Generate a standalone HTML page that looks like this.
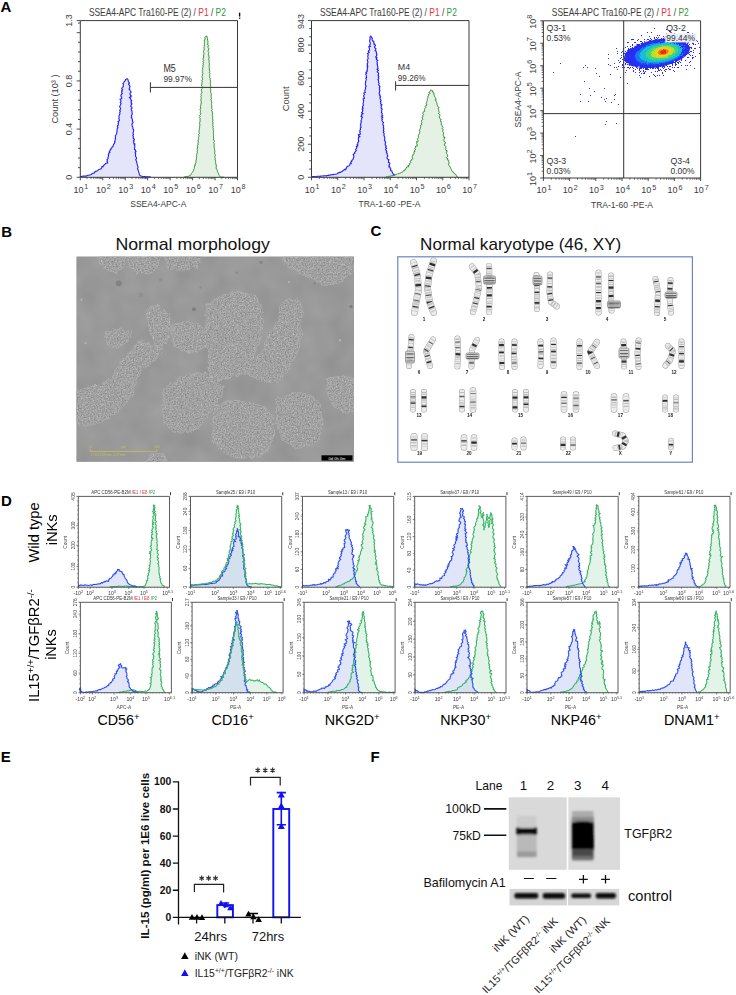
<!DOCTYPE html>
<html><head><meta charset="utf-8"><title>Figure</title>
<style>
html,body{margin:0;padding:0;background:#fff;}
body{width:736px;height:995px;overflow:hidden;}
svg{display:block;font-family:"Liberation Sans", sans-serif;}
</style></head>
<body>
<svg width="736" height="995" viewBox="0 0 736 995" font-family='"Liberation Sans", sans-serif'>
<rect x="0" y="0" width="736" height="995" fill="#fff"/>
<text x="0.60" y="12.10" font-size="15" text-anchor="start" fill="#000" font-weight="bold">A</text>
<text x="1.20" y="236.70" font-size="15" text-anchor="start" fill="#000" font-weight="bold">B</text>
<text x="370.60" y="236.40" font-size="15" text-anchor="start" fill="#000" font-weight="bold">C</text>
<text x="1.00" y="505.70" font-size="15" text-anchor="start" fill="#000" font-weight="bold">D</text>
<text x="0.80" y="761.90" font-size="15" text-anchor="start" fill="#000" font-weight="bold">E</text>
<text x="370.50" y="761.90" font-size="15" text-anchor="start" fill="#000" font-weight="bold">F</text>
<path d="M80.4 177.3l0-.9.5.2.7 0 .8-.3.9-.2 1 0 1 0 1 0 .9-.6.7-.2 1.1 0 .8-.3.9-.2.7-.5.7-.6.8-.5 1.1.1.4-1 .7-.5.8-.5.9-.2.8-.5.7-.6.7-.4.7-.3.8-.4.8-.4.5-.8.1-1.1 1.2.2 0-1.1.9-.2.2-1 .9-.2.3-.7.8-.4 1.5-.3-.7-1.6.5-.5-.6-1 .6-.7.6-.7-.1-1 .4-.8.1-1-.3-.9.8-.8-.3-.9 1.2-.4-.7-1 .9-.9.2-1 .7-.5 0-1 .9-.3.1-.9.9-.4.2-.6.3-.7.1-1 1-1 0-.6.6-.5-.6-.8.5-.6.2-.7 0-.8.2-.8.1-.8-.1-.9-.1-.9.5-.9.5-.8.5-.9 0-1 .2-1 0-.7.1-.8 0-.8.3-.7.6-.7-.7-1 0-.9 1.2-.6-.5-1 .4-.8.1-.9-.6-1 1.5-.6-.1-1-.5-.9.4-.9-.1-.9-.3-.9.4-.7.3-.8.4-.8 0-.8-.2-.9.7-.9-.8-1 .7-.8.3-.9-.5-1-.5-.9.4-.9.5-.8.2-.9.5-.8-1-.9.5-.7.3-.8-.3-.8-.8-.8 1.4-.6.6-.6-.4-1.1-.7-1.1.3-.9.3-.8 1-.7-.7-.8-.1-.8.6-.7-.5-.8.9-.5-.9-1 .3-.9.7-.7.6-.8 0-1 .1-.9-.5-1.1.8-.6.3-.7.3-.6 1-1 .3-1.1.9-.3.4-.5.6 0 .3.5.3.9.3 1.7.6.4 0 .5.6.4-1.1.8.2.6.7.5.2.6.5.7-.5.8.1.9-.7 1 .9.9.5 1.1.8 1.1-1.4 1.5.6 1.4.8.5-.7.7.8.6-2 .8 1 .6.3.7.3.8.9.7-.8.8.7.8-.8.9 1.1.8-.4.9-.8.9-.1.9 1.2.8.2.9-.9 1 0 .9.8.9 0 .9 0 1 .3.9-.2.9-.7 1 .3.9-.5 1 .9.8.1.9.4.9-.3.9.6.8.2.9-.9.9-.3.8.3.8-.1.8.5.7.4.7-.3.7.3.6.3.7.3.5 0 1.3-.5 1.2 0 1.1.4 1-.7 1 .6.9-.1.8-.2.9.9.7.5.6-1 .9.7.6-.7.7.4.6-.2.7.2.6 1.2.5-1 .7.6.6.1.7 0 1-.4.9.1.8 0 .8 1.1.6-.3.8.8.6-.8.8-.2.8.7.6-.3.9.1.9-.1 1.1.8.5.2.8.1.8-.9 1 .4.8.6.9 0 .9.2.9.2 1 .3.9.2.9.5.8-.1 1-.6 1 .5.7.3.8.3.7.1.7.1.6.3.5.4 1.6.4.9.6.4.7.3.9.2.7.2.8.4.9-.4 1 .4 1 0 1 0 .9.1.9.1.7-.1.5 0 0 .4" fill="#e4e4fb" fill-opacity="1.0" stroke="#1f1fff" stroke-width="1.1" stroke-linejoin="round"/>
<path d="M184.5 177.3l0-.5.5 0 .7-.1.8-.1.9 0 .9-.3.9-.4 1.1-.4.6-1 .2-.6.3-.4.4-.5.5-.4.3-.6.3-.5.5-.6.2-.7.2-.8.4-.7.1-.9 0-.9.6-.9.1-1 .2-1.1.8-1-.1-1.3-.2-.6.2-.6.7-.5-.5-.8.3-.6.1-.6.1-.7.1-.7-.2-.8.1-.7.2-.7.1-.8.4-.7.2-.7-.5-.9.5-.8-.3-.8.1-.8.2-.8.2-.9 0-.8-.5-.9 1.1-.8-.3-.9 0-.9.4-.9-.3-.9-.1-.9.6-.9 0-.9-.2-1 .5-.9 0-.9-.3-1 .8-.9-.3-1-.3-.7.4-.7 0-.7.3-.8-.5-.8.6-.7 0-.8 0-.7.1-.8.2-.8-.1-.9-.1-.8-.2-.8.6-.8 0-.9-.1-.8 0-.9.2-.8-.8-.9.8-.9-.7-.9.7-.8.3-.9.3-.8-.6-.9.3-.9-.1-.8-.5-.9.8-.9-.2-.8.1-.9-.2-.8.3-.9.1-.8.3-.8-.2-.9.9-.8-1-.8.1-.8.1-.8-.2-.8.7-.7-.2-.8-.5-.8.4-.7.3-.7-.6-.8.5-.6-.1-.7.7-.7-.4-1-.2-1 .1-1 .6-.9-.5-.9.7-.9-.9-.9.4-.8.1-.9-.1-.8.2-.8.2-.8-.2-.8-.2-.8.8-.7 0-.7-.5-.8.3-.7-.6-.8.9-.7-.5-.7.2-.8.7-.6-.8-.8.4-.7-.2-.8-.2-.8.2-.7.4-.7-.3-.8.2-.8.4-.8-.2-.8-.2-.9.7-.8-.3-.9.4-.8-.6-.9.8-.9-.7-1-.1-.9.4-.9.1-.9.2-.9-.2-.9.4-.9.2-.9-.5-.9-.1-.9.3-.9.4-.8 0-.8-.2-.9-.1-.8.3-.8.3-.7-.4-.8.5-.6-.2-.7.1-.7-.2-.6.6-.5-.3-.6-.4-.5.9-2.1-.1-1.4.7-.7 0-.4.2-.3.3.2.3-.2.4 0 .1.5.1.8.4 1.4.3 2.2.2.5-.3.5.2.6-.2.6.2.7-.4.7 1 .6-.3.8-.1.7-.1.8.7.8 0 .8-.3.9-.2.9 0 .8.7.9-.3.9-.3.9.4.9.3.9 0 .9.2.9-.6 1 .4.9.1.9.1.9-.1.9.2.9.1.8-.2.9.1.8-.1.8.1.8-.2.8.4.8-.1.9.1.8.3.7-.5.8.5.8.3.7-.6.8.2.7.3.7-.3.7 0 .7.2.7.5.7-.3.8.4.7-.1.7 0 .8.2.7-.3.8.3.8-.3.8.2.8.3.9-.2.9 0 .9-.1 1 .4.9-.4 1.1.3 1-.1.7.7.6 0 .7-.6.7.5.7-.2.7-.1.8.7.7-.4.8-.4.8.4.7.2.8-.1.8.2.8-.1.8-.1.9.4.8-.2.8.2.9-.1.8 0 .9.6.8-.6.9.2.8.5.9-.1.9.3.8-.2.9-.1.9.4.8-.1.9.1.8 0 .9.1.9.1.8-.4.9.3.8.2.8-.4.9.4.8-.3.8.6.8-.6.9.5.7.2.8-.3.8.5.8 0 .7-.3.8.2.7-.1.9.1.9 0 .9.1.9-.1 1 .2.9-.2.9.1.9.8.9 0 .9-.8.9.6.9-.1.9.1.9 0 .9-.4.9.7.8-.1.9.1.9.3.8 0 .8-.1.9 0 .8 0 .8.6.8 0 .8-.7.8.5.7-.2.8.4.7.1.7-.6.8.9.6 0 .7-.4.7.3.6.5.5-.4.7-.1.6.7.4 0 1.6-.1 1.3.1 1.3 1 .8 0 1.1.2.8.4.7.3.7.3.7.1.6.5.4.1.6.3.4.3.5.9.9 1 .1 1 .1.8-.1.5 0 0 .1" fill="#e5f1e5" fill-opacity="1.0" stroke="#2b8f2b" stroke-width="1.0" stroke-linejoin="round"/>
<path d="M80.3,177.3 L80.3,20.6 L237.5,20.6 L237.5,177.3 Z" fill="none" stroke="#3a3a3a" stroke-width="1"/>
<text x="72.30" y="177.30" font-size="9" text-anchor="middle" fill="#3c3c3c" transform="rotate(-90 72.30 177.30)">0</text>
<text x="72.30" y="129.10" font-size="9" text-anchor="middle" fill="#3c3c3c" transform="rotate(-90 72.30 129.10)">0.4</text>
<text x="72.30" y="80.90" font-size="9" text-anchor="middle" fill="#3c3c3c" transform="rotate(-90 72.30 80.90)">0.8</text>
<text x="72.30" y="20.60" font-size="9" text-anchor="middle" fill="#3c3c3c" transform="rotate(-90 72.30 20.60)">1.3</text>
<text x="58.20" y="99.00" font-size="9.6" text-anchor="middle" fill="#3c3c3c" transform="rotate(-90 58.20 99.00)" textLength="49.00" lengthAdjust="spacingAndGlyphs">Count  (10³ )</text>
<text x="80.90" y="192.60" font-size="9.0" text-anchor="middle" fill="#3c3c3c">10<tspan font-size="7.2" dx="0.9" dy="-3.42">1</tspan></text>
<text x="103.36" y="192.60" font-size="9.0" text-anchor="middle" fill="#3c3c3c">10<tspan font-size="7.2" dx="0.9" dy="-3.42">2</tspan></text>
<text x="125.82" y="192.60" font-size="9.0" text-anchor="middle" fill="#3c3c3c">10<tspan font-size="7.2" dx="0.9" dy="-3.42">3</tspan></text>
<text x="148.28" y="192.60" font-size="9.0" text-anchor="middle" fill="#3c3c3c">10<tspan font-size="7.2" dx="0.9" dy="-3.42">4</tspan></text>
<text x="170.74" y="192.60" font-size="9.0" text-anchor="middle" fill="#3c3c3c">10<tspan font-size="7.2" dx="0.9" dy="-3.42">5</tspan></text>
<text x="193.20" y="192.60" font-size="9.0" text-anchor="middle" fill="#3c3c3c">10<tspan font-size="7.2" dx="0.9" dy="-3.42">6</tspan></text>
<text x="215.66" y="192.60" font-size="9.0" text-anchor="middle" fill="#3c3c3c">10<tspan font-size="7.2" dx="0.9" dy="-3.42">7</tspan></text>
<text x="238.12" y="192.60" font-size="9.0" text-anchor="middle" fill="#3c3c3c">10<tspan font-size="7.2" dx="0.9" dy="-3.42">8</tspan></text>
<text x="158.30" y="207.30" font-size="9.4" text-anchor="middle" fill="#3c3c3c" textLength="56.00" lengthAdjust="spacingAndGlyphs">SSEA4-APC-A</text>
<text x="157.40" y="15.90" font-size="10.6" text-anchor="middle" fill="#3c3c3c" textLength="137.00" lengthAdjust="spacingAndGlyphs"><tspan fill="#3c3c3c">SSEA4-APC Tra160-PE (2) / </tspan><tspan fill="#f0303a">P1</tspan><tspan fill="#3c3c3c"> / </tspan><tspan fill="#2e9a3a">P2</tspan></text>
<rect x="238.90" y="12.60" width="1.40" height="4.00" fill="#111" stroke="none" stroke-width="1"/>
<rect x="238.90" y="17.60" width="1.40" height="1.20" fill="#111" stroke="none" stroke-width="1"/>
<text x="163.40" y="72.30" font-size="10.2" text-anchor="start" fill="#333" textLength="12.40" lengthAdjust="spacingAndGlyphs">M5</text>
<text x="163.40" y="82.00" font-size="9.9" text-anchor="start" fill="#333" textLength="28.60" lengthAdjust="spacingAndGlyphs">99.97%</text>
<path d="M311.9 177.3l0-.5.5.1.6-.4.7 0 .9.1.9.2.9-.3.9-.3.9 0 1 .1.8.1.8-.3.8-.1.7 0 .8 0 .7-.2.8 0 .8 0 .9.1.8-.4 1 0 .7-.5.8.2.8-.3.8-.2.9-.1.9.1.8-.5 1 .1.9-.1.9-.2.8-.2.6-1 1 .1.6-.6 1 .1.6-.6.7-.4.8-.3.5-.7.8-.3.5-.7 1.3.3.1-1.2.7-.5.1-1 .7-.5.7-.5 1.1-.2.4-.6.3-.7.1-.8 1.3-.1-.7-1.3.5-.6.8-.4-.2-1 .9-.4.6-.7-.1-.9.5-.7.2-.9 0-1-.7-1.2 1.1-.7.7-.5-.4-.9.7-.5.5-.7.7-.6-.9-1.1.6-.7.5-.7.3-.7-.6-1.1 1.6-.4-.9-1.2 1-.6-.3-1 .4-.8.7-.7-.2-1-.1-.9-.3-.9.4-.8-.2-.9 1.6-.5-1.4-1.1-.3-.9 2-.4 0-.8-.6-.9.6-.7-.6-.8.2-.8.6-.6 0-.8-.3-.8 1-.6-.3-.8-.2-.8-.5-.8.7-.8-.1-.8.2-.8.4-.8-.5-1 .5-.8.3-.9-.1-1 1-.9-1.7-.9.9-.6-.4-.7.5-.7 1.3-.6-1.8-.9.7-.7.5-.7-.1-.8.5-.8-1-.9 1.2-.7-.7-.9-.1-.8.9-.8.1-.8-.4-.9.1-.8.3-.8.2-.9.1-.8-.3-.9-.5-.9 1.7-.7-.4-.8-.5-1 0-.8.5-.8.2-.8-.7-.9 1.7-.6-.4-.8-.2-.9.4-.7 0-.8.5-.8-.3-.9.5-.8.3-.9-.8-.9 0-.9-.1-.9.4-.8-.2-.9.4-.8.3-.8.1-.9-.6-.9 1-.8-.5-.8.1-.9-.1-.8-.6-.9 1.1-.7-.8-.9 1.3-.7-.4-.9.8-.7-.4-.8.1-.8.4-.7-.6-.9.8-.6-.7-.9.3-.7-.4-.7.6-.9.2-1-.4-1-.3-1 .7-.8.3-.9-.2-1-.3-.9.3-.9.3-.8-1-1 1-.7 1-.8-1.1-.9.5-.7 1-.7-.4-.8.2-.7-.4-.8-.4-.8 1.9-.4-1-.8 0-.6.8-1.1-.3-1.3-.2-1.1-.4-1.1.5-.8.1-.9-.1-.8 0-.6.1-.6.5-.3.1-.4.3.3.1.5.6.6.6 1-.3 1.4.8 1.1 1.1.3-.1.8-.1.8.6.5-.4.9 1.3.5.3.9-1.1 1.2.4 1 1.2.9-.5 1.3-.5.7 1.2.5.1.6.1.7 0 .7.5.7-.5.8.5.7-.5.8-.9.9 1.6.7-.8.9 0 .8 1.6.7-.9 1 .1.9.3.8-.5 1 .7.8-.3 1 .5.9 0 .9.3 1-1.2.8 1.1.6.5.6-1.3.9.2.7.9.6.3.7.1.7-.8.9.7.6.3.8-.7.8.6.7 0 .8-.9.8.6.8-.1.8.4.8-.3.8.7.8-.4.8 0 .9.8.8.4.8-.7.9.4.9-.3.9.6.8-.4 1-.1.9-.5 1 .3.9.7.6-.4.8 1 .6-.8.9.6.7-.5.8.5.7.4.8.3.8-.8.9.6.7-.3.9.2.8 1.2.7-1.1 1 .5.8-.2.9 0 .8 1.1.8-.6.9 0 .9-.1.9-.2.8.8.8-.1.9-.3.9 1.2.7-1.6 1 1.4.7-1 1 .6.8-.6.9.4.7.6.8.8.7-.7.9 0 .8 0 .8.8.6-.1.8.1.7-.4.8.6.7-.2.9-.4 1 .7.9-.7 1 .6.8.4.9-.5.9.3.9.5.8.2.8-.1.9 0 .9-.3.8.5.8.5.8.4.7-.6.9.1.8-.2.8.8.7.5.7-.9.9.6.7.6.6-1.2.9.4.7.5.6 0 .7.6.6-.7.8.8.5.1.7.1 1 .6 1-.8 1.1-.1 1 .6.9 1.4.7-.6 1 .3.8-.3.9 1.3.5.2.8-.6.9-.4.9.7.5-.8.9 1.4.3-.1.7.2.6.5.5-.2 1.4 1.2.6.3.8.3.9.5.6.3.8.8.2.4.7.7.2.7.7 1 .1 1 .3 1.1-.2.9.5.9-.2.7.4.6 0 0 .5" fill="#e4e4fb" fill-opacity="1.0" stroke="#1f1fff" stroke-width="1.1" stroke-linejoin="round"/>
<path d="M385.9 177.3l0-.4.5-.2.7.5.6-.6.7-.2.9 0 .8-.3 1-.2.9 0 1-.3 1 0 .9-.4.8-.6.8-.2.8-.2.6-.6.9.1.7-.4.9 0 .4-.8.8-.3.8-.2.7-.4.3-.9 1.1.1.2-1.1 1-.1.2-1.1.6-.7.1-.8.8-.2 1.3 0-.7-1.4 1.3-.1.3-.7-.4-1.1 1-.3.5-.7-.3-1.1.2-.8 1.1-.4 0-1 1.1-.5-.4-1.1-.3-1.1.8-.7-.2-1.1 1.2-.6.3-.7-.3-.8 0-.8 1.1-.5-.4-1 1-.6-.8-1.1.6-.7.1-.8 0-.9 2-.4-.3-1-.8-1.1.9-.7-1-1.2 1.6-.5.1-.9-.4-1 .2-.8.5-.8.3-.7-.2-.9 0-.9.4-.7.1-.7.8-.6-.1-1 .3-.9-.7-1.1.8-.7.2-.8.1-.9.3-.8.1-.8-.4-.9 1.3-.6.2-.8-.5-.9.7-.7-.6-.9 0-.8.6-.6 1-.6-.6-.9-.5-.9 1-.6-.1-.9.1-.9.7-.8-.8-1.1.2-.8.4-.8 1.4-.6-.3-.9-.1-.9.2-.8.8-.7.5-.7-.7-1 .6-.7 1.2-.5-.6-1-.2-.8.5-.8.1-.9.5-.8.1-1-.1-1 .4-.8.5-.8-.3-1 .6-.7-.2-.9 1.2-.4.3-.6-.9-1 1-.3-.1-.6.8-1.4.6-.5.7.9 0 .5 1.1 0-.6 1 .9.4.7.5-.2 1 .1 1 .6.7.2 1 .6.9.4.9-.5.9 1.1.4-.7 1 .5.7.5.6.2.8.3.8 0 .9.3.8.2.9 1 .6.3.9-.9 1.1.7.8.1.9 0 .9.7.8-1.1 1 .9.6.3.7.5.7-.7 1 .3.7-.2.9.4.7 1 .6.4.7-1.1 1.1 1.1.6-.1.9.2.8-.1.9.1.9.9.7 0 .9.7.8-.9 1.2.5.6.8.6-1.1 1 .6.7.6.7-.2.8.2.8-.1.8 0 .9.5.7-.3.9 1.5.6-.9 1-.3.9 0 .9.2.8 1 .7.4.8-.5.9-1.1 1 1.1.7.6.7.6.7-.7 1 .4.7-.3.9.4.8 1.3.6-.8 1.1-.3 1 .8.7.5.8.1.9.3.9-1.4 1.2.5.8 1.1.6-.7 1.1 1.3.5 0 .9.3.8 0 .8-.2.9-.4.9.8.6.6.6.1.7.4.6 0 .7.9.7.1 1.1.5.9.5.9 1 .4.3.9.6.6.8.4.7.4.3.7.3.7.6.3 0 .7.5.1 0 .5" fill="#e5f1e5" fill-opacity="1.0" stroke="#2b8f2b" stroke-width="1.0" stroke-linejoin="round"/>
<path d="M311.5,177.3 L311.5,20.6 L469.0,20.6 L469.0,177.3 Z" fill="none" stroke="#3a3a3a" stroke-width="1"/>
<text x="303.80" y="177.30" font-size="9" text-anchor="middle" fill="#3c3c3c" transform="rotate(-90 303.80 177.30)">0</text>
<text x="303.80" y="144.25" font-size="9" text-anchor="middle" fill="#3c3c3c" transform="rotate(-90 303.80 144.25)">200</text>
<text x="303.80" y="111.20" font-size="9" text-anchor="middle" fill="#3c3c3c" transform="rotate(-90 303.80 111.20)">400</text>
<text x="303.80" y="78.15" font-size="9" text-anchor="middle" fill="#3c3c3c" transform="rotate(-90 303.80 78.15)">600</text>
<text x="303.80" y="45.10" font-size="9" text-anchor="middle" fill="#3c3c3c" transform="rotate(-90 303.80 45.10)">800</text>
<text x="303.80" y="21.60" font-size="9" text-anchor="middle" fill="#3c3c3c" transform="rotate(-90 303.80 21.60)">943</text>
<text x="289.20" y="98.80" font-size="9.6" text-anchor="middle" fill="#3c3c3c" transform="rotate(-90 289.20 98.80)" textLength="25.00" lengthAdjust="spacingAndGlyphs">Count</text>
<text x="312.10" y="192.60" font-size="9.0" text-anchor="middle" fill="#3c3c3c">10<tspan font-size="7.2" dx="0.9" dy="-3.42">1</tspan></text>
<text x="338.35" y="192.60" font-size="9.0" text-anchor="middle" fill="#3c3c3c">10<tspan font-size="7.2" dx="0.9" dy="-3.42">2</tspan></text>
<text x="364.60" y="192.60" font-size="9.0" text-anchor="middle" fill="#3c3c3c">10<tspan font-size="7.2" dx="0.9" dy="-3.42">3</tspan></text>
<text x="390.85" y="192.60" font-size="9.0" text-anchor="middle" fill="#3c3c3c">10<tspan font-size="7.2" dx="0.9" dy="-3.42">4</tspan></text>
<text x="417.10" y="192.60" font-size="9.0" text-anchor="middle" fill="#3c3c3c">10<tspan font-size="7.2" dx="0.9" dy="-3.42">5</tspan></text>
<text x="443.35" y="192.60" font-size="9.0" text-anchor="middle" fill="#3c3c3c">10<tspan font-size="7.2" dx="0.9" dy="-3.42">6</tspan></text>
<text x="469.60" y="192.60" font-size="9.0" text-anchor="middle" fill="#3c3c3c">10<tspan font-size="7.2" dx="0.9" dy="-3.42">7</tspan></text>
<text x="389.50" y="207.30" font-size="9.4" text-anchor="middle" fill="#3c3c3c" textLength="62.00" lengthAdjust="spacingAndGlyphs">TRA-1-60 -PE-A</text>
<text x="388.40" y="15.90" font-size="10.6" text-anchor="middle" fill="#3c3c3c" textLength="137.00" lengthAdjust="spacingAndGlyphs"><tspan fill="#3c3c3c">SSEA4-APC Tra160-PE (2) / </tspan><tspan fill="#f0303a">P1</tspan><tspan fill="#3c3c3c"> / </tspan><tspan fill="#2e9a3a">P2</tspan></text>
<text x="397.80" y="70.00" font-size="9.6" text-anchor="start" fill="#333" textLength="12.40" lengthAdjust="spacingAndGlyphs">M4</text>
<text x="397.80" y="80.60" font-size="9.6" text-anchor="start" fill="#333" textLength="27.80" lengthAdjust="spacingAndGlyphs">99.26%</text>
<defs><filter id="disp" x="-10%" y="-20%" width="120%" height="140%"><feTurbulence type="fractalNoise" baseFrequency="0.9" numOctaves="1" seed="3" result="t"/><feDisplacementMap in="SourceGraphic" in2="t" scale="3.2" xChannelSelector="R" yChannelSelector="G"/></filter></defs>
<g filter="url(#disp)">
<ellipse cx="657.0" cy="53.3" rx="33.5" ry="13.8" fill="#2a2af0" fill-opacity="1.0" transform="rotate(-10 657.0 53.3)"/>
<ellipse cx="658.5" cy="53.0" rx="29" ry="12.2" fill="#1e3cf5" fill-opacity="1.0" transform="rotate(-10 658.5 53.0)"/>
<ellipse cx="660.0" cy="52.7" rx="25.5" ry="10.9" fill="#1a78f0" fill-opacity="1.0" transform="rotate(-10 660.0 52.7)"/>
<ellipse cx="661.0" cy="52.5" rx="22" ry="9.5" fill="#19bfd8" fill-opacity="1.0" transform="rotate(-10 661.0 52.5)"/>
<ellipse cx="662.0" cy="52.3" rx="16.5" ry="7.4" fill="#3fd67a" fill-opacity="1.0" transform="rotate(-10 662.0 52.3)"/>
<ellipse cx="662.6" cy="52.1" rx="12.2" ry="5.7" fill="#b8e02c" fill-opacity="1.0" transform="rotate(-10 662.6 52.1)"/>
<ellipse cx="663.0" cy="52.0" rx="8.6" ry="4.2" fill="#f5d020" fill-opacity="1.0" transform="rotate(-10 663.0 52.0)"/>
<ellipse cx="663.2" cy="52.0" rx="5.6" ry="3.0" fill="#f57a18" fill-opacity="1.0" transform="rotate(-10 663.2 52.0)"/>
<ellipse cx="663.4" cy="52.0" rx="3.0" ry="1.8" fill="#e52a14" fill-opacity="1.0" transform="rotate(-10 663.4 52.0)"/>
</g>
<path d="M637 45h1v1h-1zM618 60h1v1h-1zM637 50h1v1h-1zM632 64h1v1h-1zM699 53h1v1h-1zM676 43h1v1h-1zM688 51h1v1h-1zM631 55h1v1h-1zM647 69h1v1h-1zM636 50h1v1h-1zM683 36h1v1h-1zM637 65h1v1h-1zM669 62h1v1h-1zM638 48h1v1h-1zM685 46h1v1h-1zM633 63h1v1h-1zM684 42h1v1h-1zM628 58h1v1h-1zM639 49h1v1h-1zM674 67h1v1h-1zM690 55h1v1h-1zM694 48h1v1h-1zM630 67h1v1h-1zM660 40h1v1h-1zM641 66h1v1h-1zM653 40h1v1h-1zM682 47h1v1h-1zM688 49h1v1h-1zM650 68h1v1h-1zM690 61h1v1h-1zM632 44h1v1h-1zM646 67h1v1h-1zM670 66h1v1h-1zM633 63h1v1h-1zM654 66h1v1h-1zM683 45h1v1h-1zM680 57h1v1h-1zM684 40h1v1h-1zM688 32h1v1h-1zM666 29h1v1h-1zM625 63h1v1h-1zM650 68h1v1h-1zM650 68h1v1h-1zM685 42h1v1h-1zM631 62h1v1h-1zM680 37h1v1h-1zM635 48h1v1h-1zM679 58h1v1h-1zM633 54h1v1h-1zM677 67h1v1h-1zM672 63h1v1h-1zM647 69h1v1h-1zM646 65h1v1h-1zM633 53h1v1h-1zM679 43h1v1h-1zM638 50h1v1h-1zM654 37h1v1h-1zM633 48h1v1h-1zM670 38h1v1h-1zM683 39h1v1h-1zM666 64h1v1h-1zM629 54h1v1h-1zM660 66h1v1h-1zM632 54h1v1h-1zM663 75h1v1h-1zM661 42h1v1h-1zM696 40h1v1h-1zM637 65h1v1h-1zM636 65h1v1h-1zM660 42h1v1h-1zM647 42h1v1h-1zM684 42h1v1h-1zM666 35h1v1h-1zM630 53h1v1h-1zM642 46h1v1h-1zM673 40h1v1h-1zM632 44h1v1h-1zM684 41h1v1h-1zM627 64h1v1h-1zM677 40h1v1h-1zM644 73h1v1h-1zM674 43h1v1h-1zM617 53h1v1h-1zM659 41h1v1h-1zM659 75h1v1h-1zM689 47h1v1h-1zM630 60h1v1h-1zM614 67h1v1h-1zM683 39h1v1h-1zM683 54h1v1h-1zM632 61h1v1h-1zM642 42h1v1h-1zM633 71h1v1h-1zM639 72h1v1h-1zM678 37h1v1h-1zM631 39h1v1h-1zM673 62h1v1h-1zM631 50h1v1h-1zM691 47h1v1h-1zM676 59h1v1h-1zM683 51h1v1h-1zM638 48h1v1h-1zM656 42h1v1h-1zM693 52h1v1h-1zM663 36h1v1h-1zM635 50h1v1h-1zM632 50h1v1h-1zM625 63h1v1h-1zM690 61h1v1h-1zM662 66h1v1h-1zM662 42h1v1h-1zM687 52h1v1h-1zM640 41h1v1h-1zM643 43h1v1h-1zM693 57h1v1h-1zM667 41h1v1h-1zM680 43h1v1h-1zM674 39h1v1h-1zM650 38h1v1h-1zM648 39h1v1h-1zM680 47h1v1h-1zM653 41h1v1h-1zM647 65h1v1h-1zM675 64h1v1h-1zM629 55h1v1h-1zM688 53h1v1h-1zM682 57h1v1h-1zM632 67h1v1h-1zM683 45h1v1h-1zM630 46h1v1h-1zM659 70h1v1h-1zM641 35h1v1h-1zM663 40h1v1h-1zM668 40h1v1h-1zM671 63h1v1h-1zM642 44h1v1h-1zM657 68h1v1h-1zM678 63h1v1h-1zM655 65h1v1h-1zM626 61h1v1h-1zM643 43h1v1h-1zM623 53h1v1h-1zM658 66h1v1h-1zM683 48h1v1h-1zM685 65h1v1h-1zM658 70h1v1h-1zM683 44h1v1h-1zM697 41h1v1h-1zM641 68h1v1h-1zM675 41h1v1h-1zM687 57h1v1h-1zM649 43h1v1h-1zM634 60h1v1h-1zM645 43h1v1h-1zM665 69h1v1h-1zM652 68h1v1h-1zM693 50h1v1h-1zM693 50h1v1h-1zM620 61h1v1h-1zM623 48h1v1h-1zM644 39h1v1h-1zM632 62h1v1h-1zM688 57h1v1h-1zM681 60h1v1h-1zM639 65h1v1h-1zM630 55h1v1h-1zM649 76h1v1h-1zM635 64h1v1h-1zM647 68h1v1h-1zM626 70h1v1h-1zM641 73h1v1h-1zM622 64h1v1h-1zM665 40h1v1h-1zM688 50h1v1h-1zM640 66h1v1h-1zM687 32h1v1h-1zM621 52h1v1h-1zM627 58h1v1h-1zM647 66h1v1h-1zM667 42h1v1h-1zM680 45h1v1h-1zM634 61h1v1h-1zM662 72h1v1h-1zM661 38h1v1h-1zM625 51h1v1h-1zM649 43h1v1h-1zM683 50h1v1h-1zM627 67h1v1h-1zM628 48h1v1h-1zM673 42h1v1h-1zM664 64h1v1h-1zM657 41h1v1h-1zM692 57h1v1h-1zM687 65h1v1h-1zM655 76h1v1h-1zM627 83h1v1h-1zM640 77h1v1h-1zM629 56h1v1h-1zM680 43h1v1h-1zM658 68h1v1h-1zM631 53h1v1h-1zM621 57h1v1h-1zM628 60h1v1h-1zM675 63h1v1h-1zM633 39h1v1h-1zM663 38h1v1h-1zM660 69h1v1h-1zM629 49h1v1h-1zM657 71h1v1h-1zM622 65h1v1h-1zM654 38h1v1h-1zM639 69h1v1h-1zM622 51h1v1h-1zM678 59h1v1h-1zM647 32h1v1h-1zM692 43h1v1h-1zM678 39h1v1h-1zM695 35h1v1h-1zM630 48h1v1h-1zM644 46h1v1h-1zM693 44h1v1h-1zM694 68h1v1h-1zM684 49h1v1h-1zM636 47h1v1h-1zM662 39h1v1h-1zM684 50h1v1h-1zM667 38h1v1h-1zM639 46h1v1h-1zM656 39h1v1h-1zM634 52h1v1h-1zM639 75h1v1h-1zM608 54h1v1h-1zM677 44h1v1h-1zM659 39h1v1h-1zM631 57h1v1h-1zM684 39h1v1h-1zM680 58h1v1h-1zM678 39h1v1h-1zM681 65h1v1h-1zM650 40h1v1h-1zM634 42h1v1h-1zM632 63h1v1h-1zM669 40h1v1h-1zM669 69h1v1h-1zM665 63h1v1h-1zM655 39h1v1h-1zM661 39h1v1h-1zM675 62h1v1h-1zM672 38h1v1h-1zM625 47h1v1h-1zM647 39h1v1h-1zM640 45h1v1h-1zM684 55h1v1h-1zM646 65h1v1h-1zM640 68h1v1h-1zM677 39h1v1h-1zM669 31h1v1h-1zM629 65h1v1h-1zM640 71h1v1h-1zM657 41h1v1h-1zM685 52h1v1h-1zM632 51h1v1h-1zM679 44h1v1h-1zM682 36h1v1h-1zM672 42h1v1h-1zM633 65h1v1h-1zM637 40h1v1h-1zM638 44h1v1h-1zM651 39h1v1h-1zM627 61h1v1h-1zM645 68h1v1h-1zM677 60h1v1h-1zM680 62h1v1h-1zM685 50h1v1h-1zM672 64h1v1h-1zM699 47h1v1h-1zM663 64h1v1h-1zM629 51h1v1h-1zM675 40h1v1h-1zM692 38h1v1h-1zM687 37h1v1h-1zM629 62h1v1h-1zM668 35h1v1h-1zM642 43h1v1h-1zM657 75h1v1h-1zM630 62h1v1h-1zM636 51h1v1h-1zM628 42h1v1h-1zM639 46h1v1h-1zM640 67h1v1h-1zM651 32h1v1h-1zM668 36h1v1h-1zM676 42h1v1h-1zM679 58h1v1h-1zM637 48h1v1h-1zM674 40h1v1h-1zM632 54h1v1h-1zM685 60h1v1h-1zM685 41h1v1h-1zM628 57h1v1h-1zM667 40h1v1h-1zM689 54h1v1h-1zM681 43h1v1h-1zM685 46h1v1h-1zM685 46h1v1h-1zM632 57h1v1h-1zM630 60h1v1h-1zM670 63h1v1h-1zM644 46h1v1h-1zM685 48h1v1h-1zM683 46h1v1h-1zM660 40h1v1h-1zM619 62h1v1h-1zM675 41h1v1h-1zM634 63h1v1h-1zM664 67h1v1h-1zM647 66h1v1h-1zM688 42h1v1h-1zM695 56h1v1h-1zM666 65h1v1h-1zM670 36h1v1h-1zM658 65h1v1h-1zM663 66h1v1h-1zM643 45h1v1h-1zM675 41h1v1h-1zM681 52h1v1h-1zM692 55h1v1h-1zM695 48h1v1h-1zM671 41h1v1h-1zM637 63h1v1h-1zM650 65h1v1h-1zM637 68h1v1h-1zM662 73h1v1h-1zM636 47h1v1h-1zM691 48h1v1h-1zM679 61h1v1h-1zM670 63h1v1h-1zM633 68h1v1h-1zM640 47h1v1h-1zM691 51h1v1h-1zM624 53h1v1h-1zM684 43h1v1h-1zM664 66h1v1h-1zM676 64h1v1h-1zM690 41h1v1h-1zM632 53h1v1h-1zM690 65h1v1h-1zM676 59h1v1h-1zM624 60h1v1h-1zM635 72h1v1h-1zM644 72h1v1h-1zM685 40h1v1h-1zM635 69h1v1h-1zM649 66h1v1h-1zM658 69h1v1h-1zM616 48h1v1h-1zM661 64h1v1h-1zM631 61h1v1h-1zM640 45h1v1h-1zM660 39h1v1h-1zM673 70h1v1h-1zM633 51h1v1h-1zM689 62h1v1h-1zM681 53h1v1h-1zM681 46h1v1h-1zM630 59h1v1h-1zM662 67h1v1h-1zM629 50h1v1h-1zM635 72h1v1h-1zM648 69h1v1h-1zM678 67h1v1h-1zM626 52h1v1h-1zM618 66h1v1h-1zM631 56h1v1h-1zM679 43h1v1h-1zM650 67h1v1h-1zM689 41h1v1h-1zM656 42h1v1h-1zM665 39h1v1h-1zM640 45h1v1h-1zM661 70h1v1h-1zM632 65h1v1h-1zM685 49h1v1h-1zM690 51h1v1h-1zM672 67h1v1h-1zM622 65h1v1h-1zM672 65h1v1h-1zM634 59h1v1h-1zM646 69h1v1h-1zM661 40h1v1h-1zM688 48h1v1h-1zM667 66h1v1h-1zM662 65h1v1h-1zM688 39h1v1h-1zM637 64h1v1h-1zM672 61h1v1h-1zM627 46h1v1h-1zM646 68h1v1h-1zM678 41h1v1h-1zM658 41h1v1h-1zM632 60h1v1h-1zM649 36h1v1h-1zM636 67h1v1h-1zM682 51h1v1h-1zM639 44h1v1h-1zM632 63h1v1h-1zM646 67h1v1h-1zM635 42h1v1h-1zM675 39h1v1h-1zM684 44h1v1h-1zM665 36h1v1h-1zM640 66h1v1h-1zM678 43h1v1h-1zM681 46h1v1h-1zM667 26h1v1h-1zM664 70h1v1h-1zM689 48h1v1h-1zM647 65h1v1h-1zM620 58h1v1h-1zM683 52h1v1h-1zM686 50h1v1h-1zM653 41h1v1h-1zM662 66h1v1h-1zM637 50h1v1h-1zM698 43h1v1h-1zM650 43h1v1h-1zM658 37h1v1h-1zM661 64h1v1h-1zM628 56h1v1h-1zM649 67h1v1h-1zM639 68h1v1h-1zM636 67h1v1h-1zM673 41h1v1h-1zM632 58h1v1h-1zM644 43h1v1h-1zM651 67h1v1h-1zM638 47h1v1h-1zM638 39h1v1h-1zM643 44h1v1h-1zM669 62h1v1h-1zM632 51h1v1h-1zM640 48h1v1h-1zM666 33h1v1h-1zM644 72h1v1h-1zM628 50h1v1h-1zM661 40h1v1h-1zM655 42h1v1h-1zM644 67h1v1h-1zM680 40h1v1h-1zM695 44h1v1h-1zM637 46h1v1h-1zM656 40h1v1h-1zM684 54h1v1h-1zM666 64h1v1h-1zM623 66h1v1h-1zM625 72h1v1h-1zM639 70h1v1h-1zM641 43h1v1h-1zM608 58h1v1h-1zM673 70h1v1h-1zM680 40h1v1h-1zM687 48h1v1h-1zM664 39h1v1h-1zM684 40h1v1h-1zM657 42h1v1h-1zM682 49h1v1h-1zM663 68h1v1h-1zM634 64h1v1h-1zM651 72h1v1h-1zM622 67h1v1h-1zM646 67h1v1h-1zM621 55h1v1h-1zM672 61h1v1h-1zM676 61h1v1h-1zM686 47h1v1h-1zM626 52h1v1h-1zM685 50h1v1h-1zM634 63h1v1h-1zM670 41h1v1h-1zM655 40h1v1h-1zM674 60h1v1h-1zM627 59h1v1h-1zM632 49h1v1h-1zM634 54h1v1h-1zM638 45h1v1h-1zM682 55h1v1h-1zM632 59h1v1h-1zM667 42h1v1h-1zM663 66h1v1h-1zM631 54h1v1h-1zM683 46h1v1h-1zM669 66h1v1h-1zM692 58h1v1h-1zM678 57h1v1h-1zM666 69h1v1h-1zM684 54h1v1h-1zM635 62h1v1h-1zM632 57h1v1h-1zM620 58h1v1h-1zM686 46h1v1h-1zM637 46h1v1h-1zM640 46h1v1h-1zM645 69h1v1h-1zM658 68h1v1h-1zM630 53h1v1h-1zM630 57h1v1h-1zM632 48h1v1h-1zM682 52h1v1h-1zM617 51h1v1h-1zM644 46h1v1h-1zM668 41h1v1h-1zM649 40h1v1h-1zM681 52h1v1h-1zM610 65h1v1h-1zM650 67h1v1h-1zM684 40h1v1h-1zM674 33h1v1h-1zM680 56h1v1h-1zM687 50h1v1h-1zM667 40h1v1h-1zM655 68h1v1h-1zM635 51h1v1h-1zM667 36h1v1h-1zM643 68h1v1h-1zM638 63h1v1h-1zM643 73h1v1h-1zM682 56h1v1h-1zM622 59h1v1h-1zM692 33h1v1h-1zM633 59h1v1h-1zM633 52h1v1h-1zM670 31h1v1h-1zM627 59h1v1h-1zM635 62h1v1h-1zM672 61h1v1h-1zM628 51h1v1h-1zM677 62h1v1h-1zM654 75h1v1h-1zM689 52h1v1h-1zM628 49h1v1h-1zM649 65h1v1h-1zM654 28h1v1h-1zM642 65h1v1h-1zM682 50h1v1h-1zM652 68h1v1h-1zM676 34h1v1h-1zM657 68h1v1h-1zM656 37h1v1h-1zM685 54h1v1h-1zM659 41h1v1h-1zM678 57h1v1h-1zM690 47h1v1h-1zM644 46h1v1h-1zM645 71h1v1h-1zM634 52h1v1h-1zM637 48h1v1h-1zM643 71h1v1h-1zM682 56h1v1h-1zM655 41h1v1h-1zM653 68h1v1h-1zM654 66h1v1h-1zM633 70h1v1h-1zM681 42h1v1h-1zM686 52h1v1h-1zM632 45h1v1h-1zM655 71h1v1h-1zM668 38h1v1h-1zM689 44h1v1h-1zM636 51h1v1h-1zM647 67h1v1h-1zM686 47h1v1h-1zM660 65h1v1h-1zM663 41h1v1h-1zM643 65h1v1h-1zM682 46h1v1h-1zM681 59h1v1h-1zM687 50h1v1h-1zM623 62h1v1h-1zM663 64h1v1h-1zM657 67h1v1h-1zM648 43h1v1h-1zM638 50h1v1h-1zM621 55h1v1h-1zM661 65h1v1h-1zM679 40h1v1h-1zM643 70h1v1h-1zM630 61h1v1h-1zM631 58h1v1h-1zM691 38h1v1h-1zM686 69h1v1h-1zM658 67h1v1h-1zM687 43h1v1h-1zM663 65h1v1h-1zM633 56h1v1h-1zM631 53h1v1h-1zM659 40h1v1h-1zM679 45h1v1h-1zM657 38h1v1h-1zM682 57h1v1h-1zM685 47h1v1h-1zM653 74h1v1h-1zM686 38h1v1h-1zM656 65h1v1h-1zM672 39h1v1h-1zM642 67h1v1h-1zM653 67h1v1h-1zM698 43h1v1h-1zM644 41h1v1h-1zM623 54h1v1h-1zM641 67h1v1h-1zM668 68h1v1h-1zM624 58h1v1h-1zM651 41h1v1h-1zM681 44h1v1h-1zM633 54h1v1h-1zM657 38h1v1h-1zM627 42h1v1h-1zM624 67h1v1h-1zM675 65h1v1h-1zM625 64h1v1h-1zM643 45h1v1h-1zM632 55h1v1h-1zM670 69h1v1h-1zM628 67h1v1h-1zM627 50h1v1h-1zM678 62h1v1h-1zM674 71h1v1h-1zM674 60h1v1h-1zM665 41h1v1h-1zM641 45h1v1h-1zM693 43h1v1h-1zM675 40h1v1h-1zM674 42h1v1h-1zM631 59h1v1h-1zM665 71h1v1h-1zM674 39h1v1h-1zM689 44h1v1h-1zM680 43h1v1h-1zM674 62h1v1h-1zM659 35h1v1h-1zM629 52h1v1h-1zM680 54h1v1h-1zM623 56h1v1h-1zM625 53h1v1h-1zM647 67h1v1h-1zM665 41h1v1h-1zM645 69h1v1h-1zM639 48h1v1h-1zM632 39h1v1h-1zM678 36h1v1h-1zM680 56h1v1h-1zM686 46h1v1h-1zM641 41h1v1h-1zM644 65h1v1h-1zM683 53h1v1h-1zM677 59h1v1h-1zM657 35h1v1h-1zM623 49h1v1h-1zM670 62h1v1h-1zM688 47h1v1h-1zM629 68h1v1h-1zM626 55h1v1h-1zM670 66h1v1h-1zM614 99h1v1h-1zM610 74h1v1h-1zM589 88h1v1h-1zM585 65h1v1h-1zM605 101h1v1h-1zM583 67h1v1h-1zM580 101h1v1h-1zM615 94h1v1h-1zM606 98h1v1h-1zM616 67h1v1h-1zM604 88h1v1h-1zM590 95h1v1h-1zM617 69h1v1h-1zM601 97h1v1h-1zM587 67h1v1h-1zM608 64h1v1h-1zM639 75h1v1h-1zM614 63h1v1h-1zM595 68h1v1h-1zM580 94h1v1h-1zM575 136h1v1h-1zM605 124h1v1h-1zM606 121h1v1h-1zM616 123h1v1h-1zM594 91h1v1h-1zM599 76h1v1h-1zM584 81h1v1h-1zM596 73h1v1h-1zM604 99h1v1h-1zM611 102h1v1h-1zM588 101h1v1h-1zM614 95h1v1h-1zM620 77h1v1h-1zM618 104h1v1h-1zM560 63h1v1h-1zM553 72h1v1h-1z" fill="#2a2af5"/>
<path d="M543.4,178.0 L543.4,20.8 L700.6,20.8 L700.6,178.0 Z" fill="none" stroke="#3a3a3a" stroke-width="1"/>
<text x="535.80" y="179.00" font-size="9.0" text-anchor="middle" fill="#3c3c3c" transform="rotate(-90 535.80 179.00)">10<tspan font-size="7.2" dy="-3.4">1</tspan></text>
<text x="535.80" y="156.54" font-size="9.0" text-anchor="middle" fill="#3c3c3c" transform="rotate(-90 535.80 156.54)">10<tspan font-size="7.2" dy="-3.4">2</tspan></text>
<text x="535.80" y="134.09" font-size="9.0" text-anchor="middle" fill="#3c3c3c" transform="rotate(-90 535.80 134.09)">10<tspan font-size="7.2" dy="-3.4">3</tspan></text>
<text x="535.80" y="111.63" font-size="9.0" text-anchor="middle" fill="#3c3c3c" transform="rotate(-90 535.80 111.63)">10<tspan font-size="7.2" dy="-3.4">4</tspan></text>
<text x="535.80" y="89.17" font-size="9.0" text-anchor="middle" fill="#3c3c3c" transform="rotate(-90 535.80 89.17)">10<tspan font-size="7.2" dy="-3.4">5</tspan></text>
<text x="535.80" y="66.71" font-size="9.0" text-anchor="middle" fill="#3c3c3c" transform="rotate(-90 535.80 66.71)">10<tspan font-size="7.2" dy="-3.4">6</tspan></text>
<text x="535.80" y="44.26" font-size="9.0" text-anchor="middle" fill="#3c3c3c" transform="rotate(-90 535.80 44.26)">10<tspan font-size="7.2" dy="-3.4">7</tspan></text>
<text x="535.80" y="21.80" font-size="9.0" text-anchor="middle" fill="#3c3c3c" transform="rotate(-90 535.80 21.80)">10<tspan font-size="7.2" dy="-3.4">8</tspan></text>
<text x="544.00" y="193.20" font-size="9.0" text-anchor="middle" fill="#3c3c3c">10<tspan font-size="7.2" dx="0.9" dy="-3.42">1</tspan></text>
<text x="570.20" y="193.20" font-size="9.0" text-anchor="middle" fill="#3c3c3c">10<tspan font-size="7.2" dx="0.9" dy="-3.42">2</tspan></text>
<text x="596.40" y="193.20" font-size="9.0" text-anchor="middle" fill="#3c3c3c">10<tspan font-size="7.2" dx="0.9" dy="-3.42">3</tspan></text>
<text x="622.60" y="193.20" font-size="9.0" text-anchor="middle" fill="#3c3c3c">10<tspan font-size="7.2" dx="0.9" dy="-3.42">4</tspan></text>
<text x="648.80" y="193.20" font-size="9.0" text-anchor="middle" fill="#3c3c3c">10<tspan font-size="7.2" dx="0.9" dy="-3.42">5</tspan></text>
<text x="675.00" y="193.20" font-size="9.0" text-anchor="middle" fill="#3c3c3c">10<tspan font-size="7.2" dx="0.9" dy="-3.42">6</tspan></text>
<text x="701.20" y="193.20" font-size="9.0" text-anchor="middle" fill="#3c3c3c">10<tspan font-size="7.2" dx="0.9" dy="-3.42">7</tspan></text>
<text x="622.00" y="207.50" font-size="9.4" text-anchor="middle" fill="#3c3c3c" textLength="62.00" lengthAdjust="spacingAndGlyphs">TRA-1-60 -PE-A</text>
<text x="521.30" y="99.60" font-size="9.4" text-anchor="middle" fill="#3c3c3c" transform="rotate(-90 521.30 99.60)" textLength="56.00" lengthAdjust="spacingAndGlyphs">SSEA4-APC-A</text>
<text x="620.30" y="15.90" font-size="10.6" text-anchor="middle" fill="#3c3c3c" textLength="137.00" lengthAdjust="spacingAndGlyphs"><tspan fill="#3c3c3c">SSEA4-APC Tra160-PE (2) / </tspan><tspan fill="#f0303a">P1</tspan><tspan fill="#3c3c3c"> / </tspan><tspan fill="#2e9a3a">P2</tspan></text>
<text x="546.60" y="30.80" font-size="9.6" text-anchor="start" fill="#333" textLength="19.50" lengthAdjust="spacingAndGlyphs">Q3-1</text>
<text x="546.60" y="41.20" font-size="9.6" text-anchor="start" fill="#333" textLength="24.00" lengthAdjust="spacingAndGlyphs">0.53%</text>
<rect x="665.30" y="33.40" width="31.00" height="9.00" fill="#e9edf8" stroke="none" stroke-width="1"/>
<text x="666.30" y="30.80" font-size="9.6" text-anchor="start" fill="#333" textLength="19.50" lengthAdjust="spacingAndGlyphs">Q3-2</text>
<text x="666.30" y="41.40" font-size="9.6" text-anchor="start" fill="#333" textLength="28.60" lengthAdjust="spacingAndGlyphs">99.44%</text>
<text x="546.60" y="164.20" font-size="9.6" text-anchor="start" fill="#333" textLength="19.50" lengthAdjust="spacingAndGlyphs">Q3-3</text>
<text x="546.60" y="174.00" font-size="9.6" text-anchor="start" fill="#333" textLength="24.00" lengthAdjust="spacingAndGlyphs">0.03%</text>
<text x="670.50" y="164.20" font-size="9.6" text-anchor="start" fill="#333" textLength="19.50" lengthAdjust="spacingAndGlyphs">Q3-4</text>
<text x="670.50" y="174.00" font-size="9.6" text-anchor="start" fill="#333" textLength="24.00" lengthAdjust="spacingAndGlyphs">0.00%</text>
<text x="192.70" y="250.30" font-size="17" text-anchor="middle" fill="#111" textLength="154.40" lengthAdjust="spacingAndGlyphs">Normal morphology</text>
<defs>
<clipPath id="micclip"><rect x="76.6" y="256.7" width="277.4" height="205.0"/></clipPath>
<filter id="tex" color-interpolation-filters="sRGB" filterUnits="userSpaceOnUse" x="76.6" y="256.7" width="277.4" height="205.0">
<feTurbulence type="fractalNoise" baseFrequency="0.22" numOctaves="2" seed="7" result="d"/>
<feDisplacementMap in="SourceGraphic" in2="d" scale="6" xChannelSelector="R" yChannelSelector="G" result="shape"/>
<feTurbulence type="fractalNoise" baseFrequency="0.75" numOctaves="2" seed="4" result="n"/>
<feColorMatrix in="n" type="matrix" values="0.36 0 0 0 0.452  0.36 0 0 0 0.452  0.36 0 0 0 0.452  0 0 0 0 1" result="g"/>
<feComposite in="g" in2="shape" operator="in"/>
</filter>
<filter id="bgtex" color-interpolation-filters="sRGB" filterUnits="userSpaceOnUse" x="76.6" y="256.7" width="277.4" height="205.0">
<feTurbulence type="fractalNoise" baseFrequency="0.04" numOctaves="2" seed="9" result="n"/>
<feColorMatrix in="n" type="matrix" values="0.08 0 0 0 0.56  0.08 0 0 0 0.56  0.08 0 0 0 0.56  0 0 0 0 1" result="g"/>
<feComposite in="g" in2="SourceGraphic" operator="in"/>
</filter>
<filter id="halo" x="-10%" y="-10%" width="120%" height="120%"><feGaussianBlur stdDeviation="0.6"/></filter>
<filter id="halo2" color-interpolation-filters="sRGB" filterUnits="userSpaceOnUse" x="76.6" y="256.7" width="277.4" height="205.0">
<feTurbulence type="fractalNoise" baseFrequency="0.22" numOctaves="2" seed="7" result="d"/>
<feDisplacementMap in="SourceGraphic" in2="d" scale="6" xChannelSelector="R" yChannelSelector="G" result="shape"/>
<feGaussianBlur in="shape" stdDeviation="0.6"/></filter>
</defs>
<rect x="76.6" y="256.7" width="277.4" height="205.0" fill="#999999"/>
<rect x="76.6" y="256.7" width="277.4" height="205.0" fill="#a0a0a0" filter="url(#bgtex)" opacity="1"/>
<g clip-path="url(#micclip)">
<path d="M98.6 255.8l25.8 0-.7 10.6-6.9 5.7-9.5-1.9-7.6-5.7z M128.3 255.8l32.3 0-3.8 12.5-9.5 5.7-11.4-.7-7.6-6.9z M164.4 255.8l38 0-5.7 10.6-15.2 3.8-13.3-1.9z M284.2 255.8l66.6 0 3 14.4-12.5 11.4-15.3 3.8-15.2-7.6-15.2-7.6-9.5-5.7z M105.4 333l11.4-3.8 15.3 1.9-3.8 9.5-11.5 7.6-9.5-3.8z M75.8 391.9l14.4-5.7 13.3-1.9 9.5-7.6 7.6-15.2 11.5-11.4 9.5-11.4 5.7 5.7 15.2 3.8-5.7 9.5-7.6 7.6-7.6 3.8-5.7 11.4-3.8 15.2-7.7 9.5-11.4 9.6-11.4 7.6-15.2 3.8-10.6-3.8z M147.3 308.3l9.5-3.9 11.4 9.6 1.9 11.4-3.8 17.1-9.5 3.8-5.7-11.4-3.8-15.2z M172 325.4l13.3-3.8 15.2 3.8 5.7 9.5-1.9 13.3-11.4 4.9-13.3-3-7.6-9.5z M206.2 304.4l13.3-7.6 19.1-4.9 15.2 3 7.6 9.5 1.9 19.1-5.7 22.8-3.8 7.6 3.8 3.8 7.6-11.4 3.8-13.3 11.4-13.3-1.9-11.4 9.5-9.6 13.3 3.8 1.9 9.6-3.8 11.4 1.9 15.2-5.7 19-7.6 11.4-7.6 11.4-11.4 1.9-15.2-5.7-11.4-3.8-19.1 5.7-7.6 1.9-7.6-11.4 1.9-15.2-5.7-11.4 1.9-19z M164.4 388.1l17.1-11.4 19-3.8 11.4 3.8 9.5 7.6 1.9 7.6-7.6 11.4-7.6 11.5-7.6 11.4-11.4 5.7-15.2 0-9.5-9.5-1.9-15.3z M215.7 405.2l15.3-3.8 19 1.2 15.2 4.5 7.6 11.5 1.9 15.2-5.7 15.2-11.4 7.6-19 1.9-15.3-5.7-9.5-11.4-1.9-19z M276.6 399.5l15.2-5.7 17.1 1.2 9.5 6.4 3.8 17.2-1.9 19-9.5 7.6-15.2 1.9-13.3-7.6-5.7-17.1z M327.9 378.6l13.4-2.6 12.5 2.6 0 34.3-12.5-1.9-9.5-7.7-5-11.4z M145.4 463.4l5.7-8.7 11.4-1.9 5.7 10.6z " fill="none" stroke="#b3b3b3" stroke-width="1.1" filter="url(#halo2)"/>
<path d="M98.6 255.8l25.8 0-.7 10.6-6.9 5.7-9.5-1.9-7.6-5.7z M128.3 255.8l32.3 0-3.8 12.5-9.5 5.7-11.4-.7-7.6-6.9z M164.4 255.8l38 0-5.7 10.6-15.2 3.8-13.3-1.9z M284.2 255.8l66.6 0 3 14.4-12.5 11.4-15.3 3.8-15.2-7.6-15.2-7.6-9.5-5.7z M105.4 333l11.4-3.8 15.3 1.9-3.8 9.5-11.5 7.6-9.5-3.8z M75.8 391.9l14.4-5.7 13.3-1.9 9.5-7.6 7.6-15.2 11.5-11.4 9.5-11.4 5.7 5.7 15.2 3.8-5.7 9.5-7.6 7.6-7.6 3.8-5.7 11.4-3.8 15.2-7.7 9.5-11.4 9.6-11.4 7.6-15.2 3.8-10.6-3.8z M147.3 308.3l9.5-3.9 11.4 9.6 1.9 11.4-3.8 17.1-9.5 3.8-5.7-11.4-3.8-15.2z M172 325.4l13.3-3.8 15.2 3.8 5.7 9.5-1.9 13.3-11.4 4.9-13.3-3-7.6-9.5z M206.2 304.4l13.3-7.6 19.1-4.9 15.2 3 7.6 9.5 1.9 19.1-5.7 22.8-3.8 7.6 3.8 3.8 7.6-11.4 3.8-13.3 11.4-13.3-1.9-11.4 9.5-9.6 13.3 3.8 1.9 9.6-3.8 11.4 1.9 15.2-5.7 19-7.6 11.4-7.6 11.4-11.4 1.9-15.2-5.7-11.4-3.8-19.1 5.7-7.6 1.9-7.6-11.4 1.9-15.2-5.7-11.4 1.9-19z M164.4 388.1l17.1-11.4 19-3.8 11.4 3.8 9.5 7.6 1.9 7.6-7.6 11.4-7.6 11.5-7.6 11.4-11.4 5.7-15.2 0-9.5-9.5-1.9-15.3z M215.7 405.2l15.3-3.8 19 1.2 15.2 4.5 7.6 11.5 1.9 15.2-5.7 15.2-11.4 7.6-19 1.9-15.3-5.7-9.5-11.4-1.9-19z M276.6 399.5l15.2-5.7 17.1 1.2 9.5 6.4 3.8 17.2-1.9 19-9.5 7.6-15.2 1.9-13.3-7.6-5.7-17.1z M327.9 378.6l13.4-2.6 12.5 2.6 0 34.3-12.5-1.9-9.5-7.7-5-11.4z M145.4 463.4l5.7-8.7 11.4-1.9 5.7 10.6z " fill="#a6a6a6" filter="url(#tex)"/>
</g>
<g filter="url(#halo)">
<circle cx="118.8" cy="283.6" r="3.0" fill="#828282"/>
<circle cx="194.0" cy="309.3" r="2.0" fill="#7e7e7e"/>
<circle cx="140.7" cy="295.0" r="2.4" fill="#909090"/>
<circle cx="160.6" cy="279.8" r="2.0" fill="#919191"/>
<circle cx="261.0" cy="262.3" r="1.6" fill="#858585"/>
<circle cx="236.9" cy="272.8" r="1.3" fill="#8a8a8a"/>
<circle cx="314.8" cy="283.4" r="1.4" fill="#8a8a8a"/>
<circle cx="351.0" cy="306.5" r="1.6" fill="#7a7a7a"/>
<circle cx="200.6" cy="287.4" r="1.2" fill="#8c8c8c"/>
<circle cx="81.3" cy="299.8" r="1.0" fill="#b8b8b8"/>
<circle cx="85.5" cy="343.0" r="1.0" fill="#b8b8b8"/>
<circle cx="340.0" cy="340.2" r="1.1" fill="#b8b8b8"/>
<circle cx="330.0" cy="262.0" r="1.0" fill="#b8b8b8"/>
<circle cx="289.0" cy="282.0" r="1.0" fill="#b8b8b8"/>
</g>
<text x="90.40" y="448.00" font-size="3.2" text-anchor="middle" fill="#c9c25a">0</text>
<text x="123.50" y="448.00" font-size="3.2" text-anchor="middle" fill="#c9c25a">μm</text>
<text x="156.80" y="448.00" font-size="3.2" text-anchor="middle" fill="#c9c25a">400</text>
<text x="90.60" y="455.60" font-size="3.0" text-anchor="start" fill="#c9c25a">1.73 x 1.29 mm, 2.27 mm²</text>
<rect x="321.50" y="455.30" width="31.00" height="5.30" fill="#000" stroke="none" stroke-width="1"/>
<text x="337.00" y="459.60" font-size="4.2" text-anchor="middle" fill="#fff" textLength="17.00" lengthAdjust="spacingAndGlyphs">0d 0h 0m</text>
<text x="520.70" y="249.70" font-size="17" text-anchor="middle" fill="#111" textLength="201.20" lengthAdjust="spacingAndGlyphs">Normal karyotype (46, XY)</text>
<rect x="397.8" y="256.8" width="294.6" height="205.4" fill="#fff" stroke="#6a86c2" stroke-width="1.2"/>
<defs><filter id="csoft" x="-5%" y="-5%" width="110%" height="110%"><feGaussianBlur stdDeviation="0.35"/></filter></defs>
<g filter="url(#csoft)">
<path d="M413.5 262.5L417.5 276.0L418.5 290.0L416.0 303.0L414.5 312.5" fill="none" stroke="#9a9a9a" stroke-width="6.79" stroke-linecap="round" stroke-linejoin="round"/>
<path d="M413.5 262.5L417.5 276.0L418.5 290.0L416.0 303.0L414.5 312.5" fill="none" stroke="#ededed" stroke-width="5.89" stroke-linecap="round" stroke-linejoin="round"/>
<path d="M413.5 262.5L417.5 276.0L418.5 290.0L416.0 303.0L414.5 312.5" fill="none" stroke="#bdbdbd" stroke-width="5.29" stroke-dasharray="0.5 2.1 0.6 1.8 1.4 1.8 0.8 1.2 1.3 2.1 1.2 1.5 0.9 1.2 1.3 1.3 1.0 1.6 1.2 0.7 0.7 1.7 1.1 1.9 0.5 1.0 1.0 1.8 0.6 1.8 0.9 1.1 1.4 0.8 1.5 1.1 0.8 0.9 1.0 1.9 0.7 1.5"/>
<path d="M413.5 262.5L417.5 276.0L418.5 290.0L416.0 303.0L414.5 312.5" fill="none" stroke="#1c1c1c" stroke-opacity="0.9" stroke-width="5.69" stroke-dasharray="0 3.3 1.2 7.5 1.6 8.5 2.2 7.3 0.7 6.2 0.7 5.4 1.2 5.6"/>
<path d="M433.5 261.0L429.0 275.0L427.5 288.0L429.5 302.0L433.5 312.5" fill="none" stroke="#9a9a9a" stroke-width="6.79" stroke-linecap="round" stroke-linejoin="round"/>
<path d="M433.5 261.0L429.0 275.0L427.5 288.0L429.5 302.0L433.5 312.5" fill="none" stroke="#ededed" stroke-width="5.89" stroke-linecap="round" stroke-linejoin="round"/>
<path d="M433.5 261.0L429.0 275.0L427.5 288.0L429.5 302.0L433.5 312.5" fill="none" stroke="#bdbdbd" stroke-width="5.29" stroke-dasharray="0.7 0.7 0.9 1.3 1.0 1.4 1.1 0.8 0.7 1.5 1.0 0.9 0.7 2.2 1.4 1.8 0.8 1.3 1.2 1.5 1.2 0.7 1.3 0.9 0.8 1.4 1.5 1.2 1.2 0.9 1.5 1.0 1.0 1.7 1.2 1.3 1.2 0.6 1.6 1.5 1.1 1.0 1.0 1.6 0.9 0.8 0.6 2.0"/>
<path d="M433.5 261.0L429.0 275.0L427.5 288.0L429.5 302.0L433.5 312.5" fill="none" stroke="#1c1c1c" stroke-opacity="0.9" stroke-width="5.69" stroke-dasharray="0 2.6 2.2 4.2 1.0 6.6 2.2 6.6 1.0 8.3 0.7 6.0 1.2 4.5 1.2 6.3"/>
<path d="M472.0 266.5L477.5 274.0L479.0 287.0L476.0 301.0L473.0 312.0" fill="none" stroke="#9a9a9a" stroke-width="6.16" stroke-linecap="round" stroke-linejoin="round"/>
<path d="M472.0 266.5L477.5 274.0L479.0 287.0L476.0 301.0L473.0 312.0" fill="none" stroke="#ededed" stroke-width="5.26" stroke-linecap="round" stroke-linejoin="round"/>
<path d="M472.0 266.5L477.5 274.0L479.0 287.0L476.0 301.0L473.0 312.0" fill="none" stroke="#bdbdbd" stroke-width="4.66" stroke-dasharray="0.9 2.0 0.8 0.7 1.3 1.3 0.4 1.8 1.3 1.6 1.4 1.0 1.4 1.2 1.4 2.2 1.1 1.3 1.3 1.8 1.0 0.7 0.8 1.7 0.4 1.3 1.5 1.7 0.7 0.8 1.1 1.6 0.7 1.4 1.6 1.6 1.1 0.7 1.0 0.6"/>
<path d="M472.0 266.5L477.5 274.0L479.0 287.0L476.0 301.0L473.0 312.0" fill="none" stroke="#1c1c1c" stroke-opacity="0.9" stroke-width="5.06" stroke-dasharray="0 4.9 2.2 9.4 0.7 7.7 0.7 7.5 1.2 4.4 1.0 8.8"/>
<path d="M489.0 266.0L489.5 290.0L489.0 312.0" fill="none" stroke="#9a9a9a" stroke-width="6.16" stroke-linecap="round" stroke-linejoin="round"/>
<path d="M489.0 266.0L489.5 290.0L489.0 312.0" fill="none" stroke="#ededed" stroke-width="5.26" stroke-linecap="round" stroke-linejoin="round"/>
<path d="M489.0 266.0L489.5 290.0L489.0 312.0" fill="none" stroke="#bdbdbd" stroke-width="4.66" stroke-dasharray="1.6 0.7 1.5 1.8 0.7 0.7 1.2 0.7 1.1 1.9 0.9 1.1 0.9 0.8 0.5 1.5 1.4 2.2 0.5 1.1 1.4 1.1 1.3 2.1 1.4 1.6 1.3 2.0 0.6 1.1 1.3 1.4 1.3 2.2 1.3 1.5 1.3 2.1"/>
<path d="M489.0 266.0L489.5 290.0L489.0 312.0" fill="none" stroke="#1c1c1c" stroke-opacity="0.9" stroke-width="5.06" stroke-dasharray="0 2.3 0.7 7.1 2.2 8.7 1.6 5.7 2.2 9.4 1.6 9.4"/>
<rect x="483.5" y="276" width="12" height="8" rx="1.5" fill="#d4d4d4" fill-opacity="0.85" stroke="#7a7a7a" stroke-width="0.7"/>
<rect x="484.3" y="277.6" width="10.4" height="1.2" fill="#444" opacity="0.75"/>
<rect x="484.3" y="280.0" width="10.4" height="1.3" fill="#444" opacity="0.75"/>
<rect x="484.3" y="282.4" width="10.4" height="0.9" fill="#444" opacity="0.75"/>
<path d="M536.5 275.0L537.0 292.0L537.0 309.0" fill="none" stroke="#9a9a9a" stroke-width="5.95" stroke-linecap="round" stroke-linejoin="round"/>
<path d="M536.5 275.0L537.0 292.0L537.0 309.0" fill="none" stroke="#ededed" stroke-width="5.05" stroke-linecap="round" stroke-linejoin="round"/>
<path d="M536.5 275.0L537.0 292.0L537.0 309.0" fill="none" stroke="#bdbdbd" stroke-width="4.45" stroke-dasharray="1.3 0.8 0.8 1.3 1.0 2.2 1.2 0.8 1.4 1.8 1.4 2.1 1.3 1.4 1.2 0.7 0.8 1.3 1.3 0.7 0.6 1.0 0.6 1.4 1.6 1.1 0.5 0.6 1.3 1.2"/>
<path d="M536.5 275.0L537.0 292.0L537.0 309.0" fill="none" stroke="#1c1c1c" stroke-opacity="0.9" stroke-width="4.85" stroke-dasharray="0 5.0 1.0 4.0 1.2 5.6 1.2 9.1 1.6 5.5"/>
<rect x="533" y="276" width="9" height="9" rx="1.5" fill="#d4d4d4" fill-opacity="0.85" stroke="#7a7a7a" stroke-width="0.7"/>
<rect x="533.8" y="277.8" width="7.4" height="1.3" fill="#444" opacity="0.75"/>
<rect x="533.8" y="280.5" width="7.4" height="1.2" fill="#444" opacity="0.75"/>
<rect x="533.8" y="283.2" width="7.4" height="1.1" fill="#444" opacity="0.75"/>
<path d="M550.0 274.5L549.5 292.0L551.0 302.0L557.0 306.5" fill="none" stroke="#9a9a9a" stroke-width="5.95" stroke-linecap="round" stroke-linejoin="round"/>
<path d="M550.0 274.5L549.5 292.0L551.0 302.0L557.0 306.5" fill="none" stroke="#ededed" stroke-width="5.05" stroke-linecap="round" stroke-linejoin="round"/>
<path d="M550.0 274.5L549.5 292.0L551.0 302.0L557.0 306.5" fill="none" stroke="#bdbdbd" stroke-width="4.45" stroke-dasharray="1.3 1.1 1.5 1.1 0.6 1.1 0.5 1.4 0.9 1.9 0.6 1.2 0.8 1.3 1.4 1.4 1.4 2.0 0.7 1.4 1.2 0.7 0.9 2.0 1.5 1.1 1.5 1.7 0.8 0.9"/>
<path d="M550.0 274.5L549.5 292.0L551.0 302.0L557.0 306.5" fill="none" stroke="#1c1c1c" stroke-opacity="0.9" stroke-width="4.85" stroke-dasharray="0 3.1 1.0 7.7 1.2 5.6 1.2 5.3 1.2 5.9"/>
<path d="M598.5 272.5L598.5 292.0L598.5 312.5" fill="none" stroke="#9a9a9a" stroke-width="5.95" stroke-linecap="round" stroke-linejoin="round"/>
<path d="M598.5 272.5L598.5 292.0L598.5 312.5" fill="none" stroke="#ededed" stroke-width="5.05" stroke-linecap="round" stroke-linejoin="round"/>
<path d="M598.5 272.5L598.5 292.0L598.5 312.5" fill="none" stroke="#bdbdbd" stroke-width="4.45" stroke-dasharray="1.0 2.0 1.3 1.8 1.5 1.3 0.7 1.9 1.1 1.0 1.6 2.0 1.4 1.3 1.4 1.2 0.7 1.9 1.1 1.8 0.5 1.4 0.9 0.7 1.4 1.3 1.0 1.5 1.1 0.8 0.6 0.8"/>
<path d="M598.5 272.5L598.5 292.0L598.5 312.5" fill="none" stroke="#1c1c1c" stroke-opacity="0.9" stroke-width="4.85" stroke-dasharray="0 3.9 1.0 5.4 1.0 8.1 1.2 6.9 2.2 4.7 2.2 8.1"/>
<path d="M611.0 275.5L611.0 294.0L611.5 310.5" fill="none" stroke="#9a9a9a" stroke-width="5.95" stroke-linecap="round" stroke-linejoin="round"/>
<path d="M611.0 275.5L611.0 294.0L611.5 310.5" fill="none" stroke="#ededed" stroke-width="5.05" stroke-linecap="round" stroke-linejoin="round"/>
<path d="M611.0 275.5L611.0 294.0L611.5 310.5" fill="none" stroke="#bdbdbd" stroke-width="4.45" stroke-dasharray="1.4 1.7 0.6 1.2 0.8 1.1 0.6 1.1 1.1 1.1 0.7 1.8 0.8 0.9 1.6 1.3 0.4 1.9 0.8 1.9 1.2 1.3 0.9 1.1 0.6 1.6 0.9 2.1 1.2 0.8 0.8 1.2"/>
<path d="M611.0 275.5L611.0 294.0L611.5 310.5" fill="none" stroke="#1c1c1c" stroke-opacity="0.9" stroke-width="4.85" stroke-dasharray="0 4.5 1.0 5.6 2.2 6.1 2.2 5.4 2.2 6.1"/>
<rect x="607.5" y="301" width="13" height="7" rx="1.5" fill="#d4d4d4" fill-opacity="0.85" stroke="#7a7a7a" stroke-width="0.7"/>
<rect x="608.3" y="302.4" width="11.4" height="1.4" fill="#444" opacity="0.75"/>
<rect x="608.3" y="304.5" width="11.4" height="0.9" fill="#444" opacity="0.75"/>
<rect x="608.3" y="306.6" width="11.4" height="1.3" fill="#444" opacity="0.75"/>
<path d="M655.5 279.0L658.0 292.0L657.0 313.0" fill="none" stroke="#9a9a9a" stroke-width="5.95" stroke-linecap="round" stroke-linejoin="round"/>
<path d="M655.5 279.0L658.0 292.0L657.0 313.0" fill="none" stroke="#ededed" stroke-width="5.05" stroke-linecap="round" stroke-linejoin="round"/>
<path d="M655.5 279.0L658.0 292.0L657.0 313.0" fill="none" stroke="#bdbdbd" stroke-width="4.45" stroke-dasharray="1.4 1.0 0.4 1.6 0.7 1.0 1.2 0.8 0.9 0.9 1.2 1.3 1.5 2.0 1.2 1.8 0.5 1.0 1.1 1.6 0.8 1.8 0.5 1.8 0.7 1.3 1.4 1.4 1.4 1.0"/>
<path d="M655.5 279.0L658.0 292.0L657.0 313.0" fill="none" stroke="#1c1c1c" stroke-opacity="0.9" stroke-width="4.85" stroke-dasharray="0 2.2 1.0 9.3 0.7 7.7 2.2 4.3 1.2 7.5"/>
<path d="M670.5 280.0L669.5 297.0L671.0 312.5" fill="none" stroke="#9a9a9a" stroke-width="5.95" stroke-linecap="round" stroke-linejoin="round"/>
<path d="M670.5 280.0L669.5 297.0L671.0 312.5" fill="none" stroke="#ededed" stroke-width="5.05" stroke-linecap="round" stroke-linejoin="round"/>
<path d="M670.5 280.0L669.5 297.0L671.0 312.5" fill="none" stroke="#bdbdbd" stroke-width="4.45" stroke-dasharray="1.3 0.9 1.4 0.7 1.1 2.0 0.8 1.3 1.2 0.6 0.6 1.9 1.5 0.8 0.6 0.7 1.3 2.2 0.4 1.8 1.1 1.0 1.2 1.4 0.7 1.0 0.7 0.8 0.9 1.7"/>
<path d="M670.5 280.0L669.5 297.0L671.0 312.5" fill="none" stroke="#1c1c1c" stroke-opacity="0.9" stroke-width="4.85" stroke-dasharray="0 2.3 1.6 4.1 1.6 6.4 0.7 8.3 1.0 8.7"/>
<rect x="665" y="292" width="12" height="6" rx="1.5" fill="#d4d4d4" fill-opacity="0.85" stroke="#7a7a7a" stroke-width="0.7"/>
<rect x="665.8" y="293.2" width="10.4" height="0.8" fill="#444" opacity="0.75"/>
<rect x="665.8" y="295.0" width="10.4" height="1.3" fill="#444" opacity="0.75"/>
<rect x="665.8" y="296.8" width="10.4" height="1.3" fill="#444" opacity="0.75"/>
<path d="M411.5 337.0L410.5 350.0L409.0 366.0" fill="none" stroke="#9a9a9a" stroke-width="5.95" stroke-linecap="round" stroke-linejoin="round"/>
<path d="M411.5 337.0L410.5 350.0L409.0 366.0" fill="none" stroke="#ededed" stroke-width="5.05" stroke-linecap="round" stroke-linejoin="round"/>
<path d="M411.5 337.0L410.5 350.0L409.0 366.0" fill="none" stroke="#bdbdbd" stroke-width="4.45" stroke-dasharray="1.3 2.1 1.3 1.7 0.6 2.0 1.4 1.2 1.0 1.7 0.6 1.1 0.7 2.0 0.8 0.8 1.5 1.8 0.6 0.6 0.9 2.0 0.6 1.4"/>
<path d="M411.5 337.0L410.5 350.0L409.0 366.0" fill="none" stroke="#1c1c1c" stroke-opacity="0.9" stroke-width="4.85" stroke-dasharray="0 2.0 1.2 6.8 1.2 5.1 1.2 4.0 2.2 4.1"/>
<rect x="405.5" y="351" width="9" height="12" rx="1.5" fill="#d4d4d4" fill-opacity="0.85" stroke="#7a7a7a" stroke-width="0.7"/>
<rect x="406.3" y="353.4" width="7.4" height="1.2" fill="#444" opacity="0.75"/>
<rect x="406.3" y="357.0" width="7.4" height="1.2" fill="#444" opacity="0.75"/>
<rect x="406.3" y="360.6" width="7.4" height="0.8" fill="#444" opacity="0.75"/>
<path d="M433.0 339.5L426.0 351.0L430.0 366.0" fill="none" stroke="#9a9a9a" stroke-width="5.95" stroke-linecap="round" stroke-linejoin="round"/>
<path d="M433.0 339.5L426.0 351.0L430.0 366.0" fill="none" stroke="#ededed" stroke-width="5.05" stroke-linecap="round" stroke-linejoin="round"/>
<path d="M433.0 339.5L426.0 351.0L430.0 366.0" fill="none" stroke="#bdbdbd" stroke-width="4.45" stroke-dasharray="0.9 2.0 1.4 1.7 0.6 1.0 1.0 1.7 1.0 1.9 1.5 0.7 1.5 1.4 1.1 1.5 1.2 1.4 1.0 1.7 0.8 1.1 0.5 2.1"/>
<path d="M433.0 339.5L426.0 351.0L430.0 366.0" fill="none" stroke="#1c1c1c" stroke-opacity="0.9" stroke-width="4.85" stroke-dasharray="0 3.7 0.7 7.7 1.0 4.8 1.2 5.0 1.6 8.6"/>
<path d="M457.5 338.5L458.0 352.0L457.5 366.5" fill="none" stroke="#9a9a9a" stroke-width="5.95" stroke-linecap="round" stroke-linejoin="round"/>
<path d="M457.5 338.5L458.0 352.0L457.5 366.5" fill="none" stroke="#ededed" stroke-width="5.05" stroke-linecap="round" stroke-linejoin="round"/>
<path d="M457.5 338.5L458.0 352.0L457.5 366.5" fill="none" stroke="#bdbdbd" stroke-width="4.45" stroke-dasharray="1.5 2.2 1.2 2.0 0.7 1.5 1.3 1.3 0.7 1.6 1.0 0.9 0.8 1.1 1.6 0.9 0.7 1.9 0.7 0.9 1.4 1.7 1.3 0.8"/>
<path d="M457.5 338.5L458.0 352.0L457.5 366.5" fill="none" stroke="#1c1c1c" stroke-opacity="0.9" stroke-width="4.85" stroke-dasharray="0 3.1 0.7 4.7 0.7 5.5 2.2 8.7"/>
<path d="M477.0 340.0L472.0 350.0L471.5 366.5" fill="none" stroke="#9a9a9a" stroke-width="5.95" stroke-linecap="round" stroke-linejoin="round"/>
<path d="M477.0 340.0L472.0 350.0L471.5 366.5" fill="none" stroke="#ededed" stroke-width="5.05" stroke-linecap="round" stroke-linejoin="round"/>
<path d="M477.0 340.0L472.0 350.0L471.5 366.5" fill="none" stroke="#bdbdbd" stroke-width="4.45" stroke-dasharray="0.9 2.0 0.4 1.2 1.2 1.7 0.6 1.0 0.9 1.6 0.5 1.7 1.5 1.4 1.4 1.4 0.8 1.5 1.4 1.6 0.7 1.5 0.7 2.1"/>
<path d="M477.0 340.0L472.0 350.0L471.5 366.5" fill="none" stroke="#1c1c1c" stroke-opacity="0.9" stroke-width="4.85" stroke-dasharray="0 4.8 2.2 8.9 0.7 6.9 1.2 6.3"/>
<rect x="466" y="353" width="13" height="6" rx="1.5" fill="#d4d4d4" fill-opacity="0.85" stroke="#7a7a7a" stroke-width="0.7"/>
<rect x="466.8" y="354.2" width="11.4" height="0.8" fill="#444" opacity="0.75"/>
<rect x="466.8" y="356.0" width="11.4" height="1.1" fill="#444" opacity="0.75"/>
<rect x="466.8" y="357.8" width="11.4" height="1.1" fill="#444" opacity="0.75"/>
<path d="M501.5 341.5L501.5 354.0L502.0 367.0" fill="none" stroke="#9a9a9a" stroke-width="5.95" stroke-linecap="round" stroke-linejoin="round"/>
<path d="M501.5 341.5L501.5 354.0L502.0 367.0" fill="none" stroke="#ededed" stroke-width="5.05" stroke-linecap="round" stroke-linejoin="round"/>
<path d="M501.5 341.5L501.5 354.0L502.0 367.0" fill="none" stroke="#bdbdbd" stroke-width="4.45" stroke-dasharray="1.3 0.8 0.5 1.1 0.8 1.4 1.1 2.0 0.5 0.9 1.5 1.9 1.2 2.2 0.5 1.4 0.7 0.9 0.9 1.9 0.6 1.3 0.5 1.3"/>
<path d="M501.5 341.5L501.5 354.0L502.0 367.0" fill="none" stroke="#1c1c1c" stroke-opacity="0.9" stroke-width="4.85" stroke-dasharray="0 2.6 2.2 5.3 1.6 8.8 2.2 5.2"/>
<path d="M514.5 341.5L514.0 354.0L514.5 367.0" fill="none" stroke="#9a9a9a" stroke-width="5.95" stroke-linecap="round" stroke-linejoin="round"/>
<path d="M514.5 341.5L514.0 354.0L514.5 367.0" fill="none" stroke="#ededed" stroke-width="5.05" stroke-linecap="round" stroke-linejoin="round"/>
<path d="M514.5 341.5L514.0 354.0L514.5 367.0" fill="none" stroke="#bdbdbd" stroke-width="4.45" stroke-dasharray="0.7 0.8 0.7 2.2 0.5 2.1 1.1 1.3 1.1 1.4 1.2 1.9 1.2 1.3 1.1 0.8 1.5 0.9 1.2 1.6 1.0 0.8"/>
<path d="M514.5 341.5L514.0 354.0L514.5 367.0" fill="none" stroke="#1c1c1c" stroke-opacity="0.9" stroke-width="4.85" stroke-dasharray="0 2.7 1.6 6.8 1.6 8.4 0.7 8.6"/>
<path d="M540.5 341.5L541.0 354.0L540.5 366.0" fill="none" stroke="#9a9a9a" stroke-width="5.95" stroke-linecap="round" stroke-linejoin="round"/>
<path d="M540.5 341.5L541.0 354.0L540.5 366.0" fill="none" stroke="#ededed" stroke-width="5.05" stroke-linecap="round" stroke-linejoin="round"/>
<path d="M540.5 341.5L541.0 354.0L540.5 366.0" fill="none" stroke="#bdbdbd" stroke-width="4.45" stroke-dasharray="0.7 1.8 1.4 0.8 0.5 2.0 1.5 1.3 1.0 0.7 1.6 2.0 0.5 0.9 1.4 1.2 1.4 1.6 1.0 2.1"/>
<path d="M540.5 341.5L541.0 354.0L540.5 366.0" fill="none" stroke="#1c1c1c" stroke-opacity="0.9" stroke-width="4.85" stroke-dasharray="0 3.4 1.6 4.8 1.0 5.3 1.6 7.2"/>
<path d="M553.5 340.5L553.5 353.0L553.5 366.0" fill="none" stroke="#9a9a9a" stroke-width="5.95" stroke-linecap="round" stroke-linejoin="round"/>
<path d="M553.5 340.5L553.5 353.0L553.5 366.0" fill="none" stroke="#ededed" stroke-width="5.05" stroke-linecap="round" stroke-linejoin="round"/>
<path d="M553.5 340.5L553.5 353.0L553.5 366.0" fill="none" stroke="#bdbdbd" stroke-width="4.45" stroke-dasharray="0.7 1.7 0.8 0.7 1.1 1.8 0.8 0.9 1.5 1.4 1.2 1.5 1.4 1.7 1.5 1.4 1.4 1.1 1.0 1.4 0.8 1.9"/>
<path d="M553.5 340.5L553.5 353.0L553.5 366.0" fill="none" stroke="#1c1c1c" stroke-opacity="0.9" stroke-width="4.85" stroke-dasharray="0 3.6 1.0 5.6 1.6 9.3 1.2 8.2"/>
<path d="M579.5 341.5L579.5 354.0L579.5 367.0" fill="none" stroke="#9a9a9a" stroke-width="5.95" stroke-linecap="round" stroke-linejoin="round"/>
<path d="M579.5 341.5L579.5 354.0L579.5 367.0" fill="none" stroke="#ededed" stroke-width="5.05" stroke-linecap="round" stroke-linejoin="round"/>
<path d="M579.5 341.5L579.5 354.0L579.5 367.0" fill="none" stroke="#bdbdbd" stroke-width="4.45" stroke-dasharray="0.5 1.4 1.2 0.7 1.0 0.9 1.0 1.3 1.0 0.7 0.5 1.2 1.4 1.3 0.6 1.4 1.3 1.1 1.0 2.0 1.5 1.0 0.7 0.8"/>
<path d="M579.5 341.5L579.5 354.0L579.5 367.0" fill="none" stroke="#1c1c1c" stroke-opacity="0.9" stroke-width="4.85" stroke-dasharray="0 3.4 1.6 8.4 1.0 6.5 1.0 4.1"/>
<path d="M597.0 342.0L590.0 352.0L597.0 366.0" fill="none" stroke="#9a9a9a" stroke-width="5.95" stroke-linecap="round" stroke-linejoin="round"/>
<path d="M597.0 342.0L590.0 352.0L597.0 366.0" fill="none" stroke="#ededed" stroke-width="5.05" stroke-linecap="round" stroke-linejoin="round"/>
<path d="M597.0 342.0L590.0 352.0L597.0 366.0" fill="none" stroke="#bdbdbd" stroke-width="4.45" stroke-dasharray="0.7 2.0 0.9 2.1 1.3 1.2 1.1 1.3 0.7 1.3 1.1 2.0 1.1 0.7 1.3 0.9 0.7 1.1 0.6 1.2 0.8 1.2 0.5 1.4 0.6 1.0"/>
<path d="M597.0 342.0L590.0 352.0L597.0 366.0" fill="none" stroke="#1c1c1c" stroke-opacity="0.9" stroke-width="4.85" stroke-dasharray="0 4.6 0.7 6.5 2.2 4.6 0.7 5.1 0.7 9.2"/>
<path d="M623.5 341.5L624.0 354.0L624.0 366.5" fill="none" stroke="#9a9a9a" stroke-width="5.95" stroke-linecap="round" stroke-linejoin="round"/>
<path d="M623.5 341.5L624.0 354.0L624.0 366.5" fill="none" stroke="#ededed" stroke-width="5.05" stroke-linecap="round" stroke-linejoin="round"/>
<path d="M623.5 341.5L624.0 354.0L624.0 366.5" fill="none" stroke="#bdbdbd" stroke-width="4.45" stroke-dasharray="1.4 0.9 0.9 1.0 1.2 1.2 1.0 1.5 1.1 1.3 1.1 0.7 0.5 0.8 0.9 1.8 1.4 1.9 0.7 0.6 1.5 1.2 0.8 1.8"/>
<path d="M623.5 341.5L624.0 354.0L624.0 366.5" fill="none" stroke="#1c1c1c" stroke-opacity="0.9" stroke-width="4.85" stroke-dasharray="0 2.5 2.2 6.7 1.6 5.9 2.2 8.4"/>
<rect x="619" y="348" width="10" height="10" rx="1.5" fill="#d4d4d4" fill-opacity="0.85" stroke="#7a7a7a" stroke-width="0.7"/>
<rect x="619.8" y="350.0" width="8.4" height="0.9" fill="#444" opacity="0.75"/>
<rect x="619.8" y="353.0" width="8.4" height="1.2" fill="#444" opacity="0.75"/>
<rect x="619.8" y="356.0" width="8.4" height="1.0" fill="#444" opacity="0.75"/>
<path d="M638.5 340.5L637.5 354.0L638.5 367.0" fill="none" stroke="#9a9a9a" stroke-width="5.95" stroke-linecap="round" stroke-linejoin="round"/>
<path d="M638.5 340.5L637.5 354.0L638.5 367.0" fill="none" stroke="#ededed" stroke-width="5.05" stroke-linecap="round" stroke-linejoin="round"/>
<path d="M638.5 340.5L637.5 354.0L638.5 367.0" fill="none" stroke="#bdbdbd" stroke-width="4.45" stroke-dasharray="1.3 1.1 0.9 1.9 0.6 2.0 1.5 1.6 1.1 1.5 1.2 2.0 1.4 1.8 1.4 2.1 0.8 1.2 1.1 1.2"/>
<path d="M638.5 340.5L637.5 354.0L638.5 367.0" fill="none" stroke="#1c1c1c" stroke-opacity="0.9" stroke-width="4.85" stroke-dasharray="0 2.1 0.7 4.6 1.6 5.5 1.0 7.6 0.7 5.7"/>
<path d="M668.0 346.0L673.0 351.0L670.0 360.0L665.5 365.5" fill="none" stroke="#9a9a9a" stroke-width="5.95" stroke-linecap="round" stroke-linejoin="round"/>
<path d="M668.0 346.0L673.0 351.0L670.0 360.0L665.5 365.5" fill="none" stroke="#ededed" stroke-width="5.05" stroke-linecap="round" stroke-linejoin="round"/>
<path d="M668.0 346.0L673.0 351.0L670.0 360.0L665.5 365.5" fill="none" stroke="#bdbdbd" stroke-width="4.45" stroke-dasharray="0.5 0.8 1.5 2.0 0.6 0.9 1.2 0.9 0.7 1.0 1.3 2.0 1.0 0.7 0.4 1.7 1.3 1.1 0.9 0.7 1.2 1.5"/>
<path d="M668.0 346.0L673.0 351.0L670.0 360.0L665.5 365.5" fill="none" stroke="#1c1c1c" stroke-opacity="0.9" stroke-width="4.85" stroke-dasharray="0 4.2 1.0 5.0 2.2 6.7 0.7 5.0"/>
<path d="M681.5 341.5L681.5 354.0L681.5 366.0" fill="none" stroke="#9a9a9a" stroke-width="5.95" stroke-linecap="round" stroke-linejoin="round"/>
<path d="M681.5 341.5L681.5 354.0L681.5 366.0" fill="none" stroke="#ededed" stroke-width="5.05" stroke-linecap="round" stroke-linejoin="round"/>
<path d="M681.5 341.5L681.5 354.0L681.5 366.0" fill="none" stroke="#bdbdbd" stroke-width="4.45" stroke-dasharray="1.2 1.0 1.2 1.2 0.9 1.6 0.9 1.8 1.4 2.1 1.0 2.0 0.5 0.6 1.5 1.1 1.4 1.9 1.0 1.0"/>
<path d="M681.5 341.5L681.5 354.0L681.5 366.0" fill="none" stroke="#1c1c1c" stroke-opacity="0.9" stroke-width="4.85" stroke-dasharray="0 4.7 1.0 5.8 1.2 6.0 2.2 7.4"/>
<path d="M413.0 392.0L413.0 409.5" fill="none" stroke="#9a9a9a" stroke-width="5.95" stroke-linecap="round" stroke-linejoin="round"/>
<path d="M413.0 392.0L413.0 409.5" fill="none" stroke="#ededed" stroke-width="5.05" stroke-linecap="round" stroke-linejoin="round"/>
<path d="M413.0 392.0L413.0 409.5" fill="none" stroke="#bdbdbd" stroke-width="4.45" stroke-dasharray="0.9 1.1 1.2 2.2 1.6 0.7 0.7 0.7 1.4 0.7 1.1 1.2 0.7 0.8 0.8 1.4 1.0 1.0"/>
<path d="M413.0 392.0L413.0 409.5" fill="none" stroke="#1c1c1c" stroke-opacity="0.9" stroke-width="4.85" stroke-dasharray="0 4.5 0.7 5.3 1.2 4.9"/>
<path d="M424.0 392.0L424.0 409.5" fill="none" stroke="#9a9a9a" stroke-width="5.95" stroke-linecap="round" stroke-linejoin="round"/>
<path d="M424.0 392.0L424.0 409.5" fill="none" stroke="#ededed" stroke-width="5.05" stroke-linecap="round" stroke-linejoin="round"/>
<path d="M424.0 392.0L424.0 409.5" fill="none" stroke="#bdbdbd" stroke-width="4.45" stroke-dasharray="1.3 1.0 0.6 1.5 0.7 1.2 1.3 0.6 1.1 0.7 0.6 1.8 1.2 1.5 0.6 1.8"/>
<path d="M424.0 392.0L424.0 409.5" fill="none" stroke="#1c1c1c" stroke-opacity="0.9" stroke-width="4.85" stroke-dasharray="0 4.2 2.2 7.1 1.6 6.1"/>
<path d="M462.0 392.0L462.0 409.5" fill="none" stroke="#9a9a9a" stroke-width="5.95" stroke-linecap="round" stroke-linejoin="round"/>
<path d="M462.0 392.0L462.0 409.5" fill="none" stroke="#ededed" stroke-width="5.05" stroke-linecap="round" stroke-linejoin="round"/>
<path d="M462.0 392.0L462.0 409.5" fill="none" stroke="#bdbdbd" stroke-width="4.45" stroke-dasharray="0.9 2.2 0.6 1.5 0.7 2.1 0.6 1.6 1.4 0.9 1.3 2.0 0.6 2.2"/>
<path d="M462.0 392.0L462.0 409.5" fill="none" stroke="#1c1c1c" stroke-opacity="0.9" stroke-width="4.85" stroke-dasharray="0 4.2 0.7 9.2 1.2 8.2"/>
<path d="M473.0 390.5L473.0 409.5" fill="none" stroke="#9a9a9a" stroke-width="6.48" stroke-linecap="round" stroke-linejoin="round"/>
<path d="M473.0 390.5L473.0 409.5" fill="none" stroke="#ededed" stroke-width="5.58" stroke-linecap="round" stroke-linejoin="round"/>
<path d="M473.0 390.5L473.0 409.5" fill="none" stroke="#bdbdbd" stroke-width="4.98" stroke-dasharray="1.3 1.6 0.8 1.8 0.4 2.2 0.9 0.9 1.3 1.7 0.5 0.9 1.1 1.2 1.4 0.8 0.7 1.4"/>
<path d="M473.0 390.5L473.0 409.5" fill="none" stroke="#1c1c1c" stroke-opacity="0.9" stroke-width="5.38" stroke-dasharray="0 2.4 0.7 8.1 0.7 5.9"/>
<path d="M515.0 392.0L515.0 409.5" fill="none" stroke="#9a9a9a" stroke-width="5.95" stroke-linecap="round" stroke-linejoin="round"/>
<path d="M515.0 392.0L515.0 409.5" fill="none" stroke="#ededed" stroke-width="5.05" stroke-linecap="round" stroke-linejoin="round"/>
<path d="M515.0 392.0L515.0 409.5" fill="none" stroke="#bdbdbd" stroke-width="4.45" stroke-dasharray="0.9 1.8 0.7 1.2 1.5 1.2 1.5 1.7 0.7 1.6 0.7 1.1 1.2 0.7 1.0 2.2"/>
<path d="M515.0 392.0L515.0 409.5" fill="none" stroke="#1c1c1c" stroke-opacity="0.9" stroke-width="4.85" stroke-dasharray="0 4.5 2.2 7.5 2.2 9.5"/>
<path d="M526.0 392.0L526.0 409.5" fill="none" stroke="#9a9a9a" stroke-width="5.95" stroke-linecap="round" stroke-linejoin="round"/>
<path d="M526.0 392.0L526.0 409.5" fill="none" stroke="#ededed" stroke-width="5.05" stroke-linecap="round" stroke-linejoin="round"/>
<path d="M526.0 392.0L526.0 409.5" fill="none" stroke="#bdbdbd" stroke-width="4.45" stroke-dasharray="1.0 1.1 1.4 1.7 0.8 1.9 0.7 1.1 1.6 1.1 1.0 1.1 1.5 1.8"/>
<path d="M526.0 392.0L526.0 409.5" fill="none" stroke="#1c1c1c" stroke-opacity="0.9" stroke-width="4.85" stroke-dasharray="0 4.2 2.2 5.1 1.6 7.9"/>
<path d="M564.0 394.5L564.0 409.5" fill="none" stroke="#9a9a9a" stroke-width="6.48" stroke-linecap="round" stroke-linejoin="round"/>
<path d="M564.0 394.5L564.0 409.5" fill="none" stroke="#ededed" stroke-width="5.58" stroke-linecap="round" stroke-linejoin="round"/>
<path d="M564.0 394.5L564.0 409.5" fill="none" stroke="#bdbdbd" stroke-width="4.98" stroke-dasharray="1.1 1.1 1.5 2.0 1.0 1.5 1.3 2.0 1.2 1.7 1.4 1.0"/>
<path d="M564.0 394.5L564.0 409.5" fill="none" stroke="#1c1c1c" stroke-opacity="0.9" stroke-width="5.38" stroke-dasharray="0 2.2 1.2 4.9 0.7 7.2"/>
<path d="M576.0 394.5L576.0 409.5" fill="none" stroke="#9a9a9a" stroke-width="6.48" stroke-linecap="round" stroke-linejoin="round"/>
<path d="M576.0 394.5L576.0 409.5" fill="none" stroke="#ededed" stroke-width="5.58" stroke-linecap="round" stroke-linejoin="round"/>
<path d="M576.0 394.5L576.0 409.5" fill="none" stroke="#bdbdbd" stroke-width="4.98" stroke-dasharray="1.6 0.7 0.8 1.6 0.8 0.8 1.3 1.2 1.4 1.2 1.6 1.0 1.2 2.0"/>
<path d="M576.0 394.5L576.0 409.5" fill="none" stroke="#1c1c1c" stroke-opacity="0.9" stroke-width="5.38" stroke-dasharray="0 3.3 0.7 6.8 0.7 4.2"/>
<path d="M614.0 396.5L614.0 409.5" fill="none" stroke="#9a9a9a" stroke-width="6.48" stroke-linecap="round" stroke-linejoin="round"/>
<path d="M614.0 396.5L614.0 409.5" fill="none" stroke="#ededed" stroke-width="5.58" stroke-linecap="round" stroke-linejoin="round"/>
<path d="M614.0 396.5L614.0 409.5" fill="none" stroke="#bdbdbd" stroke-width="4.98" stroke-dasharray="1.5 1.5 1.5 1.0 1.3 1.3 0.9 1.5 0.6 1.9 1.5 1.4"/>
<path d="M614.0 396.5L614.0 409.5" fill="none" stroke="#1c1c1c" stroke-opacity="0.9" stroke-width="5.38" stroke-dasharray="0 3.1 0.7 8.8"/>
<path d="M626.0 396.5L626.0 409.5" fill="none" stroke="#9a9a9a" stroke-width="6.48" stroke-linecap="round" stroke-linejoin="round"/>
<path d="M626.0 396.5L626.0 409.5" fill="none" stroke="#ededed" stroke-width="5.58" stroke-linecap="round" stroke-linejoin="round"/>
<path d="M626.0 396.5L626.0 409.5" fill="none" stroke="#bdbdbd" stroke-width="4.98" stroke-dasharray="0.6 1.8 0.6 1.0 1.2 1.3 1.1 1.7 1.3 2.1 1.2 1.1"/>
<path d="M626.0 396.5L626.0 409.5" fill="none" stroke="#1c1c1c" stroke-opacity="0.9" stroke-width="5.38" stroke-dasharray="0 3.8 1.0 8.3"/>
<path d="M665.0 397.5L665.0 409.5" fill="none" stroke="#9a9a9a" stroke-width="5.95" stroke-linecap="round" stroke-linejoin="round"/>
<path d="M665.0 397.5L665.0 409.5" fill="none" stroke="#ededed" stroke-width="5.05" stroke-linecap="round" stroke-linejoin="round"/>
<path d="M665.0 397.5L665.0 409.5" fill="none" stroke="#bdbdbd" stroke-width="4.45" stroke-dasharray="0.5 1.2 1.3 0.6 0.6 1.9 0.5 1.0 0.5 1.1 1.1 0.8 1.0 1.6"/>
<path d="M665.0 397.5L665.0 409.5" fill="none" stroke="#1c1c1c" stroke-opacity="0.9" stroke-width="4.85" stroke-dasharray="0 2.6 1.6 9.1"/>
<path d="M676.0 397.5L676.0 409.5" fill="none" stroke="#9a9a9a" stroke-width="5.95" stroke-linecap="round" stroke-linejoin="round"/>
<path d="M676.0 397.5L676.0 409.5" fill="none" stroke="#ededed" stroke-width="5.05" stroke-linecap="round" stroke-linejoin="round"/>
<path d="M676.0 397.5L676.0 409.5" fill="none" stroke="#bdbdbd" stroke-width="4.45" stroke-dasharray="0.7 0.9 0.9 1.4 0.6 1.1 1.2 1.8 1.2 0.9 1.6 0.9"/>
<path d="M676.0 397.5L676.0 409.5" fill="none" stroke="#1c1c1c" stroke-opacity="0.9" stroke-width="4.85" stroke-dasharray="0 4.9 0.7 5.8"/>
<path d="M414.0 436.5L414.0 447.5" fill="none" stroke="#9a9a9a" stroke-width="7.00" stroke-linecap="round" stroke-linejoin="round"/>
<path d="M414.0 436.5L414.0 447.5" fill="none" stroke="#ededed" stroke-width="6.10" stroke-linecap="round" stroke-linejoin="round"/>
<path d="M414.0 436.5L414.0 447.5" fill="none" stroke="#bdbdbd" stroke-width="5.50" stroke-dasharray="0.7 1.4 1.6 1.7 1.4 1.7 1.3 1.0 0.6 1.8"/>
<path d="M414.0 436.5L414.0 447.5" fill="none" stroke="#1c1c1c" stroke-opacity="0.9" stroke-width="5.90" stroke-dasharray="0 3.0 1.0 6.9"/>
<path d="M424.5 436.5L424.5 447.5" fill="none" stroke="#9a9a9a" stroke-width="7.00" stroke-linecap="round" stroke-linejoin="round"/>
<path d="M424.5 436.5L424.5 447.5" fill="none" stroke="#ededed" stroke-width="6.10" stroke-linecap="round" stroke-linejoin="round"/>
<path d="M424.5 436.5L424.5 447.5" fill="none" stroke="#bdbdbd" stroke-width="5.50" stroke-dasharray="0.6 1.3 1.4 1.1 0.8 1.8 1.0 1.9 0.6 1.6"/>
<path d="M424.5 436.5L424.5 447.5" fill="none" stroke="#1c1c1c" stroke-opacity="0.9" stroke-width="5.90" stroke-dasharray="0 3.5 1.2 7.6"/>
<path d="M464.0 437.5L464.0 447.5" fill="none" stroke="#9a9a9a" stroke-width="6.48" stroke-linecap="round" stroke-linejoin="round"/>
<path d="M464.0 437.5L464.0 447.5" fill="none" stroke="#ededed" stroke-width="5.58" stroke-linecap="round" stroke-linejoin="round"/>
<path d="M464.0 437.5L464.0 447.5" fill="none" stroke="#bdbdbd" stroke-width="4.98" stroke-dasharray="0.5 1.7 0.6 1.6 1.0 1.7 1.5 1.4 0.8 1.0"/>
<path d="M464.0 437.5L464.0 447.5" fill="none" stroke="#1c1c1c" stroke-opacity="0.9" stroke-width="5.38" stroke-dasharray="0 2.7 1.2 6.6"/>
<path d="M474.0 437.5L474.0 447.5" fill="none" stroke="#9a9a9a" stroke-width="6.48" stroke-linecap="round" stroke-linejoin="round"/>
<path d="M474.0 437.5L474.0 447.5" fill="none" stroke="#ededed" stroke-width="5.58" stroke-linecap="round" stroke-linejoin="round"/>
<path d="M474.0 437.5L474.0 447.5" fill="none" stroke="#bdbdbd" stroke-width="4.98" stroke-dasharray="1.0 1.9 1.0 1.1 0.9 1.6 1.6 1.4"/>
<path d="M474.0 437.5L474.0 447.5" fill="none" stroke="#1c1c1c" stroke-opacity="0.9" stroke-width="5.38" stroke-dasharray="0 4.0 2.2 6.0"/>
<path d="M514.5 440.5L514.5 447.5" fill="none" stroke="#9a9a9a" stroke-width="5.95" stroke-linecap="round" stroke-linejoin="round"/>
<path d="M514.5 440.5L514.5 447.5" fill="none" stroke="#ededed" stroke-width="5.05" stroke-linecap="round" stroke-linejoin="round"/>
<path d="M514.5 440.5L514.5 447.5" fill="none" stroke="#bdbdbd" stroke-width="4.45" stroke-dasharray="0.9 1.5 1.5 1.5 0.7 1.4"/>
<path d="M514.5 440.5L514.5 447.5" fill="none" stroke="#1c1c1c" stroke-opacity="0.9" stroke-width="4.85" stroke-dasharray="0 2.3 1.6 7.6"/>
<path d="M523.5 439.5L523.5 447.5" fill="none" stroke="#9a9a9a" stroke-width="5.95" stroke-linecap="round" stroke-linejoin="round"/>
<path d="M523.5 439.5L523.5 447.5" fill="none" stroke="#ededed" stroke-width="5.05" stroke-linecap="round" stroke-linejoin="round"/>
<path d="M523.5 439.5L523.5 447.5" fill="none" stroke="#bdbdbd" stroke-width="4.45" stroke-dasharray="0.9 1.4 0.6 1.4 0.5 1.4 1.0 1.5"/>
<path d="M523.5 439.5L523.5 447.5" fill="none" stroke="#1c1c1c" stroke-opacity="0.9" stroke-width="4.85" stroke-dasharray="0 3.2 0.7 9.1"/>
<path d="M563.0 439.5L563.0 447.5" fill="none" stroke="#9a9a9a" stroke-width="5.95" stroke-linecap="round" stroke-linejoin="round"/>
<path d="M563.0 439.5L563.0 447.5" fill="none" stroke="#ededed" stroke-width="5.05" stroke-linecap="round" stroke-linejoin="round"/>
<path d="M563.0 439.5L563.0 447.5" fill="none" stroke="#bdbdbd" stroke-width="4.45" stroke-dasharray="0.4 1.5 1.0 1.4 0.4 1.4 0.8 0.7 1.3 0.7"/>
<path d="M563.0 439.5L563.0 447.5" fill="none" stroke="#1c1c1c" stroke-opacity="0.9" stroke-width="4.85" stroke-dasharray="0 4.2 2.2 7.9"/>
<path d="M573.0 439.5L573.0 447.5" fill="none" stroke="#9a9a9a" stroke-width="5.95" stroke-linecap="round" stroke-linejoin="round"/>
<path d="M573.0 439.5L573.0 447.5" fill="none" stroke="#ededed" stroke-width="5.05" stroke-linecap="round" stroke-linejoin="round"/>
<path d="M573.0 439.5L573.0 447.5" fill="none" stroke="#bdbdbd" stroke-width="4.45" stroke-dasharray="1.0 2.0 0.8 2.1 0.8 1.3"/>
<path d="M573.0 439.5L573.0 447.5" fill="none" stroke="#1c1c1c" stroke-opacity="0.9" stroke-width="4.85" stroke-dasharray="0 4.9 1.0 9.1"/>
<path d="M615.0 433.5L623.0 435.5L626.0 441.0L623.0 446.5L615.5 448.0" fill="none" stroke="#9a9a9a" stroke-width="5.95" stroke-linecap="round" stroke-linejoin="round"/>
<path d="M615.0 433.5L623.0 435.5L626.0 441.0L623.0 446.5L615.5 448.0" fill="none" stroke="#ededed" stroke-width="5.05" stroke-linecap="round" stroke-linejoin="round"/>
<path d="M615.0 433.5L623.0 435.5L626.0 441.0L623.0 446.5L615.5 448.0" fill="none" stroke="#bdbdbd" stroke-width="4.45" stroke-dasharray="1.3 0.9 1.1 1.6 0.8 1.3 0.5 1.4 1.6 0.8 1.1 1.4 1.5 1.0 0.8 1.3 0.9 2.1 1.6 2.2 1.1 2.2"/>
<path d="M615.0 433.5L623.0 435.5L626.0 441.0L623.0 446.5L615.5 448.0" fill="none" stroke="#1c1c1c" stroke-opacity="0.9" stroke-width="4.85" stroke-dasharray="0 2.2 2.2 5.1 2.2 5.2 2.2 4.5 1.6 9.3"/>
<path d="M671.0 440.5L671.0 447.5" fill="none" stroke="#9a9a9a" stroke-width="5.43" stroke-linecap="round" stroke-linejoin="round"/>
<path d="M671.0 440.5L671.0 447.5" fill="none" stroke="#ededed" stroke-width="4.53" stroke-linecap="round" stroke-linejoin="round"/>
<path d="M671.0 440.5L671.0 447.5" fill="none" stroke="#bdbdbd" stroke-width="3.93" stroke-dasharray="0.8 2.0 1.1 2.1 0.7 1.7"/>
<path d="M671.0 440.5L671.0 447.5" fill="none" stroke="#1c1c1c" stroke-opacity="0.9" stroke-width="4.33" stroke-dasharray="0 3.4 1.6 5.3"/>
</g>
<text x="424.00" y="321.00" font-size="4.6" text-anchor="middle" fill="#222" font-weight="bold">1</text>
<text x="484.00" y="321.00" font-size="4.6" text-anchor="middle" fill="#222" font-weight="bold">2</text>
<text x="547.00" y="321.00" font-size="4.6" text-anchor="middle" fill="#222" font-weight="bold">3</text>
<text x="607.00" y="321.00" font-size="4.6" text-anchor="middle" fill="#222" font-weight="bold">4</text>
<text x="665.00" y="321.00" font-size="4.6" text-anchor="middle" fill="#222" font-weight="bold">5</text>
<text x="419.00" y="374.00" font-size="4.6" text-anchor="middle" fill="#222" font-weight="bold">6</text>
<text x="467.00" y="374.00" font-size="4.6" text-anchor="middle" fill="#222" font-weight="bold">7</text>
<text x="508.00" y="374.00" font-size="4.6" text-anchor="middle" fill="#222" font-weight="bold">8</text>
<text x="547.00" y="374.00" font-size="4.6" text-anchor="middle" fill="#222" font-weight="bold">9</text>
<text x="588.00" y="374.00" font-size="4.6" text-anchor="middle" fill="#222" font-weight="bold">10</text>
<text x="631.00" y="374.00" font-size="4.6" text-anchor="middle" fill="#222" font-weight="bold">11</text>
<text x="674.00" y="374.00" font-size="4.6" text-anchor="middle" fill="#222" font-weight="bold">12</text>
<text x="419.00" y="417.00" font-size="4.6" text-anchor="middle" fill="#222" font-weight="bold">13</text>
<text x="469.60" y="417.00" font-size="4.6" text-anchor="middle" fill="#222" font-weight="bold">14</text>
<text x="520.60" y="417.00" font-size="4.6" text-anchor="middle" fill="#222" font-weight="bold">15</text>
<text x="570.40" y="417.00" font-size="4.6" text-anchor="middle" fill="#222" font-weight="bold">16</text>
<text x="620.40" y="417.00" font-size="4.6" text-anchor="middle" fill="#222" font-weight="bold">17</text>
<text x="670.40" y="417.00" font-size="4.6" text-anchor="middle" fill="#222" font-weight="bold">18</text>
<text x="419.50" y="455.30" font-size="4.6" text-anchor="middle" fill="#222" font-weight="bold">19</text>
<text x="469.00" y="455.30" font-size="4.6" text-anchor="middle" fill="#222" font-weight="bold">20</text>
<text x="518.80" y="455.30" font-size="4.6" text-anchor="middle" fill="#222" font-weight="bold">21</text>
<text x="568.30" y="455.30" font-size="4.6" text-anchor="middle" fill="#222" font-weight="bold">22</text>
<text x="620.40" y="455.30" font-size="4.6" text-anchor="middle" fill="#222" font-weight="bold">X</text>
<text x="670.90" y="455.30" font-size="4.6" text-anchor="middle" fill="#222" font-weight="bold">Y</text>
<defs><path id="g1" d="M110.2 587.2l0-.6.5.2.7-.1.7-.1.9.2.9-.2 1-.1 1 .3.9-.4.9-.2.9-.1.7.1 1 .1.9 0 .8 0 .7.1.8-.1.8-.2.9.1.7-.1.8-.2.8.3.9 0 .9 0 .8.5 1-.2.9-.1 1 .1.8.4.9-.4.9.2.9 0 1 .1.9 0 1-.2.9 0 .8 0 .8 0 .7.1.7 0 1-.8.8-.2.3-.8.4-.8.6-1.3.3-.5 0-.7-.4-.8 1.4-.3-.4-.9.1-.8.6-.7-.3-1-.2-.9 1-.8.1-.9-.4-1.1.9-.9 0-1.1-.6-.7 1.4-.6-.6-.8-.6-.7.8-.7 0-.8.4-.7-.9-.9 1.1-.7 0-.8 0-.8 0-.8.4-.8-.2-.9-.2-.9-.3-.9.9-.8 0-.9-.2-.9 0-.9.3-.9-1.4-1.1 1.4-.6-1.3-.9 1.3-.7.5-.7.4-.8-1-.9.5-.9-.2-.8-.9-1 1.4-.7-.3-.9.1-.9-.4-.9.4-.9.1-.9.7-.8-.4-.9 1.5-.7-1.8-1 .2-.8.1-.8-.3-.9 1.1-.7-.3-.8-.8-.8.7-.6.5-.7-1.1-.7.8-1.1-.1-1 1.2-.9-.8-1-.3-.9 0-.8 1.2-.7-1-.8 1.3-.7-1.6-.9.7-.6 0-.8-.1-.7.3-.7.4-.7-.5-.9-.3-.9 1.3-.9.2-1-1-1.1.5-1-1.2-1.2 1.7-.9-1-1.1.4-.9 1.3-.8-1.5-.8.6-.6-.4-.5-.3-.5.8-.3 0 .6.8.1-.3.4-.5.6.5.6.6.6-1.2 1 .7.8-.5 1 1.2 1-1.2 1.2 1.5 1 .3 1.2-.6 1.2.1 1.2-.2.7.4.6-.5.7-.3.7 1 .7.4.7-.4.8-.5.8 0 .8.6.8.4.8-.4.8-.4.9.8.8-.8.9.5.9 0 .8.5.9-.8.9.6.9.8.8-1 1 .6.8-.6.9.4.9.5.8-.4.9.4.8.2.8-.3.9-.3.8.4.8.1.9.2.8-.4.9.2.8-.3.9.3.8-.7.9 1.7.8-.7.9-.2.9-.1.9 1.2.8-.1.8-.5.9-.5.9 0 .8 1.3.8-.7.8-.4.9.5.7.6.8-.1.8.3.7-1.1.9.8.7.1.7.3.7-.3.7.5 1 .1 1-.3 1 .2 1-.2 1 .2.9-.3 1 .7.8 0 .9.1.9.6.8-.7.9.8.7.5.6-.8.9.3.7.5.5-.3.7.2.6.2.5 1 1.2.3 1 .8.4.6.3.5.3.4.2 0 .9"/><path id="b1" d="M78.7 587.2l0-2.2.5.4.6.1.6-.4.7-.2.8.3.9.1.9.2.9-.6.9 0 1 .4 1 0 .9.2 1-.2.8-.3.9-.1.8.7.7-.8 1-.3.9-.2.9.2.9-.1.8-.3.8-.1.9-.1.8 0 .7-.1.7-.5.5-.8.9.6.7-1 1 .1.6-.8.9.2.6-.6.8-.1 1.4.6-.1-1.5.9-.1.1-1.3.9-.3 1-.3.4-.9.7-.5.5-.7.1-1 1.1 0 .2-1.3 1.7.2-.5-1.5 1-.2.2-.8 1.1-.7-.1-1.3.8.3.8-.1.1 1.4.8.2.9.4.9 0 .1 1.2.8.5.1 1.2 1.2.1-.1 1 .3.8.4.8.4.9.4.8.7.6.6.7.3.9.2 1 .4.9.8.6.7.7.8.5.8.3.9.3.9.4.9.4 1-.2.9.1.6.7.6-.3 0 .8"/></defs>
<use href="#g1" fill="#e1f4e7"/>
<use href="#b1" fill="#c8d0f4" fill-opacity="0.55"/>
<use href="#g1" fill="none" stroke="#36b262" stroke-width="1.05" stroke-linejoin="round"/>
<use href="#b1" fill="none" stroke="#2a4ef2" stroke-width="1.1" stroke-linejoin="round"/>
<path d="M78.30,587.20 L78.30,496.40 L169.50,496.40 L169.50,587.20 Z" fill="none" stroke="#4a4a4a" stroke-width="0.9"/>
<rect x="170.10" y="492.20" width="0.90" height="3.00" fill="#222" stroke="none" stroke-width="1"/>
<text x="123.30" y="494.20" font-size="4.8" text-anchor="middle" fill="#333" textLength="64.00" lengthAdjust="spacingAndGlyphs"><tspan fill="#333">APC CD56-PE-B2M /</tspan><tspan fill="#e8323c">E1</tspan><tspan fill="#333"> / </tspan><tspan fill="#e8323c">E8</tspan><tspan fill="#333"> /</tspan><tspan fill="#2ea24a">P2</tspan></text>
<text x="74.90" y="587.20" font-size="4.8" text-anchor="middle" fill="#4a4a4a" transform="rotate(-90 74.90 587.20)">0</text>
<text x="74.90" y="566.50" font-size="4.8" text-anchor="middle" fill="#4a4a4a" transform="rotate(-90 74.90 566.50)">100</text>
<text x="74.90" y="545.34" font-size="4.8" text-anchor="middle" fill="#4a4a4a" transform="rotate(-90 74.90 545.34)">200</text>
<text x="74.90" y="525.46" font-size="4.8" text-anchor="middle" fill="#4a4a4a" transform="rotate(-90 74.90 525.46)">300</text>
<text x="74.90" y="496.40" font-size="4.8" text-anchor="middle" fill="#4a4a4a" transform="rotate(-90 74.90 496.40)">405</text>
<text x="67.30" y="542.25" font-size="4.8" text-anchor="middle" fill="#4a4a4a" transform="rotate(-90 67.30 542.25)">Count</text>
<text x="78.30" y="595.00" font-size="5.2" text-anchor="middle" fill="#3a3a3a">-10<tspan font-size="3.8" dy="-1.9">2</tspan></text>
<text x="90.16" y="595.00" font-size="5.2" text-anchor="middle" fill="#3a3a3a">10<tspan font-size="3.8" dy="-1.9">2</tspan></text>
<text x="112.04" y="595.00" font-size="5.2" text-anchor="middle" fill="#3a3a3a">10<tspan font-size="3.8" dy="-1.9">3</tspan></text>
<text x="128.46" y="595.00" font-size="5.2" text-anchor="middle" fill="#3a3a3a">10<tspan font-size="3.8" dy="-1.9">4</tspan></text>
<text x="143.96" y="595.00" font-size="5.2" text-anchor="middle" fill="#3a3a3a">10<tspan font-size="3.8" dy="-1.9">5</tspan></text>
<text x="167.68" y="595.00" font-size="5.2" text-anchor="middle" fill="#3a3a3a">10<tspan font-size="3.8" dy="-1.9">6.1</tspan></text>
<defs><path id="g2" d="M190.5 587.2l0-1.1.4-.2.6.6.5-.6.6-.2.7-.1.6-.3.8-.1.8.1.8-.3.9.1.9-.3.8-.5 1-.1.9 0 .9-.4 1.1.2.9-.2 1 .2.9-.7.9 0 1 0 .9-.1.7-.7 1 .5.7-.8.9.3.6-.7.6-.2.5-.5.7.1 1.4.2.4-1.4 1.2 0 .7-.7.2-1.1 1-.3.6-.6-.2-1.1.4-.8 1-.3.1-.9 1.1-.3-.4-1.1-.2-1 .8-.4.1-1 1.2-.2.4-.7 0-1 .1-.7 1.1-.3-.1-.9 1-.4-.6-1.2.6-.6.2-.9.2-1 2-.5-.3-.8-.8-1 .8-.6-1-1 1.6-.5.2-.8-.5-1 .2-.9.5-.8.2-.8-.1-1-.1-.9.5-.8.1-.9.7-.8-.1-.9.2-.9-.7-1 .7-.7.2-.8.1-.7.3-.7.1-1-.3-1 1.3-.7.1-.8-.5-1 .7-.7-.5-.9 0-.8.6-.7.9-.6-.6-1-.5-.8.9-.7-.2-.8.1-.8.6-.7-.8-1 .1-.8.3-.8 1.3-.7-.3-.9-.2-.9.1-.8.7-.7.4-.8-.8-1 .6-.7 1.1-.7-.7-.9-.3-.9.4-.7 0-.8.4-.9 0-.9-.3-1.1.3-1 .3-1-.3-1.1.4-1-.3-1 1.1-.8.3-.8-1.1-.9 1-.5-.2-.5 0-.4 0-.3.1.2-.2.3 1.2.2-.9 1 .8.7.5.9-.3 1.2-.2 1.2.5 1-.1 1.2.5 1 .1.7-.6.7 1 .7-.9.8.4.8.4.7 0 .8.1.8 0 .9 0 .8.1.9.9.8.2.9-1.1 1 .6.8 0 .9-.1.8.6.7-1.2.9.8.7.2.7.5.8-.8.9.1.8-.2.8.4.8.9.7.3.8-1.2 1 1.1.7-.2.9.2.9-.2.9 0 .9.9.8-.1.9.6.7-1 .9.4.7.8.7-1.2.9.6.8.5.7-.1.9.1.8-.2.8 0 .8.5.8-.4.9 1.5.7-1 .9-.3.9-.1.9.2.8.9.8.4.8-.5.8-1.2 1 1.1.7.5.8.6.8-.8.9.4.9-.4.9.3.9 1.3.9-1 1-.3 1 .8.9.3.9.1.9.2.9-1.5 1.1.5.9 1 .7-.7 1 1 .6-.1.8.2.8-.1.7-.1.6-.3.7.5.4.3.4.2 1.7.3-.5 2-.3.5-.3.5.3.6.1.7.1.7-.4.8.3.8 0 .9-.3.9-.3.9.4.9.3.9-.2.9.6.9-.4 1-.3.9.2.9.2.8 0 .9-.1.8.3.7.6 1-.4.9 0 1 0 1-.2.8.6 1 .1 1 .2.9.1.9.5.8.2 1-.2.8.1.7.5.7.3.7 0 .6.1.6-.2.4.3 0 .4"/><path id="b2" d="M190.5 587.2l0-1.8.5.1.4-.6.6 0 .7.2.7.4.7-.4.8-.5.8.1.9.1.9.2.9-.3 1-.1.9 0 1 0 1-.3 1 .1 1 0 1 .3.9-.5 1 .2.8-.7 1 .4.8-.3.8-.3.9 0 .8.1.6-.5.7.2.7 0 1.1-.4 1-.4.3-1.3 1 0 .4-.8 1-.1.2-.8.5-.6.5-.6 0-.9.6-.5.1-.9 1.7 0-.7-1.5.7-.4-.4-1.2.5-.5.7-.6 1.2-.2.4-.8.1-.9 0-.9 1.5-.2-1-1.5.5-.7 1-.5-.4-1.1 1-.5.6-.6-.2-.9.5-.6.1-.8 0-1-1-1.3 1.3-.5.9-.6-.6-1 .7-.7.6-.7.8-.7-1.2-1.1.6-.7.6-.7.4-.8-.8-1 1.9-.4-1.2-1.2 1.3-.5-.5-1 .6-.8.9-.6-.3-1 0-.9-.4-1 .5-.8-.2-.9 2-.3-1.6-1.3-.4-.9 2.5-.2 0-1-.7-1.2.9-.9-.8-1.2.4-1 .7-1 .1-.9-.3-1 1.3-.4-.4-.7-.1-.5 0-.8.2.8.4.3.1.8-.2 1 .9.9-.2 1.2-.1 1.2.4 1-.8 1.2 2.2 0-.4 1.2.8-.3 0 1-.9 2.1 2.3 0-.6.7-.5.7.5.6-.4.8 1.5.5-1.3 1 1.1.6.3.8-.8 1 .1.9.8.8.1.9-.2 1 0 .9.2.9.6.9.8.8-1.8 1.2.7.8.9.8.2.8-.3.9-.1.8 1 .8-1.8 1 .6.8.5.9-.3.9.2.9-.4 1 .6.8-.6 1 0 .9 1.1.8.1.8.3.9-.2.8.3.8-.3.9-.1.7 0 .8.9.6-1 .8.8.5-.1.6.4 1.4.8 1.1-.7 1.1.9.7-.7.9.5.6-.1.7.5.4.4.5.7.9 1.1.1.9.6.9-.2.6.2 0 .3"/></defs>
<use href="#g2" fill="#e1f4e7"/>
<use href="#b2" fill="#c8d0f4" fill-opacity="0.55"/>
<use href="#b2" fill="none" stroke="#2a4ef2" stroke-width="1.1" stroke-linejoin="round"/>
<use href="#g2" fill="none" stroke="#36b262" stroke-width="1.05" stroke-linejoin="round"/>
<path d="M190.50,587.20 L190.50,496.40 L281.70,496.40 L281.70,587.20 Z" fill="none" stroke="#4a4a4a" stroke-width="0.9"/>
<rect x="282.30" y="492.20" width="0.90" height="3.00" fill="#222" stroke="none" stroke-width="1"/>
<text x="235.50" y="494.20" font-size="4.8" text-anchor="middle" fill="#333" textLength="39.00" lengthAdjust="spacingAndGlyphs"><tspan fill="#333">Sample25 / E9 / P10</tspan></text>
<text x="187.10" y="587.20" font-size="4.8" text-anchor="middle" fill="#4a4a4a" transform="rotate(-90 187.10 587.20)">0</text>
<text x="187.10" y="568.31" font-size="4.8" text-anchor="middle" fill="#4a4a4a" transform="rotate(-90 187.10 568.31)">60</text>
<text x="187.10" y="549.34" font-size="4.8" text-anchor="middle" fill="#4a4a4a" transform="rotate(-90 187.10 549.34)">120</text>
<text x="187.10" y="530.45" font-size="4.8" text-anchor="middle" fill="#4a4a4a" transform="rotate(-90 187.10 530.45)">180</text>
<text x="187.10" y="511.56" font-size="4.8" text-anchor="middle" fill="#4a4a4a" transform="rotate(-90 187.10 511.56)">240</text>
<text x="187.10" y="496.40" font-size="4.8" text-anchor="middle" fill="#4a4a4a" transform="rotate(-90 187.10 496.40)">288</text>
<text x="179.50" y="542.25" font-size="4.8" text-anchor="middle" fill="#4a4a4a" transform="rotate(-90 179.50 542.25)">Count</text>
<text x="190.50" y="595.00" font-size="5.2" text-anchor="middle" fill="#3a3a3a">-10<tspan font-size="3.8" dy="-1.9">1</tspan></text>
<text x="215.12" y="595.00" font-size="5.2" text-anchor="middle" fill="#3a3a3a">10<tspan font-size="3.8" dy="-1.9">2</tspan></text>
<text x="233.36" y="595.00" font-size="5.2" text-anchor="middle" fill="#3a3a3a">10<tspan font-size="3.8" dy="-1.9">3</tspan></text>
<text x="250.69" y="595.00" font-size="5.2" text-anchor="middle" fill="#3a3a3a">10<tspan font-size="3.8" dy="-1.9">4</tspan></text>
<text x="268.02" y="595.00" font-size="5.2" text-anchor="middle" fill="#3a3a3a">10<tspan font-size="3.8" dy="-1.9">5</tspan></text>
<text x="280.33" y="595.00" font-size="5.2" text-anchor="middle" fill="#3a3a3a">10<tspan font-size="3.8" dy="-1.9">5.6</tspan></text>
<defs><path id="g3" d="M335.9 587.2l0-.3.5-.2.5-.4.9.2.6-.9 1-.1 1-.2 1-.4.9-.4.7-.7 1.2.2.5-1 .8-.2.8-.4.9-.4.7-.5 1.1.1.5-.8 1-.2.1-1.2 1.2.1.4-.8.7-.4.5-.7.5-.5.2-.8.5-.6.3-.7.4-.7.3-.9.1-1 .7-.9-.3-.9 1.4-.3-.3-.9.5-.7-.5-1-.4-1 .1-.9.5-.8.3-.9.3-.8.2-.9.6-.8-1.2-1.2 2-.5-.7-1 .3-.7-.7-1 1.1-.5-.5-1.1 1.1-.7.1-.8.2-.8.1-.8.1-.7.2-.7.7-.6-.1-.9.2-.7 1.2-.7-.9-1.2-.3-.8-.5-.8 0-.7 1.2-.7.5-.8-.8-.9 0-.8.5-.8.3-.9.4-.8-.4-.9-.2-.9.7-.8-.6-.9-.2-.9.3-.8.4-.8.1-.8.3-.8.2-.9 1.2-.7-.8-1-1-1.1.5-.9.9-.7-.3-1 1.5-.6-1.1-1 .2-.8.4-.7 0-.8.5-.6-.2-.8.4-.6-.1-1.2-.5-1.3 1.6-.3.9-.5-.8-1.2.5-.5.8-.5-.3-1 .5-.8 0-1 .5-1-.2-1 1.2-.9-.8-1 0-.8-.4-.7.8 0 .5-.3-.3.8.2.5-.7 1.1 1.8.7-.2 1.3-.2 1.6 1.4.4-1.1.7-.5.7.9.6.1.7-.6.7.5.8.1.7-.3.9.8.7-1.1 1 1.1.8-.2.9.3.9 1 .8-.3 1-.5 1-.1.9-.5 1-.6 1.1 1 .6.4.7.3.7-.8.9 1 .7-.2.8-.6.8.8.8.1.8 0 .9.9.7-.6.9-.1.9 0 .9.5.8.9.8-.6.9-.6.9.8.8.2.8-.6 1 .1.8.3.8-.1.8 0 .9.2.7.2.8-.6.9 1.4.7-1.4 1 1 .8.5.8-.5 1-.1.9 1.1.7-.5 1-.2.9.1.8.5.8.6.8-.4.9-.9.9 1.5.7-1.7 1 1.5.6.1.8.3.7-.2.8.1.8.6.6-1.3.9.5.6.5 1 .9.9-.2 1 0 1-.3 1 .5.9.6.8-.3.9.2.9 0 .8-.1.8.7.6.4.6-.6.8.3.6.7.3.1 1.2.8.5.5.7.8.2.8-.2.8.2.9.4.7-.1.8.2.9.2 1 .2.9 0 1-.1.8.2.8.3.7-.1.5 0 0 .7"/><path id="b3" d="M302.5 587.2l0-1.3.5-.2.5-.3.7.5.7-.2.8 0 .8-.1.9.3 1-.2.9 0 1-.4.9-.1.9-.3 1 .2.8-.8 1 1.1.7-.5.8-.1 1 0 .8-.5 1 0 .9 0 .7-.9 1 .8.7-.7.8-.1.6-.8.8-.1 1 .4.3-1 .8-.4 1-.2.9-.2-.3-1.8 1.7.8.3-1 .8-.4-.1-1.3 1.1-.2 1.1-.4-.3-1.1.2-.9.5-.6.3-.7 1.1-.4.1-.9 0-1 1.1-.4-.7-1.3.2-.9 2.4.1-1.3-1.5 1.5-.4-.6-1.1.2-.8.6-.7-.5-1 .3-.9.5-.7.2-.9.8-.7.9-.6-1.5-1.3.3-.8 1.2-.6.1-.8.5-.6-.7-1.2 1-.6-.1-.9-.6-1.1 1.4-.3-.8-1.2 1.4-.4-.3-.9.5-.8 1.5-.4-.1-1-.3-1.1.1-.7-.5-1 1.4-.6-.2-1-.7-1-.3-1.1 1.1-.7.1-1 .7-.8-.9-1.1.2-.8.9-.7-.1-.8.7-.6.2-.6-1-.8-.4-2.2 1.7-.3.7-.1-.3.8 1.9 0-1.3 1.3.2.9.6.8-.4 1.2.5.9.2 1-.4 1 .2.8.3.7.7.5.3.6 0 .8.3.8.8.8-.5 1.3-.2.7.9.5.5.7-.9.8.9.7.5.7-.6.9.8.8-1 .9.6.8-.3.9-.5 1 .1.9.8.8 1.4.8-1 1 .5.8-1.1 1-.3.8.6.8.1.8.1.8 0 .9.7.8-.7.9.8.8.5.9-.6.9-.8.9 1.1.8 1 .8-1.7 1 .7.7-.1.8.7.7-.5.8-.6.8 1.4.5-.6 1.2.4 1 .8.8-.3 1.1.1.9.8.7-.6 1 1.1.5-.6 1 .4.5.3.6.5.4.7 1.1.8.4.4.8.4.2 0 .4"/></defs>
<use href="#g3" fill="#e1f4e7"/>
<use href="#b3" fill="#c8d0f4" fill-opacity="0.55"/>
<use href="#g3" fill="none" stroke="#36b262" stroke-width="1.05" stroke-linejoin="round"/>
<use href="#b3" fill="none" stroke="#2a4ef2" stroke-width="1.1" stroke-linejoin="round"/>
<path d="M302.50,587.20 L302.50,496.40 L393.70,496.40 L393.70,587.20 Z" fill="none" stroke="#4a4a4a" stroke-width="0.9"/>
<rect x="394.30" y="492.20" width="0.90" height="3.00" fill="#222" stroke="none" stroke-width="1"/>
<text x="347.50" y="494.20" font-size="4.8" text-anchor="middle" fill="#333" textLength="39.00" lengthAdjust="spacingAndGlyphs"><tspan fill="#333">Sample13 / E9 / P10</tspan></text>
<text x="299.10" y="587.20" font-size="4.8" text-anchor="middle" fill="#4a4a4a" transform="rotate(-90 299.10 587.20)">0</text>
<text x="299.10" y="569.49" font-size="4.8" text-anchor="middle" fill="#4a4a4a" transform="rotate(-90 299.10 569.49)">60</text>
<text x="299.10" y="551.79" font-size="4.8" text-anchor="middle" fill="#4a4a4a" transform="rotate(-90 299.10 551.79)">120</text>
<text x="299.10" y="533.99" font-size="4.8" text-anchor="middle" fill="#4a4a4a" transform="rotate(-90 299.10 533.99)">180</text>
<text x="299.10" y="516.29" font-size="4.8" text-anchor="middle" fill="#4a4a4a" transform="rotate(-90 299.10 516.29)">240</text>
<text x="299.10" y="496.40" font-size="4.8" text-anchor="middle" fill="#4a4a4a" transform="rotate(-90 299.10 496.40)">307</text>
<text x="291.50" y="542.25" font-size="4.8" text-anchor="middle" fill="#4a4a4a" transform="rotate(-90 291.50 542.25)">Count</text>
<text x="302.50" y="595.00" font-size="5.2" text-anchor="middle" fill="#3a3a3a">-10<tspan font-size="3.8" dy="-1.9">1</tspan></text>
<text x="326.21" y="595.00" font-size="5.2" text-anchor="middle" fill="#3a3a3a">10<tspan font-size="3.8" dy="-1.9">2</tspan></text>
<text x="344.00" y="595.00" font-size="5.2" text-anchor="middle" fill="#3a3a3a">10<tspan font-size="3.8" dy="-1.9">3</tspan></text>
<text x="360.87" y="595.00" font-size="5.2" text-anchor="middle" fill="#3a3a3a">10<tspan font-size="3.8" dy="-1.9">4</tspan></text>
<text x="377.28" y="595.00" font-size="5.2" text-anchor="middle" fill="#3a3a3a">10<tspan font-size="3.8" dy="-1.9">5</tspan></text>
<text x="392.33" y="595.00" font-size="5.2" text-anchor="middle" fill="#3a3a3a">10<tspan font-size="3.8" dy="-1.9">6</tspan></text>
<defs><path id="g4" d="M450.5 587.2l0-.4.5-.1.7-.1.7 0 .8-.2.9-.4 1 .2 1-.3.9-.2 1-.2.9-.3.8-.2.7-.5.6-.6.4-.7.4-.6.8-.5.7-.5.1-1 .3-.8.6-.7-.3-1.2.7-.7.7-.8.4-.6-.2-.9.5-.6.1-.7.5-.7-.6-1 .9-.6-.7-1-.3-.9 1-.6.1-.9.9-.8.1-.9-.6-1.1 1.1-.8-.6-1.2.5-.6.1-.7.3-.7.4-.7.1-.8 0-.8.3-.8 0-.8-.3-.9.1-.9.2-.8.6-.8-.2-.9 1.3-.7-1.3-1.1 0-.8 1-.8.4-.8-.3-.9.3-.8.4-.8-.5-.9-.5-.9.6-.7.8-.8-.9-1 .8-.8.2-.9-.1-.9.6-.8.1-.9 1-.8-.6-1-.4-1 .1-.8.1-.9.9-.7-.5-1 .4-.7.5-.8-.5-.8.3-.7-.5-.9.4-.6.4-.6.6-.5.6-1.1-.3-1.2.4-.8.2-.8.6-.5.2-.7 0-.7-.4-.9 1.1-.5 0-1 .6-.7-.4-1 1-.8-.8-1.2 1-1-.4-1.2-.1-1.1-.1-1 .6-.9.8-.7-.1-.7.1-.5-1-1.1 1 .8-.1 0 .6.2.2.7-.2.9-.6 1 1.3 1-.1 1.2-.7 1.2.9 1 .1 1.1-.1 1 .7.7-.6.7.6-.1.3.5-.1-1.2 1.3-1.4-.6-1.6.7-.5.2-.4-.4.6-.1.5-.6.7 1.6.7-1.2.9.2.9-.4 1 .4 1 .4 1.1.2 1.1.4 1-.6 1.1.2 1.1-1 1 1.3.8-.4.9.9.6-.5.7-.3.5-.1.4.5.8.2-.9-.3-.8.9-.9.2-1.2.3-1.3-.4-1.3 1.1-.9-.3-1 .4-1 .4-1.1-.1-1.2 0-1.1 1-.9-.7-1-.1-.8.4-.2-.4.4.6-.1-.1.5-.2.8.8.8.7.9-.8 1.2.1 1.2.5 1.2-.6 1.2.3 1.1.8 1-.6 1 .4.8.7.4-.7.6.2 0-.2-.2.7-.2 0-.6-.3-.7.5-.9.4-.9-.7-1.1.5-1.1 0-1.1 1.1-1.1-1.8-1.3 1.2-.9-.3-1.1.2-.8 1-.6-.8-.7 1 0-.7-1.2.3.4.7.7.4 1.5 0 2.2.2.4-.1.6 1.1.5-1.8.8 1 .5-.8.7 1.3.6-.5.8-1.2.8 1.9.6.3.8-.3.9-.4.8-.1.9-.2.9.8.9.7.9-.5 1-.7 1 .4 1 1.2.9-.8 1.1-.5 1.1-.3 1.1.8.7.1.6.8.7-.1.8-.4.8-.1.8 0 .8.5.8.4.8-.1.8.2.9-.7.9 1.4.8-.9 1-.3.9-.4 1 .7.8-.3 1 .7.8.2 1 0 .9-.9 1 .3.8.3.9-1.2 1 1.6.8-.3.9.2.8.3.8-1 1 .4.8 1.4.6-.4.8-.3.8-.1.8 1 .6.5.6-.1.7-.8.7.1.6-.1 1.4.7 1.2.4 1.1.5 1-.9 1.1.1.9-.1.9.3.8.5.6-.4.8.7.5.3.5.1.6.2.6.5.4-.4.7.5 1.3.6.9.6.5.3.5.2.5 0 .6"/><path id="b4" d="M414.7 587.2l0-3.7.4.4.6.3.6.4 1-.8.8.4.9.1.8.4 1 .2.9-.2.9.5.8-.4.8.5.8-.4.9.2.9-.1.8-.4.8-.4.8-.3.8-.4 1.1.4.7-.5 1 0 .6-.7.8-.3.6-.7.9-.2.6-.8 1.2.6.7-.4.9-.2.8-.4 0-1.4.1-1 1.6.6.4-.8 0-1 .5-.7 1.2-.2.9-.4-.3-1.1-.1-1 1.1-.3.5-.6-.8-1.3 1.4-.2-.4-1.2.8-.4.6-.5.2-.8-.5-1.1 1.3-.3-.6-1.2 1.5-.4-1.1-1.2 1-.4.3-.8.1-.8.8-.6.3-.8 1.1-.5-.4-1.1.6-.8-1-1.3 1.5-.5.2-1 .5-.7.2-.7-1.1-1.1 0-.8.5-.7.2-.8 1.4-.5-1.7-1.3 1.3-.5.7-.8-.4-1-.5-1 .5-.8 1-.6.3-.9-.3-.9.5-.8.7-.6-.8-1 1.5-.4-1.5-1.2 1.9-.4-1.7-1.2 1.7-.4-.6-1-.7-1 1.2-.6.4-.8.2-.8-.1-1 0-.9.1-.9.4-.8.9-.8-.3-.8.2-.8-.1-1 .8-.8.7-.9 0-1-1.8-1.2.3-1 .1-1 .5-1 1.5-.8-1.2-1.2.3-.9 0-1-.9-1 .6-.8.4-.7 0-.7.4-.6.1-.6.2-.4-.6-.7 1.5.4-.3-.3.6-.3.1.7.4.8.8.9-1.3 1.4.8 1.1-.7 1.3-.1 1.2 1.8.8 0 .8-.7 1.1.8.4.3.6.1.6-.3.8 1.2.5-.6 1.3-.4 1.5 1 .4 0 .6-.4.7-.3.7.1.7.3.7-.6.8 1.4.7-1.3.9.7.8.6.8.7.8-1.7 1 .8.9-.1.9-.5.9 1.2.8-.6 1 0 .9-.4 1 .8.8-.8 1 1.5.8-.2.9.4.7.3.8-1.5 1 .9.7.3.8-.1.8.1.9 1.1.7-.5 1-.4.9 1 .7-.5 1 .2.8.4.8.3.9-.3.9-.4.9-.1.9 1.3.7-.9.9-.1.8 1.4.7-.1.8-1 .9-.1.7.2.8-.5.7.6.7-.2 1 .9.9.1 1 .7.9-.4 1 .4.9.2.9-.5 1 .2.8.6.7-.2.9.1.7.1.8.7.6-.5.8.6.5-.2.7.5.5-.5 1.5 1.5.6-.3 1.2.9.4-.2.9.9 0-.2.7 0 .7"/></defs>
<use href="#g4" fill="#e1f4e7"/>
<use href="#b4" fill="#c8d0f4" fill-opacity="0.55"/>
<use href="#g4" fill="none" stroke="#36b262" stroke-width="1.05" stroke-linejoin="round"/>
<use href="#b4" fill="none" stroke="#2a4ef2" stroke-width="1.1" stroke-linejoin="round"/>
<path d="M414.70,587.20 L414.70,496.40 L505.90,496.40 L505.90,587.20 Z" fill="none" stroke="#4a4a4a" stroke-width="0.9"/>
<rect x="506.50" y="492.20" width="0.90" height="3.00" fill="#222" stroke="none" stroke-width="1"/>
<text x="459.70" y="494.20" font-size="4.8" text-anchor="middle" fill="#333" textLength="39.00" lengthAdjust="spacingAndGlyphs"><tspan fill="#333">Sample37 / E9 / P10</tspan></text>
<text x="411.30" y="587.20" font-size="4.8" text-anchor="middle" fill="#4a4a4a" transform="rotate(-90 411.30 587.20)">0</text>
<text x="411.30" y="570.31" font-size="4.8" text-anchor="middle" fill="#4a4a4a" transform="rotate(-90 411.30 570.31)">40</text>
<text x="411.30" y="553.42" font-size="4.8" text-anchor="middle" fill="#4a4a4a" transform="rotate(-90 411.30 553.42)">80</text>
<text x="411.30" y="536.53" font-size="4.8" text-anchor="middle" fill="#4a4a4a" transform="rotate(-90 411.30 536.53)">120</text>
<text x="411.30" y="519.64" font-size="4.8" text-anchor="middle" fill="#4a4a4a" transform="rotate(-90 411.30 519.64)">160</text>
<text x="411.30" y="496.40" font-size="4.8" text-anchor="middle" fill="#4a4a4a" transform="rotate(-90 411.30 496.40)">215</text>
<text x="403.70" y="542.25" font-size="4.8" text-anchor="middle" fill="#4a4a4a" transform="rotate(-90 403.70 542.25)">Count</text>
<text x="414.70" y="595.00" font-size="5.2" text-anchor="middle" fill="#3a3a3a">-10<tspan font-size="3.8" dy="-1.9">1</tspan></text>
<text x="438.41" y="595.00" font-size="5.2" text-anchor="middle" fill="#3a3a3a">10<tspan font-size="3.8" dy="-1.9">2</tspan></text>
<text x="456.65" y="595.00" font-size="5.2" text-anchor="middle" fill="#3a3a3a">10<tspan font-size="3.8" dy="-1.9">3</tspan></text>
<text x="473.98" y="595.00" font-size="5.2" text-anchor="middle" fill="#3a3a3a">10<tspan font-size="3.8" dy="-1.9">4</tspan></text>
<text x="491.31" y="595.00" font-size="5.2" text-anchor="middle" fill="#3a3a3a">10<tspan font-size="3.8" dy="-1.9">5</tspan></text>
<text x="504.53" y="595.00" font-size="5.2" text-anchor="middle" fill="#3a3a3a">10<tspan font-size="3.8" dy="-1.9">5.1</tspan></text>
<defs><path id="g5" d="M566 587.2l0-.3.4-.2.6-.1.7-.3.8.2.9-.4.9-.1.9-.3 1 .1 1-.5.9-.1 1-.1.8-.4.7-.2.7-.1 1.1-.3 1-.1.9-.2.8-.3.9 0 .6-.5.5-.7 1.1 0-.2-1.1 1.2.2-.5-1.2.3-.5.5-.6.8-.5-.4-1 .9-.7.4-1-.4-1.3.4-.6.5-.5 0-.7-.2-.8-.3-.9.6-.6.1-.8.6-.8.1-.8-.1-.9 0-.9.4-.8.5-.8.3-.9.1-.9.4-.9.2-.9-.5-1 .9-.8-.9-1.1.8-.6-.1-.8-.6-.9 1.5-.5.4-.8-.3-.8-1.1-1-.3-.8 1.5-.6-.1-.9-.3-.8 0-.9-.3-.8.9-.8-.9-.9.4-.8.6-.8.8-.8-.1-.8.2-.9.2-.8-.1-.9-.5-.9.5-.8 0-.8-.2-.8.3-.8.1-.9-.5-.9.1-.8.7-.8.4-.9.2-.8.3-.9-.3-.9 0-.9-.2-.9-.2-.9-.7-1 1.3-.7.5-.8-.2-.8 1-.7-.1-.9-.2-.8-.4-.8.9-.6 0-.7-1.1-.9.8-.5.5-1.1-.8-1.2 1.3-1-.9-1.1.5-1-.4-1 .3-.9.1-.9.7-.7-.8-.9.5-.6.1-.5-.3-.6.4-.3-.6-.7.8-.4.4.7.8.5 0 1.1 0 1.3.5 1.3.3 1.4.3.6-.5.8.4.6 1.1.5-1.3 1-.1.8.5.7-.1.9 1 .7-.9 1 .6.8.4.9-.4 1 .5.8.6.8-.2 1-.1.9.5.9-.2.8.5.7.6.7-1.2.9.4.7 0 .8 1.1.7-.7.8-.5.9.8.7.4.8-1.4.9 1 .7-.2.9.4.8-.6.9.6.8.5.9-.1.9-.1.9-.7 1 .9.8.1.7-.5.9.1.7.8.7-.2.9-.2.8.6.8-.5.9.3.8.9.8-.9 1 .5.8.3.8.8.8-1 1 1.2.7-.9 1-.5.9 1.2.7-.2.9.1.8-.5.9.5.7.3.8-.6.9 1.3.6-.5.8.9.6-.6 1-.2 1.1.9.8-.4 1.1-.6 1 1.5.8-.7 1 .3.9-.8 1 1 .7.3.8-.6 1 .7.7.3.7-.3.8.7.6-.7.8.2.6.5.5.3.5.2 1.7.2 1.2.5.6.7.2.2.3 0 .4"/><path id="b5" d="M527 587.2l0-.8.5.2.5-.1.6.1.7-.4.7.2.8-.1.8-.4 1 .4.8-.5 1-.3.9.1 1-.1 1 0 .9.2 1-.3.9.4.9-.6.8.1.8-.2.7-.6.8.4.6 0 1.3 0 .9-.9 1.1.4.8-.1.6-.9.8.1.8 0 .2-1.3 1 .4.3-1.2 1.1.4 1 0 .3-1.1.9-.1.1-1.3.9-.2.7-.4 1-.1.3-.9.9-.2.3-.9.3-.8.8-.3.6-.6.2-.8 1-.3-.3-1.2 1-.4.7-.6-.2-1.1.6-.5.4-.8-.4-1.1 2 .1-.7-1.3.8-.5-1.7-1.7 2.6.2-.6-1.2 0-.9.8-.5.9-.5-1.2-1.4 1.8-.2-1-1.3 1.7-.2-.1-.9.8-.6.1-.8-.7-1.1.6-.6.8-.5-.3-.9.5-.9-.3-1.2 1.3-.9 1.4-.8-.6-1.1-.2-.9-.5-1 .8 0-.1.7.9 0 0 1 .9.8.4 1-.1 1.1.7.5.5.6 0 .7.6.5 1.5 1.3-1.5 1-.4.6.9.6.5.6.5.8 0 .8-.3.9-.5 1 .6.8.3.9.6.9-.6 1 .7.9-1.4 1.1.9.7.4.9-1 .9.2.8 1.1.8 1 .7-1.3 1.2 1.1.8-.5 1 1.2.7-.2.9 0 .9.5.8.2.8-.8 1 .8.6-.5.8.4.6.4.5.3 1.3.7.9.4.7.4.7.3.4.5.3 0 .9"/></defs>
<use href="#g5" fill="#e1f4e7"/>
<use href="#b5" fill="#c8d0f4" fill-opacity="0.55"/>
<use href="#g5" fill="none" stroke="#36b262" stroke-width="1.05" stroke-linejoin="round"/>
<use href="#b5" fill="none" stroke="#2a4ef2" stroke-width="1.1" stroke-linejoin="round"/>
<path d="M527.00,587.20 L527.00,496.40 L618.20,496.40 L618.20,587.20 Z" fill="none" stroke="#4a4a4a" stroke-width="0.9"/>
<rect x="618.80" y="492.20" width="0.90" height="3.00" fill="#222" stroke="none" stroke-width="1"/>
<text x="572.00" y="494.20" font-size="4.8" text-anchor="middle" fill="#333" textLength="39.00" lengthAdjust="spacingAndGlyphs"><tspan fill="#333">Sample49 / E9 / P10</tspan></text>
<text x="523.60" y="587.20" font-size="4.8" text-anchor="middle" fill="#4a4a4a" transform="rotate(-90 523.60 587.20)">0</text>
<text x="523.60" y="569.68" font-size="4.8" text-anchor="middle" fill="#4a4a4a" transform="rotate(-90 523.60 569.68)">80</text>
<text x="523.60" y="552.15" font-size="4.8" text-anchor="middle" fill="#4a4a4a" transform="rotate(-90 523.60 552.15)">160</text>
<text x="523.60" y="534.54" font-size="4.8" text-anchor="middle" fill="#4a4a4a" transform="rotate(-90 523.60 534.54)">240</text>
<text x="523.60" y="517.01" font-size="4.8" text-anchor="middle" fill="#4a4a4a" transform="rotate(-90 523.60 517.01)">320</text>
<text x="523.60" y="496.40" font-size="4.8" text-anchor="middle" fill="#4a4a4a" transform="rotate(-90 523.60 496.40)">414</text>
<text x="516.00" y="542.25" font-size="4.8" text-anchor="middle" fill="#4a4a4a" transform="rotate(-90 516.00 542.25)">Count</text>
<text x="527.00" y="595.00" font-size="5.2" text-anchor="middle" fill="#3a3a3a">-10<tspan font-size="3.8" dy="-1.9">1</tspan></text>
<text x="550.71" y="595.00" font-size="5.2" text-anchor="middle" fill="#3a3a3a">10<tspan font-size="3.8" dy="-1.9">2</tspan></text>
<text x="568.95" y="595.00" font-size="5.2" text-anchor="middle" fill="#3a3a3a">10<tspan font-size="3.8" dy="-1.9">3</tspan></text>
<text x="586.28" y="595.00" font-size="5.2" text-anchor="middle" fill="#3a3a3a">10<tspan font-size="3.8" dy="-1.9">4</tspan></text>
<text x="603.61" y="595.00" font-size="5.2" text-anchor="middle" fill="#3a3a3a">10<tspan font-size="3.8" dy="-1.9">5</tspan></text>
<text x="616.83" y="595.00" font-size="5.2" text-anchor="middle" fill="#3a3a3a">10<tspan font-size="3.8" dy="-1.9">5.1</tspan></text>
<defs><path id="g6" d="M699.1 587.2l0-.3.4-.4.7-.1.7-.5.6-.7 1.1-.1.5-.9 1-.5.5-.5.5-.5 0-.9.1-.7.6-.7.3-.8-.6-1.1.8-.7.1-1.1 1-.8 0-1.2.2-.6.4-.6-.1-.8-.7-.8.4-.6.7-.7-.3-.8 0-.8.8-.7 0-.8-.3-.9.1-.8.7-.8-.5-1-.1-.9.8-.8.4-.9-1-1.1.4-1 .7-.9-.2-.8.4-.6 0-.8.9-.7-1.8-1 1.1-.6-.5-.9-.4-.9.5-.8.3-.8.7-.8-.4-1-.2-.9 0-.8.6-.9.3-.8-.7-1 .7-.8 0-.9-.1-.9.1-.8.1-.9-.1-.8 0-.8.4-.8 0-.8 0-.8-.3-.7 1-.7-.4-.7 1.6-.9-.1-1-1.2-1 1.2-.9-1.4-1-.2-.9.5-.8.3-.8.3-.8.8-.8-1.2-.9.5-.7.5-.7-.3-.8.7-.7-.2-.7.4-.7-.2-.8-.3-.7.1-.7-.5-1.1.7-.9.1-1-.1-1.1.1-1 .1-1 .8-.9-.5-1 .3-.9.2-.8-.8-.8.6-.5.2-.5-.9-.8 1.3.3.1-.6.2.5-.2.6.7.5.3.9-.1 1.1-.2 1.3 1.1 1.3.2 1.5-.4.6.2.6-.6.7.6.6 0 .7.2.7.6.7-.9.8.3.8.1.8.4.8-.8.9 0 .9.2.8.5.9.5.9-.1.9.3.9-.3.9-.9 1 1.3.8-.9 1 1 .8-.4.9.9.9-.7.9.7.7-.6.8.3.8-.4.8-.2.9.9.7-.3.9.4.7.1.9-.2.8.5.8-.6.9.6.8-.5.9.6.8-.1.9.4.8.3.8-.4.9-.3.8 1 .8-.2.8 0 .9.3.8-.2.8-.5.9.2.7 2.1.6-1 .9-.5.8.3.9-.6 1 .8.8-.4 1 .5.8.7.9-.7 1 .2.9-.3.9.7.9-.4.9.9.8-.3.9-.3.9.6.8-.1.9-.3.9.1.8.5.7.2.7-.2.8.4.6 0 .7-.2.7 1.1.4-.5.6.2 1.5.1 1.2.3 1 .2.8.2.8.6.4.6.2 0 .5-.2.5 0 .8"/><path id="b6" d="M638.8 587.2l0-1.1.5.3.5 0 .6-.3.7-.1.8.4.7-.5.9.1.9-.3.9.3 1-.1.9.1 1-.1.9-.6 1 0 1-.1.9-.1.9.1.9-.1.8-.3.7-.1.8.8.5-1.1 1.4.8.9-1.1.9-.2.9.1.8-.2.7-.1.6-.3.7-.2.7 0 .8-.1.7-.5.9-.2.6-.7 1.2.2-.3-2.1 1.2.3.8-.3.6-.6.7-.3.7-.6 1.1-.2.1-1.1.7-.6.2-.9 1-.2.4-.9.8-.4.1-.9.7-.5-.1-.9-.1-.9.6-.7.3-.7 1.1-.5-.3-1 .6-.6.6-.6.2-.8-.1-1 .7-.6-.9-1.4 1.8.1-.4-1.1-.1-1 1.6-.1-.2-.9-.3-1.1 1.6-.4.7-.8-.3-1.2.1-1 1-.5.9-.2-.9-1.4.7-.1.7 0 .2.8.4.9.2 1.1.8 1 0 1.4-.6.9 2 .1-.4.9.1.8.3.8.2.9.2.8-.2 1 .6.8 0 .9.2.9-.2 1 1.8.4-1.3 1.2 1.2.6-.2.9-.1 1 .7.8-.7 1 .3.9-.2.9.2.8 1.2.6-1.3 1.1 1 .5 0 .7.9.9.3 1-.3 1.1.5.7.8.5-.3 1 .4.5.7.1.8.7.7.5.7.1 0 .5"/></defs>
<use href="#g6" fill="#e1f4e7"/>
<use href="#b6" fill="#c8d0f4" fill-opacity="0.55"/>
<use href="#g6" fill="none" stroke="#36b262" stroke-width="1.05" stroke-linejoin="round"/>
<use href="#b6" fill="none" stroke="#2a4ef2" stroke-width="1.1" stroke-linejoin="round"/>
<path d="M638.80,587.20 L638.80,496.40 L730.00,496.40 L730.00,587.20 Z" fill="none" stroke="#4a4a4a" stroke-width="0.9"/>
<rect x="730.60" y="492.20" width="0.90" height="3.00" fill="#222" stroke="none" stroke-width="1"/>
<text x="683.80" y="494.20" font-size="4.8" text-anchor="middle" fill="#333" textLength="39.00" lengthAdjust="spacingAndGlyphs"><tspan fill="#333">Sample61 / E9 / P10</tspan></text>
<text x="635.40" y="587.20" font-size="4.8" text-anchor="middle" fill="#4a4a4a" transform="rotate(-90 635.40 587.20)">0</text>
<text x="635.40" y="568.40" font-size="4.8" text-anchor="middle" fill="#4a4a4a" transform="rotate(-90 635.40 568.40)">100</text>
<text x="635.40" y="549.70" font-size="4.8" text-anchor="middle" fill="#4a4a4a" transform="rotate(-90 635.40 549.70)">200</text>
<text x="635.40" y="530.90" font-size="4.8" text-anchor="middle" fill="#4a4a4a" transform="rotate(-90 635.40 530.90)">300</text>
<text x="635.40" y="512.20" font-size="4.8" text-anchor="middle" fill="#4a4a4a" transform="rotate(-90 635.40 512.20)">400</text>
<text x="635.40" y="496.40" font-size="4.8" text-anchor="middle" fill="#4a4a4a" transform="rotate(-90 635.40 496.40)">484</text>
<text x="627.80" y="542.25" font-size="4.8" text-anchor="middle" fill="#4a4a4a" transform="rotate(-90 627.80 542.25)">Count</text>
<text x="638.80" y="595.00" font-size="5.2" text-anchor="middle" fill="#3a3a3a">-10<tspan font-size="3.8" dy="-1.9">1</tspan></text>
<text x="663.42" y="595.00" font-size="5.2" text-anchor="middle" fill="#3a3a3a">10<tspan font-size="3.8" dy="-1.9">2</tspan></text>
<text x="681.66" y="595.00" font-size="5.2" text-anchor="middle" fill="#3a3a3a">10<tspan font-size="3.8" dy="-1.9">3</tspan></text>
<text x="698.99" y="595.00" font-size="5.2" text-anchor="middle" fill="#3a3a3a">10<tspan font-size="3.8" dy="-1.9">4</tspan></text>
<text x="716.32" y="595.00" font-size="5.2" text-anchor="middle" fill="#3a3a3a">10<tspan font-size="3.8" dy="-1.9">5</tspan></text>
<text x="728.63" y="595.00" font-size="5.2" text-anchor="middle" fill="#3a3a3a">10<tspan font-size="3.8" dy="-1.9">5.6</tspan></text>
<defs><path id="g7" d="M117.9 692.7l0-.2.5-.1.6 0 .7-.3.8-.2.9 0 .9-.1 1-.4.9-.2.8 0 .9.1.8-.3.9-.2 1 .1.8-.4.8-.3.9 0 .7-.5.8.2.8-.2.9.2.7.4.7.2.6.6.9.1 1.1.3.6.1.8-.4.9.1.9.3.9 0 1 .1.9-.3.9-.5.9.3.8 0 .6-.7.6-.2.6-.7.8-.3.3-.6 0-.7.6-.9 0-1.1.7-1.3-.3-.7-.8-.7.9-.5.3-.6-.3-.8.3-.7-.5-.8.7-.7-.1-.8-1.1-.9 1.6-.7.1-.9-.1-.9-.3-.9.7-.9-.1-.9-.2-1 .3-1-.4-1 .6-1-.3-.7 1.3-.6-.2-.8-.1-.7-.5-.9.2-.7.4-.8-.7-.9.9-.8-.8-.9-.3-.9 1.4-.7 0-.9-.5-.9.7-.8-.3-.9-.9-1 .3-.8.5-.8.7-.9.3-.8-1.3-1 .2-.8 1.2-.7-.8-.9.1-.8.7-.8-.3-.8.3-.7.1-.8-.9-1 .9-.8.2-.9-1.1-1 1.2-.8-.2-.9-.5-.9.7-.8-.1-.9-.5-.8.3-.9.9-.8-.5-.8-.4-.8 0-.8.8-.8-.3-.8-.2-.7.1-.8.2-.7 0-.7.6-.7-.4-.7-.3-.7-.4-1.1.6-1.1.6-1.1.5-1.1-.7-1.1-.3-1.2.3-1 .4-1 .1-1-.7-.9 1-.6.4-.6-.3-.6-.3-.4.3 0 0-.3.1.2-.8.5.8.3.1.5.5.6-1.1.8 1.3.7-.3.9-.1.9.7 1 .6.9-1.2 1.1-.6 1.1.1 1.1.2 1 1.2 1-.4 1 .4.9-.1 1 .1.8.2.8-.2.8-1.1.8.5.8 0 .7.8.7-.2.8.2.7-.5.8.1.8 0 .7-.1.8.9.8.4.8-.3.8.6.9-.7.9.3.9.4 1-.5 1 .7.6-.8.8.1.7.5.8-.5.8.4.8.4.8-.2.8.4.8-1.1.9.7.8 0 .9-1.3.9 1.7.8-1 1 .7.8-.4.9 1.1.8.2.9-1.8 1 1.5.7.4.9-.7.9 0 .8.6.8-.5.8.5.7 0 .8-.5.8-.5.7 0 1 1.4.9-.4 1 .1.9.3.9-.8 1 .2.9.4.9-.2.9.8.8-.4.9-.4.9.8.7-.8.9 1 .7.1.7.2.7-.8.8 0 .7.3.6 0 .6-.1.6 1 1.2 0 1.3.9.7.4.7 0 .8.4.5.4.3.2.4 0 .5"/><path id="b7" d="M80.6 692.7l0-4.9-.7.6-.6.9.8 1.1 0 1.1 1.5-.3.1.8.6.2.7.1.7-.1.9.3.8-.3.9-.4 1 .5.9-.3.9-.3 1 .2.9-.1.8.1.8-.4.9-.2.9-.1.9-.1.8-.5 1 .6.6-1.2.9-.1.8-.3.9 0 .8-.2.6-.5.6-.6 1-.1.9-.3.6-.6 1 0 .7-.5.6-.6.5-.6 1-.2 0-1.2.9-.2.7-.4.1-1 1-.2.4-.7.4-.7.9-.4-.5-1.4.9-.4 1-.4.2-.8-.5-1.2.4-.7.6-.7-.2-1.1 1.6-.1.1-.9-.4-1.2 1.2-.3-.4-1.1.9-.4.2-1 .9-.9 1-.8-1.8-1.7.7-.7.9-.6.7-.2-.1-.1.2-.2-.1 1 1.2.7-.3 1.4.7 1 .9.2.5-.1 1-.1 1.5-.3-.6 1.3 1.6.2-1.3 1.1.7.7-.6 1 .8.8.3.9-.2 1 .4.9-.8 1.2.7.6-.1.9.4.8 1 .7 0 1-.9 1.1 1.3.6.2.9 0 .9.4.7-.2.8-.1.7.5 1.2.8.7.4.7.4.7.9.4.6.5.5.9 1.1.1 1 .1 1 .1.8.6.8-.1.3.5"/></defs>
<use href="#g7" fill="#e1f4e7"/>
<use href="#b7" fill="#c8d0f4" fill-opacity="0.55"/>
<use href="#g7" fill="none" stroke="#36b262" stroke-width="1.05" stroke-linejoin="round"/>
<use href="#b7" fill="none" stroke="#2a4ef2" stroke-width="1.1" stroke-linejoin="round"/>
<path d="M80.40,692.70 L80.40,602.30 L171.40,602.30 L171.40,692.70 Z" fill="none" stroke="#4a4a4a" stroke-width="0.9"/>
<rect x="172.00" y="598.10" width="0.90" height="3.00" fill="#222" stroke="none" stroke-width="1"/>
<text x="125.30" y="600.10" font-size="4.8" text-anchor="middle" fill="#333" textLength="64.00" lengthAdjust="spacingAndGlyphs"><tspan fill="#333">APC CD56-PE-B2M /</tspan><tspan fill="#e8323c">E1</tspan><tspan fill="#333"> / </tspan><tspan fill="#e8323c">E8</tspan><tspan fill="#333"> /</tspan><tspan fill="#2ea24a">P2</tspan></text>
<text x="77.00" y="692.70" font-size="4.8" text-anchor="middle" fill="#4a4a4a" transform="rotate(-90 77.00 692.70)">0</text>
<text x="77.00" y="673.08" font-size="4.8" text-anchor="middle" fill="#4a4a4a" transform="rotate(-90 77.00 673.08)">60</text>
<text x="77.00" y="653.38" font-size="4.8" text-anchor="middle" fill="#4a4a4a" transform="rotate(-90 77.00 653.38)">120</text>
<text x="77.00" y="633.76" font-size="4.8" text-anchor="middle" fill="#4a4a4a" transform="rotate(-90 77.00 633.76)">180</text>
<text x="77.00" y="614.05" font-size="4.8" text-anchor="middle" fill="#4a4a4a" transform="rotate(-90 77.00 614.05)">240</text>
<text x="77.00" y="602.30" font-size="4.8" text-anchor="middle" fill="#4a4a4a" transform="rotate(-90 77.00 602.30)">276</text>
<text x="69.40" y="647.95" font-size="4.8" text-anchor="middle" fill="#4a4a4a" transform="rotate(-90 69.40 647.95)">Count</text>
<text x="80.40" y="700.50" font-size="5.2" text-anchor="middle" fill="#3a3a3a">-10<tspan font-size="3.8" dy="-1.9">2</tspan></text>
<text x="92.23" y="700.50" font-size="5.2" text-anchor="middle" fill="#3a3a3a">10<tspan font-size="3.8" dy="-1.9">2</tspan></text>
<text x="114.07" y="700.50" font-size="5.2" text-anchor="middle" fill="#3a3a3a">10<tspan font-size="3.8" dy="-1.9">3</tspan></text>
<text x="130.45" y="700.50" font-size="5.2" text-anchor="middle" fill="#3a3a3a">10<tspan font-size="3.8" dy="-1.9">4</tspan></text>
<text x="145.92" y="700.50" font-size="5.2" text-anchor="middle" fill="#3a3a3a">10<tspan font-size="3.8" dy="-1.9">5</tspan></text>
<text x="169.58" y="700.50" font-size="5.2" text-anchor="middle" fill="#3a3a3a">10<tspan font-size="3.8" dy="-1.9">6.1</tspan></text>
<text x="123.90" y="708.70" font-size="4.8" text-anchor="middle" fill="#4a4a4a">APC-A</text>
<defs><path id="g8" d="M192.1 692.7l0-3.1.5.1.5-.9.6.7.7.2.8-.5.8.4.9-.1.9.4 1-.3.9.1 1 0 .9 0 1 .5.9-.3.9-.1.9-.2.8.2.7-.5.8.2.9-.2.9-.2.8-.4.9 0 .6-.7.8-.1.8-.3.5-.6.7-.4 1 0 .8-.5.2-1.1 1.1-.2.3-.7 1.2.1-.5-1.3.6-.5.8-.4.4-.7.3-.8 1.4-.1-.1-1 .3-.8 0-1 1.4-.2-.3-1.1-.4-1.2.4-.8.8-.6 1.4-.2-.2-1.1-.5-1.1.6-.6 0-.8-.1-.9 1.5-.2.4-.7.1-.8-.3-.9.9-.6 0-.8 0-.8 0-.9.8-.6-.4-1 1-.5-.4-1-.2-.9.4-.8.6-.7 1-.6-.6-1.1.1-.8.1-.8-.2-.9 1.1-.6-.1-.8.4-.8-.5-1 .5-.8.5-.8-1.1-1 .9-.8.4-.8-.2-.9.9-.8-.4-.9.7-.8-.5-.9-.1-.9 0-.9-.3-.8.3-.8.2-.8.5-.6.4-.7.1-.7-.2-1.1 1.1-.9-.9-1.3.2-1.1.9-.9-.2-1.1.5-1 0-1-.1-.9.7-.8 1-.5-1.3-1.1 1-.3-.8-.8.3-.3.7.4.4-.9-.1.7-.3.7-.4.7 1.1.6.5.9-.4 1.2 1 1-1 1.3.6 1 .1 1.2.1 1 .1.7.2.7.4.7-.5.8.1.7-.2.8 1.8.5-1.4 1.1 1.5.5-1 1 1.6.6.1.9-.9 1 0 .9.3.9-.2 1 .8.8.6 1-.5.8.2.7-.2.8.1.8.5.7-.6.9.9.8 1 .8-1 .9.4.9-1 1 .5.8-.5 1 1.1.8-1 1 1.8.7-1.1 1 .2.8.4.8.7.8-1.6 1 1.3.6-.1.8.1.7-.3.8 1 .5-.7 1.2.6 1.1.3 1-.4 1.1.4.9-.1 1 .6.8-.1.9 1 .6 0 .8-1.2 1 .5.6 1.3.2-1 .9.8.1.4 1.7 1.1-1.1.9-.7.8-.6.7-.2.7.8 1-.3.8.3.8.3.8.6.8-.6.9.2.8-.6.9-.4.6 1.3 1.3-1.2.4 1.4.9.2.6.8 1.1.2.9.3.6.5.5.8 1-.1.8.2.6.7.5.7.7.5.3 1 1.2.1.5.9.9.5.1 1.2.8.6.5.7.7.2.9.9 1-.1.8 0 .5 0 0 .6"/><path id="b8" d="M192.3 692.7l0-4.4.2.5.7.1.6.6.6.6.9.2 1 .2.6.9 1-.2.8.3.8.3.8.2.7-.3.8-.1.9-.2.7-.5.7-.6 1.1 0 1.1 0 .3-1.4 1-.2.5-.6.6-.6 1.1.6.6-.7 1 .2.4-1 1 0 .1-1.6 1 .1.8-.2.3-1.1 1 0 1-.1.7-.4-.1-1.3.9-.2.3-.8 1.2-.1.2-.9.2-.9.9-.4.5-.6-1-1.6 1.5-.2.6-.6.3-.9.5-.7.1-1-.1-.8.9-.4.2-.8.1-.8.5-.6.7-.6-.4-1.1.7-.5.9-.6-.3-1 .2-.8.4-.7 1.3-.5-1.1-1.3.6-.7 1.3-.5-1.5-1.4.5-.7.6-.6.9-.6-.5-1 .1-.9-.8-1 .9-.7-.1-.9.4-.8 1.1-.7-.4-1-.6-.9.2-.9.6-.7.8-.8-1.6-1.1 1.1-.6 1.7-.5-1-1-.6-.9.7-.8 1-.7-1.3-1.1.6-.7 1.9-.4-1.4-1.1 0-.7-.3-.8.9-.6.2-.8.2-.8-.4-.9.3-.8-.1-.9.7-.8.8-.9-.6-.8.2-.8.4-.8-.4-.9-.6-1 1.5-.8-.4-1 .8-1-.8-1 .9-1-.8-1.1-.2-1-.4-1 1.6-.8-1.2-1.1.7-.8.3-.8-.1-.8 1.5-.5-2-.9-.2-.6.8-.4 1.1-.2.1 0-.8-1.4.9.5-.6 1 .7.8.1 1.1.6 1.2-.3 1.3-.2 1.3.6 1 .4.7-.3 1.1.2.7 1.1.1-.4.9.2.9-.9 1.5.7.5.4.5.6.6.7.6-.2.7-1.2 1 1.1.6.5.8-.9.9 1.2.8-1.1 1-.5.9 1.5.8-.3 1-.6 1 1.2.8.6.9-.8 1 .9.7-.6.8-.6.8.4.7.6.7-.4.8.7.7-.7.9.1.8.3.8.3.8-.3.8.5.8-.1.9.6.8-.5.9.4.8-1 .9 1.1.8.1.9-.8.9.1.9.9.8-.4.9.3.8-.4.8.5.8-.1.8.8.8-1.5 1 .9.8.1.9-.3.9-.1.9 1 .8-1.1 1 .9.8.7.9.4.9-1.2.9-.1.9.4.8.9.8-1.5.9 1 .7.2.8-.3.8.4.7-.5.7.4.7-.9.7.3.6 1.5 1.1-.9 1.3-.1 1.2 1.2.8 0 .9.2.8.3.7 0 .7-.2.8 1.3.1-.8.9.5.4.8 1.3 1.1-.5.6.3 0 .5"/></defs>
<use href="#g8" fill="#e1f4e7"/>
<use href="#b8" fill="#c8d0f4" fill-opacity="0.55"/>
<use href="#b8" fill="none" stroke="#2a4ef2" stroke-width="1.1" stroke-linejoin="round"/>
<use href="#g8" fill="none" stroke="#36b262" stroke-width="1.05" stroke-linejoin="round"/>
<path d="M192.10,692.70 L192.10,602.30 L283.10,602.30 L283.10,692.70 Z" fill="none" stroke="#4a4a4a" stroke-width="0.9"/>
<rect x="283.70" y="598.10" width="0.90" height="3.00" fill="#222" stroke="none" stroke-width="1"/>
<text x="237.00" y="600.10" font-size="4.8" text-anchor="middle" fill="#333" textLength="39.00" lengthAdjust="spacingAndGlyphs"><tspan fill="#333">Sample33 / E9 / P10</tspan></text>
<text x="188.70" y="692.70" font-size="4.8" text-anchor="middle" fill="#4a4a4a" transform="rotate(-90 188.70 692.70)">0</text>
<text x="188.70" y="676.07" font-size="4.8" text-anchor="middle" fill="#4a4a4a" transform="rotate(-90 188.70 676.07)">40</text>
<text x="188.70" y="659.34" font-size="4.8" text-anchor="middle" fill="#4a4a4a" transform="rotate(-90 188.70 659.34)">80</text>
<text x="188.70" y="642.71" font-size="4.8" text-anchor="middle" fill="#4a4a4a" transform="rotate(-90 188.70 642.71)">120</text>
<text x="188.70" y="626.08" font-size="4.8" text-anchor="middle" fill="#4a4a4a" transform="rotate(-90 188.70 626.08)">160</text>
<text x="188.70" y="602.30" font-size="4.8" text-anchor="middle" fill="#4a4a4a" transform="rotate(-90 188.70 602.30)">217</text>
<text x="181.10" y="647.95" font-size="4.8" text-anchor="middle" fill="#4a4a4a" transform="rotate(-90 181.10 647.95)">Count</text>
<text x="192.10" y="700.50" font-size="5.2" text-anchor="middle" fill="#3a3a3a">-10<tspan font-size="3.8" dy="-1.9">1</tspan></text>
<text x="215.76" y="700.50" font-size="5.2" text-anchor="middle" fill="#3a3a3a">10<tspan font-size="3.8" dy="-1.9">2</tspan></text>
<text x="233.50" y="700.50" font-size="5.2" text-anchor="middle" fill="#3a3a3a">10<tspan font-size="3.8" dy="-1.9">3</tspan></text>
<text x="250.34" y="700.50" font-size="5.2" text-anchor="middle" fill="#3a3a3a">10<tspan font-size="3.8" dy="-1.9">4</tspan></text>
<text x="266.72" y="700.50" font-size="5.2" text-anchor="middle" fill="#3a3a3a">10<tspan font-size="3.8" dy="-1.9">5</tspan></text>
<text x="281.74" y="700.50" font-size="5.2" text-anchor="middle" fill="#3a3a3a">10<tspan font-size="3.8" dy="-1.9">6</tspan></text>
<text x="235.60" y="708.70" font-size="4.8" text-anchor="middle" fill="#4a4a4a">PE-A</text>
<defs><path id="g9" d="M327.8 692.7l0-.5.5.2.6-.4.6 0 .8.1.7-.7 1 .2.8-.3 1 0 1-.1 1.1.3.8-1.1 1 .1 1 0 1 .3.8-.5.7-.5.7-.3.8.1.9-.3.7-.8.7-.4.5-.7 1 0 .4-.7 0-.9.6-.6.1-.9 1.1-.4.3-1 .3-.6.4-.6.7-.5-.6-1 .6-.5.4-.7 0-.8.7-.7-.5-1 .2-.8-.1-.9.1-.9.1-.9 2.1-.6-.7-1.1-1.1-1.1 1.2-.8-.7-1.2.9-.5-.1-.8-.8-.9.3-.7.7-.7.3-.8.7-.7-.8-.9.6-.8-.6-.9.5-.8.6-.8 0-.9.2-.8-1.3-1.1.8-.8 1.1-.7-.5-.9.5-.8.9-.8-.8-.9 0-.9-.2-.9-.1-.8 1.3-.7-.6-.9.6-.8-1.1-1 1.9-.6-1-1.1-.3-1 .8-.8.2-.9 0-.9-.2-.9.5-.9.3-.8-.2-1 .6-.8-.3-.9-.1-.9.8-.7-.3-.8 1.1-.6-.1-.8-1.6-1 .6-.6 1.5-.4-1.1-.9.3-.5 1-1.2.6-1-.1-.9-.3-.9 1.1-.2.6-.4-.1-.9-.7-1.1 1.2-.5 0-1 .1-1 .2-1 .6-1.1-1-1.2.8-.9-.5-1.1.5-.7.7-.4.4-.1-.6-.1 0-.1-.4.4.9.2-.2.6.6.6-.4.9.2.9.3.9.3 1-.5 1.1.6 1.1 0 1.1 0 1.1.7 1.1-.1.7.1.7-.1.7-.3.8.9.6-1.2 1 .9.7.1.8-.1.9.4.8-.6.9 1 .8-.5.9.8.8.6.8-.9 1 .8.8-.6.9-.2.9.3.9.5.7-.9 1 1 .7-.7.9 1.3.7.4.8-1.1 1 1.2.7-.5.9-.3.9.4.8.7.7-.5 1 .1.8.3.8.3.8-.1.8.3.8.3.8 0 .8-.8.9.6.8.2.7.5.8.1.7-.3.9.4.8 1 .7-1 1.1.5.8 0 .9-.6.9.4.9.6.8 0 .9.5.8-.1.8-.6 1 .2.7.3.8.2.8.1.8.2.7-.4.8 1.3.5.4.6.3 1-.3 1.1.4.9-.8 1.2 1.3.6.4.7.2.8-.3.9.6.6.4.7.3.6.2.7 0 1.2.9.5 0 1 .9.4.3.9 1 .1.5 1.1 1.1.2.7.1.6.2.9 0 .8 0 .9.1 1 0 .9.6 1-.3 1 0 1 .1.9-.2.9.3.9-.1.7-.1.7-.2.6.5.5-.2 0 .4"/><path id="b9" d="M304 692.7l0-3.1.6.1.7.2.7.2.6 1 1.2-.2.9.4 1 .1.9.5.9-.2.7 0 .8-.1.7-.6 1 .3.8-.2 1 0 .7-.7.8-.4.9 0 .8-.6.6-.4.9-.1.5-.9.9.3.8-.3 1 .5.6-.6.4-1.1 1 .2.6-.6.7-.4.9 0 0-1.2 1.4.4.1-.9.2-.9.8-.5.6-.5.5-.7.3-.8.3-.8.9-.4.6-.7 1.2-.3-1.3-1.7 1.2-.1.4-.7-.5-1.1 1.3-.3-.8-1.3.6-.6.4-.7 1.3-.4-.7-1.2.2-.8 1.8-.3-.1-.9-1.4-1.5 1.1-.5 0-.8.3-.8 1.3-.5-.1-.9.6-.7-.9-1.1-.6-1 1.4-.7.8-.7-1.3-1.2.7-.7.3-.8.3-.9 1.1-.6-1.4-1.1 1.4-.5.5-.6-.9-1 .3-.9.1-1 .2-.7.4-.7.6-.5.5-.5-.7-1.1 1-.5.8-.6-1.7-1.5 2.3-.5-.2-1.3.7-.5-.3-.8-1.4-1 1.1-.7 1.4-.7-.9-1 .3-1-1-1.1.2-1 .6-.9.6-1 .4-1 0-1 .3-1-1-1.1 0-1 .9-.8.1-.9.4-.7-.3-.9 1-.5-.8-.9 0-.5-1-.8.8-.2.9-.1.1-.3-.4.4.9.2-.8 1.1 1.7.9 1.2 1.1-1.8 1.6.5 1.2-.3 1.1.5.8-.4 1.1.7.5.4.3.5.5 1.2.7-.5 1.7-.3.6-.1.6 1.5.5-.4.7.1.6-.9.9.2.7.5.7-.7.9.9.7-.9 1 2.3.7-1.7 1 .4.9-.1.9 0 .9 0 1 .7.9.4.9.3.9-.3 1-.2 1 .3.7-.7.8-.6.8 1.2.7.6.8-.3.8.7.8-1.3 1 .3.8.3.9 1.2.8-.7.9.3.9-.8.9 1 .8-1.8 1.1 1.5.7-.2.9.6.9-.5.9.6.8-.2.8-.4.9.9.7.3.8-.5.8.3.7-.4.7 1.3.6-.8.7.8 1.1-.8 1.2.8.9.9.9-1 1.1.2 1 .3.8.8.8-.1.8-.3.9-.1.8.9.6-.1.7-.3.7-.2.7.2.5 0 .6 1.2 1.2.7.5.7.1.5-.1 0 .5"/></defs>
<use href="#g9" fill="#e1f4e7"/>
<use href="#b9" fill="#c8d0f4" fill-opacity="0.55"/>
<use href="#g9" fill="none" stroke="#36b262" stroke-width="1.05" stroke-linejoin="round"/>
<use href="#b9" fill="none" stroke="#2a4ef2" stroke-width="1.1" stroke-linejoin="round"/>
<path d="M304.10,692.70 L304.10,602.30 L395.10,602.30 L395.10,692.70 Z" fill="none" stroke="#4a4a4a" stroke-width="0.9"/>
<rect x="395.70" y="598.10" width="0.90" height="3.00" fill="#222" stroke="none" stroke-width="1"/>
<text x="349.00" y="600.10" font-size="4.8" text-anchor="middle" fill="#333" textLength="39.00" lengthAdjust="spacingAndGlyphs"><tspan fill="#333">Sample21 / E9 / P10</tspan></text>
<text x="300.70" y="692.70" font-size="4.8" text-anchor="middle" fill="#4a4a4a" transform="rotate(-90 300.70 692.70)">0</text>
<text x="300.70" y="674.26" font-size="4.8" text-anchor="middle" fill="#4a4a4a" transform="rotate(-90 300.70 674.26)">50</text>
<text x="300.70" y="655.82" font-size="4.8" text-anchor="middle" fill="#4a4a4a" transform="rotate(-90 300.70 655.82)">100</text>
<text x="300.70" y="637.38" font-size="4.8" text-anchor="middle" fill="#4a4a4a" transform="rotate(-90 300.70 637.38)">150</text>
<text x="300.70" y="618.93" font-size="4.8" text-anchor="middle" fill="#4a4a4a" transform="rotate(-90 300.70 618.93)">200</text>
<text x="300.70" y="602.30" font-size="4.8" text-anchor="middle" fill="#4a4a4a" transform="rotate(-90 300.70 602.30)">245</text>
<text x="293.10" y="647.95" font-size="4.8" text-anchor="middle" fill="#4a4a4a" transform="rotate(-90 293.10 647.95)">Count</text>
<text x="304.10" y="700.50" font-size="5.2" text-anchor="middle" fill="#3a3a3a">-10<tspan font-size="3.8" dy="-1.9">1</tspan></text>
<text x="327.76" y="700.50" font-size="5.2" text-anchor="middle" fill="#3a3a3a">10<tspan font-size="3.8" dy="-1.9">2</tspan></text>
<text x="345.50" y="700.50" font-size="5.2" text-anchor="middle" fill="#3a3a3a">10<tspan font-size="3.8" dy="-1.9">3</tspan></text>
<text x="362.34" y="700.50" font-size="5.2" text-anchor="middle" fill="#3a3a3a">10<tspan font-size="3.8" dy="-1.9">4</tspan></text>
<text x="378.72" y="700.50" font-size="5.2" text-anchor="middle" fill="#3a3a3a">10<tspan font-size="3.8" dy="-1.9">5</tspan></text>
<text x="393.74" y="700.50" font-size="5.2" text-anchor="middle" fill="#3a3a3a">10<tspan font-size="3.8" dy="-1.9">6</tspan></text>
<text x="347.60" y="708.70" font-size="4.8" text-anchor="middle" fill="#4a4a4a">PE-A</text>
<defs><path id="g10" d="M443.8 692.7l0-.2.5-.1.6-.1.7 0 .8-.5.9-.1.9-.3 1-.1 1 .2.9-.3.9-.4.9-.2.9.2.6-.6.6 0 1.2-.3.8-.2.4-.5.1-.8.6-.9.6-.3.8-.1.6-.5.9-.2.6-.5.8-.5.2-1.1.7-.6.9-.2.7-.4.2-1 1.2 0-.5-1.5 1.1-.3.2-.9 1-.3.5-.7.1-.8.7-.5.7-.3-.2-1.3.4-.6.3-.5.6-.5 0-1 .1-1.6 1.2-.2-.8-.8-.3-.8 1.4-.4-.7-.9.9-.7.4-.7-.9-1 .1-.9 1.2-.7-1.2-1.1.4-.8.3-.9.1-.9 1-.8-.5-1-.6-1 1.6-.7-.2-.9-.3-.8 1-.7-.3-.9.1-.9-.5-.9.4-.8.8-.7-.3-.9-.3-.9-.3-1 .9-.7 0-.8.5-.8 0-.9.2-.8-.3-.8.3-.8-.3-.8.5-.8.1-.7.2-.8-.4-.9.7-.8-.1-.9-.3-.9.7-.7.4-.8-.4-.9 1.1-.6-.4-.9.5-.7 0-.8-1-1 .1-.8 1.2-.6-.2-.9.1-.8.6-.8.1-.8.1-.9-.4-1 1.2-.8-1.5-1.2 1.6-.8-.6-1.1.8-.8-.2-1 .2-.9.7-.8-.8-.9-.5-.9.7-.5-.6-.8.9-.3.1-.4.8-.3.6.3-.1 1.5 1.2 1.7-.7.7.4.5-.4.7-.5.7.8.6 0 .8.9.6 0 .9-1 1 1.7.7-.5 1-.2 1.1-.1 1.1.8 1.1-.1.6-.2.7-.3.8.7.6.2.7-.6.9.2.7.8.8-.3.8.3.8 0 .9.9.7-.7 1 .2.8.6.8-.4 1 .5.8 0 .9-.1.9-1 1 .6.8 1 .7-.9 1 .8.8-.7.9.4.8-.2.8.3.8.7.8.1.8-.2.9 0 .8-.3.9-.4.9 1 .7-.7 1 .8.7 0 .9.8.7-.4.9-.1.9.5.8.3.7-.3.9-.4.9.2.8.8.7-.6.9.6.7.2.7-.7.9.5.7.2.9.2.9 1.5.7-1.7 1.2-.1.9 1.9.7.1.9-.8 1-.6 1 .4.9 0 .8.7.8.2.8-.5.9.9.7-1 1 .4.7.4.6.4.6-.7.8.7.5.6.4.1 1.4.7 1-.2 1.2.9.4.2.7.4.5.2.5.7 0 0 1"/><path id="b10" d="M415.1 692.7l0-3.4.4.3.1 1 1.1-.1.8.3.6.8.9.4 1 .4 1.1-.1.7.3.7-.2.8.3.8-.6.8-.2.9.1.9-.4.8-.6 1 .2.8-.7.9.3.7-.7.9 0 .6-.5 1 .1 1 0 .9-.3.7-.7.7-.5 1 .4.6-.7.7-.4 1 .1.3-1 1.2.2.8-.4.4-.9.4-.8.8-.4 1.2 0 .2-1.1 1-.2.2-1 .6-.6.6-.6.5-.7.6-.5.7-.5.7-.5-.1-1.1.1-.9.5-.6.3-.7-.1-1 1.3-.2 0-.9 1.7-.1-.9-1.2-.2-.9 1.3-.5 0-.9.8-.7-.1-1.1 1.3-.8-1.2-1.1.6-.6-.1-.8.1-.8-.4-1 1.4-.5-1.1-1.2 1.3-.6.2-.9.2-.9-.9-1.1 1.5-.6-.7-1.1.8-.7-.2-.9 1.4-.5-1.2-1 .4-.7.6-.9-.7-1.2.8-.7.4-.8.5-.7 0-.9 1.4-.3.4-.7-.1-.9-.4-1 .6-.8 1-.6.1-.8-.4-1-.5-1.1 1.2-.7 0-1-.2-1.1.1-1-.5-1.1.1-.9.3-.8 1.1-.6.1-.7-.3-.7.4-.3.8.3.2-1.3.2 1 .8.9-1.5 1.7 1.6 1.1-.7 1.4.6.6.9.5-.5.8.4.6 0 .8.3.7-.1.9.2.9.9 1-.7 1.3.9.5.4.6-.4.7.3.7 0 .8.3.7-1 .9 0 .8.9.7-1 .9.9.8.4.8.2.9-.7 1 .4.8-.1 1-1.4 1 1.2.8.6.9.7.9-.3.8.2.7.1.8 1 .7-1.3 1 .8.8-1.7 1.1 1.4.7-.5 1 .4.9.7.8-.5 1 .5.8.1.9-.1.9 1.1.8-1.7 1.1.6.7.4.8-.7.9 1.4.6 1 .6-1.5.9.7.6-.3.7.3.6.1 1.4.6 1.1-.2 1.1-.1.9.4.8-.2.8.6.5.4.5.3.5.2.6.8.9.9.5.7.5.7.3.2.6 0 .4"/></defs>
<use href="#g10" fill="#e1f4e7"/>
<use href="#b10" fill="#c8d0f4" fill-opacity="0.55"/>
<use href="#g10" fill="none" stroke="#36b262" stroke-width="1.05" stroke-linejoin="round"/>
<use href="#b10" fill="none" stroke="#2a4ef2" stroke-width="1.1" stroke-linejoin="round"/>
<path d="M415.00,692.70 L415.00,602.30 L506.00,602.30 L506.00,692.70 Z" fill="none" stroke="#4a4a4a" stroke-width="0.9"/>
<rect x="506.60" y="598.10" width="0.90" height="3.00" fill="#222" stroke="none" stroke-width="1"/>
<text x="459.90" y="600.10" font-size="4.8" text-anchor="middle" fill="#333" textLength="39.00" lengthAdjust="spacingAndGlyphs"><tspan fill="#333">Sample45 / E9 / P10</tspan></text>
<text x="411.60" y="692.70" font-size="4.8" text-anchor="middle" fill="#4a4a4a" transform="rotate(-90 411.60 692.70)">0</text>
<text x="411.60" y="674.89" font-size="4.8" text-anchor="middle" fill="#4a4a4a" transform="rotate(-90 411.60 674.89)">50</text>
<text x="411.60" y="657.08" font-size="4.8" text-anchor="middle" fill="#4a4a4a" transform="rotate(-90 411.60 657.08)">100</text>
<text x="411.60" y="639.27" font-size="4.8" text-anchor="middle" fill="#4a4a4a" transform="rotate(-90 411.60 639.27)">150</text>
<text x="411.60" y="621.56" font-size="4.8" text-anchor="middle" fill="#4a4a4a" transform="rotate(-90 411.60 621.56)">200</text>
<text x="411.60" y="602.30" font-size="4.8" text-anchor="middle" fill="#4a4a4a" transform="rotate(-90 411.60 602.30)">254</text>
<text x="404.00" y="647.95" font-size="4.8" text-anchor="middle" fill="#4a4a4a" transform="rotate(-90 404.00 647.95)">Count</text>
<text x="415.00" y="700.50" font-size="5.2" text-anchor="middle" fill="#3a3a3a">-10<tspan font-size="3.8" dy="-1.9">1</tspan></text>
<text x="438.66" y="700.50" font-size="5.2" text-anchor="middle" fill="#3a3a3a">10<tspan font-size="3.8" dy="-1.9">2</tspan></text>
<text x="456.86" y="700.50" font-size="5.2" text-anchor="middle" fill="#3a3a3a">10<tspan font-size="3.8" dy="-1.9">3</tspan></text>
<text x="474.15" y="700.50" font-size="5.2" text-anchor="middle" fill="#3a3a3a">10<tspan font-size="3.8" dy="-1.9">4</tspan></text>
<text x="491.44" y="700.50" font-size="5.2" text-anchor="middle" fill="#3a3a3a">10<tspan font-size="3.8" dy="-1.9">5</tspan></text>
<text x="504.63" y="700.50" font-size="5.2" text-anchor="middle" fill="#3a3a3a">10<tspan font-size="3.8" dy="-1.9">5.1</tspan></text>
<text x="458.50" y="708.70" font-size="4.8" text-anchor="middle" fill="#4a4a4a">PE-A</text>
<defs><path id="g11" d="M560.5 692.7l0-.6.6.1.5-.3.8-.1.9.2.8-.6 1 .1.9-.2.9-.6 1 0 1-.1.6-.8.7-.5.8-.3.7-.6.8-.4.5-.8.3-.9.4-.9.9-.5.2-.9.5-.7 1.1-.4.2-.8 0-.9 1.2-.4.4-.8-.4-1.1 1.3-.3-.7-1.2 1-.4.1-.7 0-.9.2-.8 1.5-.1-.4-1.1.1-.8.2-.7.5-.6.5-.6.2-.8.5-.8-.1-1 0-.8 1.2-.4.5-.6-.8-1.1.6-.6.9-.6.5-.8-.3-1 .3-.9 1.1-.6-.1-1.1-.5-1.2.2-.7.3-.6.3-.8-.3-.8.7-.7-.2-.9.4-.8.6-.8-.1-.9-.3-.9-.3-1 1.1-.7-.4-.9 0-.9.6-.8-.7-.9.7-.7.3-.8-.1-.9-.4-1 .5-.7.5-.8-.3-.9 1-.7 0-.9-.7-.9.4-.8.7-.7.4-.8-.3-.8.3-.8.5-.7-.4-.9-.9-.9 1.7-.6-.2-1-.3-.9 1.2-.7-1-1 0-.8.3-.9.9-.7-1.3-1 .8-.7-.1-.8.9-.6-.7-.9 1.3-.4-.8-1.3.3-1.2-.3-1.3.6-1 1.1-.9.1-1-.1-1 1.2 0 .1 0 .3-.9-.1.6.4.4-.1.7-.2.8.7.8-.2 1-.5 1.1 1.1 1-.3 1.1-.3 1.1.3 1 .8.9-.6 1 .6.7.2.6-.1.6.8-1.4.9-1.4.2 1.4-.2.5 1 .4-1.1.7-.1.6.4.7.4.7.4.7-1.1.9-.5.8.4.8.4.9-.3.9.9.9.2.9-.3 1 .3.9-.4 1-.5 1 .5.9.3 1-1.1 1 .3.9.7.9.2.9.5.9-.3.8.2.7.4.8-.5.8.3.8-.2.9-.2.8-.2.9 2.2.7-1.3.9-.4.9 0 .9.2.8-.9 1 1.3.7-.3.9.5.8-1.4 1 .7.8.9.8.8.7-1.6 1 1.4.7-1.4.9.9.8 1.3.6-.6.8-.6.9-.2.7 0 .7.1 1 1.4.8-.2 1 .4.9-.4 1-.1 1-.1.9.1.9.2.9-.6.9.7.8.4.8 1.3.6-1.3 1 .5.8-.3.8-.1.7.6.6-.2.7.3.6.7.5-.1.6-.1 1.5.8 1 .4.9.5.8.4.6.2.7.4.3.2.5 0 .3"/><path id="b11" d="M527 692.7l0-3.2.5.1.3.7.9.2.8.3.6.9.9.3 1 .3 1.1-.1.7.2.7-.2.7-.2.8-.1.9.1.9-.2.9 0 .9-.4.8-.5.9-.1.8-.5.9 0 .7-.5.7-.2.9-.2 1 .2.5-.9 1 .2.7-.3.6-.6.8-.1.7-.3 1.1.3.2-1.2.7-.5 1-.1.2-.9 1.2-.1-.3-1.5.5-.6.2-1.1.7-.6 1-.3.6-.7.2-1 .4-.8.1-.9 1.6 0 .7-.6.4-.7.9-.5-.5-1.3-.2-1.1-.1-1 .8-.5.9-.5.8-.6-.2-1.1-.3-1 1.8-.1.5-.7-1.1-1.2 1.4-.4-1.5-1.3 1.7-.4-1.2-1.2.8-.7 1.2-.6-.1-1 1.2-.7-1-1.1 1-.5.3-.7-.4-.9.4-.7.5-.7-.1-.9.2-.8-.1-.9-.5-1 .5-.8.2-.8 1.4-.7-1.2-1.2.5-.8-.8-1.2 1.8-.4-.3-.9.7-.8.3-.9.1-1 .8-.8.1-1.1 0-1 .2-1-.5-1.2-.5-1.1 1.1-.8-.1-.9.6-.8-.6-1 .4-.7-.1-.7.9-.4-.2-.6-.2-.5.5.1.1-.8.7.4.1.7 0 .9.4 1-.3 1.3.9 1.1-.1 1.2.8 1 .5.9-.6.9-.6 1.3.1.7.5.3 1.5.1-.3 1.1.3 1.5 0 .5-.1.7.2.6-.2.7-.3.7-.1.8 1.2.6-.7.9.8.8.5.8-.4.9-.2.9-.1.9.4.9-.2 1-.1.9.4.9-.3 1 1.1.9-.5 1 .8.6.5.7-1.2 1 .5.7-.5.9.5.9-.2.9-.1.9.4.8.4.9.1.9.3.9-.4.9.2.9.5.8.5.8-1 1 .6.8 1 .7-1.7 1 .7.7-.3.8-.6.8 1.2.6-.9.8 2 .3-.6 1.4-.1 1.2 1.3.8-.9 1.2.7.7.4.7.5.6-.5.9.6.4-.3.7.8.3.5 1.1.5.7.9-.2.1.8 0 .2"/></defs>
<use href="#g11" fill="#e1f4e7"/>
<use href="#b11" fill="#c8d0f4" fill-opacity="0.55"/>
<use href="#g11" fill="none" stroke="#36b262" stroke-width="1.05" stroke-linejoin="round"/>
<use href="#b11" fill="none" stroke="#2a4ef2" stroke-width="1.1" stroke-linejoin="round"/>
<path d="M527.00,692.70 L527.00,602.30 L618.00,602.30 L618.00,692.70 Z" fill="none" stroke="#4a4a4a" stroke-width="0.9"/>
<rect x="618.60" y="598.10" width="0.90" height="3.00" fill="#222" stroke="none" stroke-width="1"/>
<text x="571.90" y="600.10" font-size="4.8" text-anchor="middle" fill="#333" textLength="39.00" lengthAdjust="spacingAndGlyphs"><tspan fill="#333">Sample57 / E9 / P10</tspan></text>
<text x="523.60" y="692.70" font-size="4.8" text-anchor="middle" fill="#4a4a4a" transform="rotate(-90 523.60 692.70)">0</text>
<text x="523.60" y="675.70" font-size="4.8" text-anchor="middle" fill="#4a4a4a" transform="rotate(-90 523.60 675.70)">50</text>
<text x="523.60" y="658.71" font-size="4.8" text-anchor="middle" fill="#4a4a4a" transform="rotate(-90 523.60 658.71)">100</text>
<text x="523.60" y="641.71" font-size="4.8" text-anchor="middle" fill="#4a4a4a" transform="rotate(-90 523.60 641.71)">150</text>
<text x="523.60" y="624.72" font-size="4.8" text-anchor="middle" fill="#4a4a4a" transform="rotate(-90 523.60 624.72)">200</text>
<text x="523.60" y="602.30" font-size="4.8" text-anchor="middle" fill="#4a4a4a" transform="rotate(-90 523.60 602.30)">266</text>
<text x="516.00" y="647.95" font-size="4.8" text-anchor="middle" fill="#4a4a4a" transform="rotate(-90 516.00 647.95)">Count</text>
<text x="527.00" y="700.50" font-size="5.2" text-anchor="middle" fill="#3a3a3a">-10<tspan font-size="3.8" dy="-1.9">1</tspan></text>
<text x="550.66" y="700.50" font-size="5.2" text-anchor="middle" fill="#3a3a3a">10<tspan font-size="3.8" dy="-1.9">2</tspan></text>
<text x="568.86" y="700.50" font-size="5.2" text-anchor="middle" fill="#3a3a3a">10<tspan font-size="3.8" dy="-1.9">3</tspan></text>
<text x="586.15" y="700.50" font-size="5.2" text-anchor="middle" fill="#3a3a3a">10<tspan font-size="3.8" dy="-1.9">4</tspan></text>
<text x="603.44" y="700.50" font-size="5.2" text-anchor="middle" fill="#3a3a3a">10<tspan font-size="3.8" dy="-1.9">5</tspan></text>
<text x="616.63" y="700.50" font-size="5.2" text-anchor="middle" fill="#3a3a3a">10<tspan font-size="3.8" dy="-1.9">5.1</tspan></text>
<text x="570.50" y="708.70" font-size="4.8" text-anchor="middle" fill="#4a4a4a">PE-A</text>
<defs><path id="g12" d="M698.2 692.7l0-.6.6 0 .6-.4.9.3.6-.8.7-.7.8-.6 1.1-.3.6-1 0-.7.8-.3.3-.6.4-.6-.1-.8 0-.9.9-.5.1-.8.4-.8 0-.9-.3-1-.2-1 1.9-.4-1-1.2.6-.8.8-.8-.1-.7-.5-.9.6-.6.6-.7-.6-.9-.5-.8.7-.7-.6-.9 1.8-.5-.8-1-.1-.8-.6-.9 1.6-.7-.3-.9.1-.8.5-.9-.6-.9.3-.9.8-.9-.2-.9.6-.7-.9-.9.1-.7 0-.8.6-.8-.3-.8-.4-.9 1.5-.7-.3-.9.4-.8-1.7-1.1 1.6-.7-1.2-1 .6-.8 0-.9.7-.8-.2-.8.3-.9-.4-.9.4-.8.3-.7.9-.8-.9-.9.4-.7-.3-.8.5-.7.2-.9-.4-1 .7-.8-.2-.9-.4-1 .7-.8-.1-.8-.6-1 1.3-.7-1.1-.9.7-.8.5-.7-.8-.9.6-.7.2-.7.4-.8-.5-.7 0-.8.2-.7-.3-.7.5-1 .5-1 .4-1-.8-1.1-.1-1.1 1.2-.9-1.5-1.2 1.3-.7-.1-.9-.4-.8.6-.5.7-.4-.7-.6.3-.3.3.3.1.2-.5.7.2.6.8.8.1 1 .3 1.1 0 1.2 0 1.2.2 1.2 1.1.5-1.2.8 1 .6.2.6-.3.8.7.6-.4.8.1.8-1.1.9.5.7-.6.9 1.4.8-.1.8-.4 1 .2.9.3.9.4.9-.4 1 .4 1 .1 1 .4.6.1.7-.4.8 0 .8.3.7.5.7-.8.9.7.8.6.7-1.1 1 .9.7.2.9.2.8.1.9-1.8 1 .8.8 0 .9 1.1.8-.3.9.5.8-.7.9.4.9.1.8.3.8-1.1 1 1.1.7.6.8-.3.8.3.8-.5.8.1.9 1.1.7-1.6 1.1.5.9.3.8-.4 1 .4.8.7.9 1.2.7-.9 1 .1.9-1.1 1 1.5.7 0 .8.5.8-.4.9.4.7-.3.9-.3.8.7.7 0 .7.1.7.2.7-1 .8.5.6.9.5.1 1.2.1 1.2.8.9-.3 1.1 0 1 0 .9.4.8.5.7-.2.8.2.6 0 .6-.1.6.6.3 0 .8"/><path id="b12" d="M639.2 692.7l0-.6.5-.1.5-.6.7.6.7-.6.7 0 .9.2.9-.3.9.1.9-.4 1-.2 1-.4 1 .6 1-.6 1 .3.9-.2.9-.6 1 .6.8-.3.8-.5.7.3.7.1 1.2-.7 1.1 0 1 0 .7-.8.8-.3.8-.1.6-.4.8.1.6-.4.7-.3.5-1 1.3.1.4-.9.6-.6 1.1-.2.7-.5.4-.9.4-.8.3-1 .8-.2.9-.2 1.1-.1 0-1.3.6-.7.5-.9 0-.8.1-.7 1-.4-.2-1 .1-.8 1.2-.5.5-.7.1-.9.5-.7.2-.9-.9-1.2.7-.6 1.4-.3 0-1-1-1.3 1.3-.4-.5-1.1 1.1-.5-.4-1 .3-.8.3-.7.1-.9.9-.6 0-.9.2-.7-.3-1 1.1-.5.7-.7-.9-1.1 1-.6.4-.8-.2-1 0-.9.5-.8 0-.9 0-1-.2-1.1 1.4-.8-.5-1.1.2-1 .6-.8-.2-.9.7-.5-.6-.8.4-.3.2.5-.4.5 0 .8 1 1 .9 1.1-.6 1.4 1.3.3 1.3.2-1 1.2.3.6.1.8 1.7.3-1.2 1.3 1 .8-.5 1.3.3 1.2.2.6-.8.8.6.6-.1.8.7.7.8.6-.4.9.9.8-.8 1 .1.8.5.9.3.8-.7 1 .7.8-.4 1 .1.9.6.8-.3.9.1.8.9.7-.2.9-.6.8.2.9.2.9.1 1 .6.8.6.9-.4 1 0 .9.5.8 0 .9-.2.9-.1.9.2.8.8.6-.1.8.4.7-.6.7-.2.7.7.4.2 1.7.6.9.4.7.3.4.2.4 0 .8"/></defs>
<use href="#g12" fill="#e1f4e7"/>
<use href="#b12" fill="#c8d0f4" fill-opacity="0.55"/>
<use href="#g12" fill="none" stroke="#36b262" stroke-width="1.05" stroke-linejoin="round"/>
<use href="#b12" fill="none" stroke="#2a4ef2" stroke-width="1.1" stroke-linejoin="round"/>
<path d="M639.20,692.70 L639.20,602.30 L730.20,602.30 L730.20,692.70 Z" fill="none" stroke="#4a4a4a" stroke-width="0.9"/>
<rect x="730.80" y="598.10" width="0.90" height="3.00" fill="#222" stroke="none" stroke-width="1"/>
<text x="684.10" y="600.10" font-size="4.8" text-anchor="middle" fill="#333" textLength="39.00" lengthAdjust="spacingAndGlyphs"><tspan fill="#333">Sample69 / E9 / P10</tspan></text>
<text x="635.80" y="692.70" font-size="4.8" text-anchor="middle" fill="#4a4a4a" transform="rotate(-90 635.80 692.70)">0</text>
<text x="635.80" y="671.00" font-size="4.8" text-anchor="middle" fill="#4a4a4a" transform="rotate(-90 635.80 671.00)">80</text>
<text x="635.80" y="649.40" font-size="4.8" text-anchor="middle" fill="#4a4a4a" transform="rotate(-90 635.80 649.40)">160</text>
<text x="635.80" y="627.70" font-size="4.8" text-anchor="middle" fill="#4a4a4a" transform="rotate(-90 635.80 627.70)">240</text>
<text x="635.80" y="602.30" font-size="4.8" text-anchor="middle" fill="#4a4a4a" transform="rotate(-90 635.80 602.30)">334</text>
<text x="628.20" y="647.95" font-size="4.8" text-anchor="middle" fill="#4a4a4a" transform="rotate(-90 628.20 647.95)">Count</text>
<text x="639.20" y="700.50" font-size="5.2" text-anchor="middle" fill="#3a3a3a">-10<tspan font-size="3.8" dy="-1.9">1</tspan></text>
<text x="663.77" y="700.50" font-size="5.2" text-anchor="middle" fill="#3a3a3a">10<tspan font-size="3.8" dy="-1.9">2</tspan></text>
<text x="681.97" y="700.50" font-size="5.2" text-anchor="middle" fill="#3a3a3a">10<tspan font-size="3.8" dy="-1.9">3</tspan></text>
<text x="699.26" y="700.50" font-size="5.2" text-anchor="middle" fill="#3a3a3a">10<tspan font-size="3.8" dy="-1.9">4</tspan></text>
<text x="716.55" y="700.50" font-size="5.2" text-anchor="middle" fill="#3a3a3a">10<tspan font-size="3.8" dy="-1.9">5</tspan></text>
<text x="728.84" y="700.50" font-size="5.2" text-anchor="middle" fill="#3a3a3a">10<tspan font-size="3.8" dy="-1.9">5.6</tspan></text>
<text x="682.70" y="708.70" font-size="4.8" text-anchor="middle" fill="#4a4a4a">PE-A</text>
<text x="39.30" y="532.50" font-size="15" text-anchor="middle" fill="#000" transform="rotate(-90 39.30 532.50)" textLength="60.00" lengthAdjust="spacingAndGlyphs">Wild type</text>
<text x="57.00" y="529.80" font-size="15" text-anchor="middle" fill="#000" transform="rotate(-90 57.00 529.80)" textLength="31.00" lengthAdjust="spacingAndGlyphs">iNKs</text>
<text x="39.00" y="645.60" font-size="14.6" text-anchor="middle" fill="#000" transform="rotate(-90 39.00 645.60)" textLength="112.70" lengthAdjust="spacingAndGlyphs">IL15<tspan font-size="9.5" dy="-5">+/+</tspan><tspan dy="5">/TGFβR2</tspan><tspan font-size="9.5" dy="-5">-/-</tspan></text>
<text x="56.10" y="644.60" font-size="15" text-anchor="middle" fill="#000" transform="rotate(-90 56.10 644.60)" textLength="30.50" lengthAdjust="spacingAndGlyphs">iNKs</text>
<text x="97.40" y="725.40" font-size="14.3" text-anchor="start" fill="#000">CD56<tspan font-size="9.5" dy="-5.2">+</tspan></text>
<text x="211.60" y="725.40" font-size="14.3" text-anchor="start" fill="#000">CD16<tspan font-size="9.5" dy="-5.2">+</tspan></text>
<text x="324.80" y="725.40" font-size="14.3" text-anchor="start" fill="#000">NKG2D<tspan font-size="9.5" dy="-5.2">+</tspan></text>
<text x="440.20" y="725.40" font-size="14.3" text-anchor="start" fill="#000">NKP30<tspan font-size="9.5" dy="-5.2">+</tspan></text>
<text x="550.70" y="725.40" font-size="14.3" text-anchor="start" fill="#000">NKP46<tspan font-size="9.5" dy="-5.2">+</tspan></text>
<text x="664.00" y="725.40" font-size="14.3" text-anchor="start" fill="#000">DNAM1<tspan font-size="9.5" dy="-5.2">+</tspan></text>
<text x="171.30" y="920.80" font-size="10.4" text-anchor="end" fill="#111" font-weight="bold">0</text>
<text x="171.30" y="893.73" font-size="10.4" text-anchor="end" fill="#111" font-weight="bold">20</text>
<text x="171.30" y="866.66" font-size="10.4" text-anchor="end" fill="#111" font-weight="bold">40</text>
<text x="171.30" y="839.59" font-size="10.4" text-anchor="end" fill="#111" font-weight="bold">60</text>
<text x="171.30" y="812.52" font-size="10.4" text-anchor="end" fill="#111" font-weight="bold">80</text>
<text x="171.30" y="785.45" font-size="10.4" text-anchor="end" fill="#111" font-weight="bold">100</text>
<text x="148.80" y="855.70" font-size="10.4" text-anchor="middle" fill="#111" font-weight="bold" transform="rotate(-90 148.80 855.70)" textLength="165.90" lengthAdjust="spacingAndGlyphs">IL-15 (pg/ml) per 1E6 live cells</text>
<rect x="217.3" y="905.1" width="15.6" height="12.2" fill="none" stroke="#1010f0" stroke-width="1.9"/>
<rect x="273.3" y="809.0" width="15.9" height="108.3" fill="none" stroke="#1010f0" stroke-width="1.9"/>
<path d="M281.3 791.2L284.8 797.5L277.8 797.5z" fill="#1010f0"/>
<path d="M281.3 802.4L284.8 808.7L277.8 808.7z" fill="#1010f0"/>
<path d="M281.3 822.8L284.8 829.1L277.8 829.1z" fill="#1010f0"/>
<path d="M221.0 900.0L224.2 905.8L217.8 905.8z" fill="#1010f0"/>
<path d="M226.0 901.5L229.2 907.3L222.8 907.3z" fill="#1010f0"/>
<path d="M230.5 904.5L233.8 910.3L227.2 910.3z" fill="#1010f0"/>
<path d="M192.0 914.0L195.2 919.8L188.8 919.8z" fill="#000"/>
<path d="M197.0 914.0L200.2 919.8L193.8 919.8z" fill="#000"/>
<path d="M202.0 914.3L205.2 920.1L198.8 920.1z" fill="#000"/>
<path d="M248.5 910.7L251.8 916.5L245.2 916.5z" fill="#000"/>
<path d="M253.5 913.5L256.8 919.3L250.2 919.3z" fill="#000"/>
<path d="M258.7 916.1L261.9 921.9L255.4 921.9z" fill="#000"/>
<text x="194.30" y="941.30" font-size="13.2" text-anchor="start" fill="#111" textLength="32.70" lengthAdjust="spacingAndGlyphs">24hrs</text>
<text x="251.80" y="941.30" font-size="13.2" text-anchor="start" fill="#111" textLength="32.30" lengthAdjust="spacingAndGlyphs">72hrs</text>
<path d="M184.8 952.2L188.6 959.0L181.1 959.0z" fill="#000"/>
<text x="194.70" y="959.90" font-size="10" text-anchor="start" fill="#222" textLength="43.20" lengthAdjust="spacingAndGlyphs">iNK (WT)</text>
<path d="M184.8 969.2L188.6 976.0L181.1 976.0z" fill="#1010f0"/>
<text x="194.70" y="977.00" font-size="10" text-anchor="start" fill="#222" textLength="98.90" lengthAdjust="spacingAndGlyphs">IL15<tspan font-size="6.5" dy="-3.6">+/+</tspan><tspan dy="3.6">/TGFβR2</tspan><tspan font-size="6.5" dy="-3.6">-/-</tspan><tspan dy="3.6"> iNK</tspan></text>
<defs>
<filter id="fblur" x="-20%" y="-40%" width="140%" height="180%"><feGaussianBlur stdDeviation="1.2"/></filter>
<filter id="fblur2" x="-20%" y="-40%" width="140%" height="180%"><feGaussianBlur stdDeviation="0.8"/></filter>
<filter id="fblur3" x="-30%" y="-30%" width="160%" height="160%"><feGaussianBlur stdDeviation="2.2"/></filter>
<linearGradient id="blotbg" x1="0" y1="0" x2="0" y2="1"><stop offset="0" stop-color="#d6d6d6"/><stop offset="1" stop-color="#dadada"/></linearGradient>
</defs>
<rect x="508.80" y="797.30" width="58.00" height="72.50" fill="#d9d9d9" stroke="none" stroke-width="1"/>
<rect x="568.20" y="797.30" width="51.80" height="72.50" fill="#dbdbdb" stroke="none" stroke-width="1"/>
<g filter="url(#fblur)">
<rect x="517.00" y="816.00" width="19.50" height="42.00" fill="#cbcbcb" stroke="none" stroke-width="1"/>
<rect x="516.80" y="835.00" width="19.80" height="17.00" fill="#b9b9b9" stroke="none" stroke-width="1"/>
<rect x="516.50" y="828.00" width="20.20" height="6.50" fill="#262626" stroke="none" stroke-width="1"/>
<path d="M516.5 827 Q526.6 831 536.7 827 L536.7 835 Q526.6 832.5 516.5 835 z" fill="#0a0a0a"/>
<rect x="517.00" y="851.50" width="19.50" height="5.50" fill="#9a9a9a" stroke="none" stroke-width="1"/>
</g>
<g filter="url(#fblur2)">
<rect x="572.00" y="811.00" width="21.50" height="50.00" fill="#ababab" stroke="none" stroke-width="1"/>
<rect x="571.60" y="817.00" width="22.40" height="7.00" fill="#8a8a8a" stroke="none" stroke-width="1"/>
<path d="M571.8 822.5 Q582.7 820 593.6 822.5 L594 850 Q582.7 853 571.8 850 z" fill="#050505"/>
<rect x="572.00" y="849.00" width="21.50" height="10.00" fill="#4a4a4a" stroke="none" stroke-width="1"/>
<rect x="573.00" y="856.00" width="19.50" height="4.00" fill="#6f6f6f" stroke="none" stroke-width="1"/>
</g>
<rect x="566.80" y="797.30" width="1.40" height="72.50" fill="#fdfdfd" stroke="none" stroke-width="1"/>
<rect x="509.50" y="888.90" width="57.50" height="16.50" fill="#d4d4d4" stroke="none" stroke-width="1"/>
<rect x="567.80" y="888.90" width="51.50" height="16.50" fill="#d6d6d6" stroke="none" stroke-width="1"/>
<g filter="url(#fblur2)">
<rect x="514.4" y="893.0" width="23.8" height="5.6" rx="2" fill="#0d0d0d"/>
<rect x="542.8" y="892.9" width="22.3" height="5.8" rx="2" fill="#0d0d0d"/>
<rect x="571.2" y="893.6" width="19.9" height="4.4" rx="2" fill="#0d0d0d"/>
<rect x="595.8" y="893.0" width="20.1" height="5.6" rx="2" fill="#0d0d0d"/>
</g>
<rect x="567.00" y="888.90" width="0.90" height="16.50" fill="#fdfdfd" stroke="none" stroke-width="1"/>
<text x="475.50" y="789.60" font-size="13.4" text-anchor="start" fill="#111" textLength="26.90" lengthAdjust="spacingAndGlyphs">Lane</text>
<text x="523.60" y="789.60" font-size="13.4" text-anchor="middle" fill="#111">1</text>
<text x="550.50" y="789.60" font-size="13.4" text-anchor="middle" fill="#111">2</text>
<text x="577.70" y="789.60" font-size="13.4" text-anchor="middle" fill="#111">3</text>
<text x="605.30" y="789.60" font-size="13.4" text-anchor="middle" fill="#111">4</text>
<text x="480.80" y="813.20" font-size="12.6" text-anchor="end" fill="#111" textLength="35.60" lengthAdjust="spacingAndGlyphs">100kD</text>
<text x="480.80" y="839.50" font-size="12.6" text-anchor="end" fill="#111" textLength="28.30" lengthAdjust="spacingAndGlyphs">75kD</text>
<text x="624.30" y="837.70" font-size="13.0" text-anchor="start" fill="#111" textLength="47.90" lengthAdjust="spacingAndGlyphs">TGFβR2</text>
<text x="423.50" y="886.50" font-size="12.6" text-anchor="start" fill="#111" textLength="82.20" lengthAdjust="spacingAndGlyphs">Bafilomycin A1</text>
<text x="628.00" y="900.80" font-size="14.3" text-anchor="start" fill="#111" textLength="43.90" lengthAdjust="spacingAndGlyphs">control</text>
<text x="497.00" y="952.50" font-size="10.8" text-anchor="start" fill="#222" transform="rotate(-45 497.00 952.50)" textLength="46.50" lengthAdjust="spacingAndGlyphs">iNK (WT)</text>
<text x="486.50" y="994.00" font-size="10.8" text-anchor="start" fill="#222" transform="rotate(-45 486.50 994.00)" textLength="102.00" lengthAdjust="spacingAndGlyphs">IL15<tspan font-size="7" dy="-3.6">+/+</tspan><tspan dy="3.6">/TGFβR2</tspan><tspan font-size="7" dy="-3.6">-/-</tspan><tspan dy="3.6"> iNK</tspan></text>
<text x="554.00" y="953.50" font-size="10.8" text-anchor="start" fill="#222" transform="rotate(-45 554.00 953.50)" textLength="46.50" lengthAdjust="spacingAndGlyphs">iNK (WT)</text>
<text x="538.40" y="994.00" font-size="10.8" text-anchor="start" fill="#222" transform="rotate(-45 538.40 994.00)" textLength="102.00" lengthAdjust="spacingAndGlyphs">IL15<tspan font-size="7" dy="-3.6">+/+</tspan><tspan dy="3.6">/TGFβR2</tspan><tspan font-size="7" dy="-3.6">-/-</tspan><tspan dy="3.6"> iNK</tspan></text>
<path d="M76.7 177.3h3.6M78 167.66h2.3M78 158.02h2.3M78 148.38h2.3M78 138.74h2.3M76.7 129.1h3.6M78 119.46h2.3M78 109.82h2.3M78 100.18h2.3M78 90.54h2.3M76.7 80.9h3.6M78 71.26h2.3M78 61.62h2.3M78 51.98h2.3M78 42.34h2.3M76.7 32.7h3.6M78 23.06h2.3M76.7 20.6h3.6M80.3 177.3v3M102.76 177.3v3M125.22 177.3v3M147.68 177.3v3M170.14 177.3v3M192.6 177.3v3M215.06 177.3v3M237.52 177.3v3M307.9 177.3h3.6M309.2 169.04h2.3M309.2 160.78h2.3M309.2 152.51h2.3M307.9 144.25h3.6M309.2 135.99h2.3M309.2 127.73h2.3M309.2 119.46h2.3M307.9 111.2h3.6M309.2 102.94h2.3M309.2 94.68h2.3M309.2 86.41h2.3M307.9 78.15h3.6M309.2 69.89h2.3M309.2 61.63h2.3M309.2 53.36h2.3M307.9 45.1h3.6M309.2 36.84h2.3M309.2 28.58h2.3M307.9 20.6h3.6M311.5 177.3v3M337.75 177.3v3M364 177.3v3M390.25 177.3v3M416.5 177.3v3M442.75 177.3v3M469 177.3v3M540.2 178h3.2M540.2 155.54h3.2M540.2 133.09h3.2M540.2 110.63h3.2M540.2 88.17h3.2M540.2 65.71h3.2M540.2 43.26h3.2M540.2 20.8h3.2M543.4 178v3M569.6 178v3M595.8 178v3M622 178v3M648.2 178v3M674.4 178v3M700.6 178v3" fill="none" stroke="#3a3a3a" stroke-width="0.9"/>
<path d="M87.06 177.3v1.8M91.02 177.3v1.8M93.82 177.3v1.8M96 177.3v1.8M97.78 177.3v1.8M99.28 177.3v1.8M100.58 177.3v1.8M101.73 177.3v1.8M109.52 177.3v1.8M113.48 177.3v1.8M116.28 177.3v1.8M118.46 177.3v1.8M120.24 177.3v1.8M121.74 177.3v1.8M123.04 177.3v1.8M124.19 177.3v1.8M131.98 177.3v1.8M135.94 177.3v1.8M138.74 177.3v1.8M140.92 177.3v1.8M142.7 177.3v1.8M144.2 177.3v1.8M145.5 177.3v1.8M146.65 177.3v1.8M154.44 177.3v1.8M158.4 177.3v1.8M161.2 177.3v1.8M163.38 177.3v1.8M165.16 177.3v1.8M166.66 177.3v1.8M167.96 177.3v1.8M169.11 177.3v1.8M176.9 177.3v1.8M180.86 177.3v1.8M183.66 177.3v1.8M185.84 177.3v1.8M187.62 177.3v1.8M189.12 177.3v1.8M190.42 177.3v1.8M191.57 177.3v1.8M199.36 177.3v1.8M203.32 177.3v1.8M206.12 177.3v1.8M208.3 177.3v1.8M210.08 177.3v1.8M211.58 177.3v1.8M212.88 177.3v1.8M214.03 177.3v1.8M221.82 177.3v1.8M225.78 177.3v1.8M228.58 177.3v1.8M230.76 177.3v1.8M232.54 177.3v1.8M234.04 177.3v1.8M235.34 177.3v1.8M236.49 177.3v1.8M319.4 177.3v1.8M324.02 177.3v1.8M327.3 177.3v1.8M329.85 177.3v1.8M331.93 177.3v1.8M333.68 177.3v1.8M335.21 177.3v1.8M336.55 177.3v1.8M345.65 177.3v1.8M350.27 177.3v1.8M353.55 177.3v1.8M356.1 177.3v1.8M358.18 177.3v1.8M359.93 177.3v1.8M361.46 177.3v1.8M362.8 177.3v1.8M371.9 177.3v1.8M376.52 177.3v1.8M379.8 177.3v1.8M382.35 177.3v1.8M384.43 177.3v1.8M386.18 177.3v1.8M387.71 177.3v1.8M389.05 177.3v1.8M398.15 177.3v1.8M402.77 177.3v1.8M406.05 177.3v1.8M408.6 177.3v1.8M410.68 177.3v1.8M412.43 177.3v1.8M413.96 177.3v1.8M415.3 177.3v1.8M424.4 177.3v1.8M429.02 177.3v1.8M432.3 177.3v1.8M434.85 177.3v1.8M436.93 177.3v1.8M438.68 177.3v1.8M440.21 177.3v1.8M441.55 177.3v1.8M450.65 177.3v1.8M455.27 177.3v1.8M458.55 177.3v1.8M461.1 177.3v1.8M463.18 177.3v1.8M464.93 177.3v1.8M466.46 177.3v1.8M467.8 177.3v1.8M541.6 171.24h1.8M541.6 167.29h1.8M541.6 164.48h1.8M541.6 162.3h1.8M541.6 160.52h1.8M541.6 159.02h1.8M541.6 157.72h1.8M541.6 156.57h1.8M541.6 148.78h1.8M541.6 144.83h1.8M541.6 142.02h1.8M541.6 139.85h1.8M541.6 138.07h1.8M541.6 136.56h1.8M541.6 135.26h1.8M541.6 134.11h1.8M541.6 126.33h1.8M541.6 122.37h1.8M541.6 119.57h1.8M541.6 117.39h1.8M541.6 115.61h1.8M541.6 114.11h1.8M541.6 112.8h1.8M541.6 111.66h1.8M541.6 103.87h1.8M541.6 99.91h1.8M541.6 97.11h1.8M541.6 94.93h1.8M541.6 93.15h1.8M541.6 91.65h1.8M541.6 90.35h1.8M541.6 89.2h1.8M541.6 81.41h1.8M541.6 77.46h1.8M541.6 74.65h1.8M541.6 72.47h1.8M541.6 70.7h1.8M541.6 69.19h1.8M541.6 67.89h1.8M541.6 66.74h1.8M541.6 58.95h1.8M541.6 55h1.8M541.6 52.19h1.8M541.6 50.02h1.8M541.6 48.24h1.8M541.6 46.74h1.8M541.6 45.43h1.8M541.6 44.28h1.8M541.6 36.5h1.8M541.6 32.54h1.8M541.6 29.74h1.8M541.6 27.56h1.8M541.6 25.78h1.8M541.6 24.28h1.8M541.6 22.98h1.8M541.6 21.83h1.8M551.29 178v1.8M555.9 178v1.8M559.17 178v1.8M561.71 178v1.8M563.79 178v1.8M565.54 178v1.8M567.06 178v1.8M568.4 178v1.8M577.49 178v1.8M582.1 178v1.8M585.37 178v1.8M587.91 178v1.8M589.99 178v1.8M591.74 178v1.8M593.26 178v1.8M594.6 178v1.8M603.69 178v1.8M608.3 178v1.8M611.57 178v1.8M614.11 178v1.8M616.19 178v1.8M617.94 178v1.8M619.46 178v1.8M620.8 178v1.8M629.89 178v1.8M634.5 178v1.8M637.77 178v1.8M640.31 178v1.8M642.39 178v1.8M644.14 178v1.8M645.66 178v1.8M647 178v1.8M656.09 178v1.8M660.7 178v1.8M663.97 178v1.8M666.51 178v1.8M668.59 178v1.8M670.34 178v1.8M671.86 178v1.8M673.2 178v1.8M682.29 178v1.8M686.9 178v1.8M690.17 178v1.8M692.71 178v1.8M694.79 178v1.8M696.54 178v1.8M698.06 178v1.8M699.4 178v1.8" fill="none" stroke="#3a3a3a" stroke-width="0.7"/>
<path d="M150.4 87.4h87.1M150.4 82.3v10.2M395.6 85.4h73.4M395.6 81.2v9.3M623.7 20.8v157.2M543.4 113.6h157.2" fill="none" stroke="#333" stroke-width="1.0"/>
<path d="M90.2 451.4h66.6M90.2 449v2.4M156.8 449v2.4" fill="none" stroke="#c9c25a" stroke-width="0.8"/>
<path d="M77.1 587.2h1.2M77.1 582.66h1.2M77.1 578.12h1.2M77.1 573.58h1.2M77.1 569.04h1.2M77.1 564.5h1.2M77.1 559.96h1.2M77.1 555.42h1.2M77.1 550.88h1.2M77.1 546.34h1.2M77.1 541.8h1.2M77.1 537.26h1.2M77.1 532.72h1.2M77.1 528.18h1.2M77.1 523.64h1.2M77.1 519.1h1.2M77.1 514.56h1.2M77.1 510.02h1.2M77.1 505.48h1.2M77.1 500.94h1.2M77.1 496.4h1.2M189.3 587.2h1.2M189.3 582.66h1.2M189.3 578.12h1.2M189.3 573.58h1.2M189.3 569.04h1.2M189.3 564.5h1.2M189.3 559.96h1.2M189.3 555.42h1.2M189.3 550.88h1.2M189.3 546.34h1.2M189.3 541.8h1.2M189.3 537.26h1.2M189.3 532.72h1.2M189.3 528.18h1.2M189.3 523.64h1.2M189.3 519.1h1.2M189.3 514.56h1.2M189.3 510.02h1.2M189.3 505.48h1.2M189.3 500.94h1.2M189.3 496.4h1.2M301.3 587.2h1.2M301.3 582.66h1.2M301.3 578.12h1.2M301.3 573.58h1.2M301.3 569.04h1.2M301.3 564.5h1.2M301.3 559.96h1.2M301.3 555.42h1.2M301.3 550.88h1.2M301.3 546.34h1.2M301.3 541.8h1.2M301.3 537.26h1.2M301.3 532.72h1.2M301.3 528.18h1.2M301.3 523.64h1.2M301.3 519.1h1.2M301.3 514.56h1.2M301.3 510.02h1.2M301.3 505.48h1.2M301.3 500.94h1.2M301.3 496.4h1.2M413.5 587.2h1.2M413.5 582.66h1.2M413.5 578.12h1.2M413.5 573.58h1.2M413.5 569.04h1.2M413.5 564.5h1.2M413.5 559.96h1.2M413.5 555.42h1.2M413.5 550.88h1.2M413.5 546.34h1.2M413.5 541.8h1.2M413.5 537.26h1.2M413.5 532.72h1.2M413.5 528.18h1.2M413.5 523.64h1.2M413.5 519.1h1.2M413.5 514.56h1.2M413.5 510.02h1.2M413.5 505.48h1.2M413.5 500.94h1.2M413.5 496.4h1.2M525.8 587.2h1.2M525.8 582.66h1.2M525.8 578.12h1.2M525.8 573.58h1.2M525.8 569.04h1.2M525.8 564.5h1.2M525.8 559.96h1.2M525.8 555.42h1.2M525.8 550.88h1.2M525.8 546.34h1.2M525.8 541.8h1.2M525.8 537.26h1.2M525.8 532.72h1.2M525.8 528.18h1.2M525.8 523.64h1.2M525.8 519.1h1.2M525.8 514.56h1.2M525.8 510.02h1.2M525.8 505.48h1.2M525.8 500.94h1.2M525.8 496.4h1.2M637.6 587.2h1.2M637.6 582.66h1.2M637.6 578.12h1.2M637.6 573.58h1.2M637.6 569.04h1.2M637.6 564.5h1.2M637.6 559.96h1.2M637.6 555.42h1.2M637.6 550.88h1.2M637.6 546.34h1.2M637.6 541.8h1.2M637.6 537.26h1.2M637.6 532.72h1.2M637.6 528.18h1.2M637.6 523.64h1.2M637.6 519.1h1.2M637.6 514.56h1.2M637.6 510.02h1.2M637.6 505.48h1.2M637.6 500.94h1.2M637.6 496.4h1.2M79.2 692.7h1.2M79.2 688.18h1.2M79.2 683.66h1.2M79.2 679.14h1.2M79.2 674.62h1.2M79.2 670.1h1.2M79.2 665.58h1.2M79.2 661.06h1.2M79.2 656.54h1.2M79.2 652.02h1.2M79.2 647.5h1.2M79.2 642.98h1.2M79.2 638.46h1.2M79.2 633.94h1.2M79.2 629.42h1.2M79.2 624.9h1.2M79.2 620.38h1.2M79.2 615.86h1.2M79.2 611.34h1.2M79.2 606.82h1.2M79.2 602.3h1.2M190.9 692.7h1.2M190.9 688.18h1.2M190.9 683.66h1.2M190.9 679.14h1.2M190.9 674.62h1.2M190.9 670.1h1.2M190.9 665.58h1.2M190.9 661.06h1.2M190.9 656.54h1.2M190.9 652.02h1.2M190.9 647.5h1.2M190.9 642.98h1.2M190.9 638.46h1.2M190.9 633.94h1.2M190.9 629.42h1.2M190.9 624.9h1.2M190.9 620.38h1.2M190.9 615.86h1.2M190.9 611.34h1.2M190.9 606.82h1.2M190.9 602.3h1.2M302.9 692.7h1.2M302.9 688.18h1.2M302.9 683.66h1.2M302.9 679.14h1.2M302.9 674.62h1.2M302.9 670.1h1.2M302.9 665.58h1.2M302.9 661.06h1.2M302.9 656.54h1.2M302.9 652.02h1.2M302.9 647.5h1.2M302.9 642.98h1.2M302.9 638.46h1.2M302.9 633.94h1.2M302.9 629.42h1.2M302.9 624.9h1.2M302.9 620.38h1.2M302.9 615.86h1.2M302.9 611.34h1.2M302.9 606.82h1.2M302.9 602.3h1.2M413.8 692.7h1.2M413.8 688.18h1.2M413.8 683.66h1.2M413.8 679.14h1.2M413.8 674.62h1.2M413.8 670.1h1.2M413.8 665.58h1.2M413.8 661.06h1.2M413.8 656.54h1.2M413.8 652.02h1.2M413.8 647.5h1.2M413.8 642.98h1.2M413.8 638.46h1.2M413.8 633.94h1.2M413.8 629.42h1.2M413.8 624.9h1.2M413.8 620.38h1.2M413.8 615.86h1.2M413.8 611.34h1.2M413.8 606.82h1.2M413.8 602.3h1.2M525.8 692.7h1.2M525.8 688.18h1.2M525.8 683.66h1.2M525.8 679.14h1.2M525.8 674.62h1.2M525.8 670.1h1.2M525.8 665.58h1.2M525.8 661.06h1.2M525.8 656.54h1.2M525.8 652.02h1.2M525.8 647.5h1.2M525.8 642.98h1.2M525.8 638.46h1.2M525.8 633.94h1.2M525.8 629.42h1.2M525.8 624.9h1.2M525.8 620.38h1.2M525.8 615.86h1.2M525.8 611.34h1.2M525.8 606.82h1.2M525.8 602.3h1.2M638 692.7h1.2M638 688.18h1.2M638 683.66h1.2M638 679.14h1.2M638 674.62h1.2M638 670.1h1.2M638 665.58h1.2M638 661.06h1.2M638 656.54h1.2M638 652.02h1.2M638 647.5h1.2M638 642.98h1.2M638 638.46h1.2M638 633.94h1.2M638 629.42h1.2M638 624.9h1.2M638 620.38h1.2M638 615.86h1.2M638 611.34h1.2M638 606.82h1.2M638 602.3h1.2" fill="none" stroke="#4a4a4a" stroke-width="0.5"/>
<path d="M76.3 587.2h2M76.3 566.5h2M76.3 545.34h2M76.3 525.46h2M76.3 496.4h2M78.3 587.2v1.8M90.16 587.2v1.8M112.04 587.2v1.8M128.46 587.2v1.8M143.96 587.2v1.8M167.68 587.2v1.8M188.5 587.2h2M188.5 568.31h2M188.5 549.34h2M188.5 530.45h2M188.5 511.56h2M188.5 496.4h2M190.5 587.2v1.8M215.12 587.2v1.8M233.36 587.2v1.8M250.69 587.2v1.8M268.02 587.2v1.8M280.33 587.2v1.8M300.5 587.2h2M300.5 569.49h2M300.5 551.79h2M300.5 533.99h2M300.5 516.29h2M300.5 496.4h2M302.5 587.2v1.8M326.21 587.2v1.8M344 587.2v1.8M360.87 587.2v1.8M377.28 587.2v1.8M392.33 587.2v1.8M412.7 587.2h2M412.7 570.31h2M412.7 553.42h2M412.7 536.53h2M412.7 519.64h2M412.7 496.4h2M414.7 587.2v1.8M438.41 587.2v1.8M456.65 587.2v1.8M473.98 587.2v1.8M491.31 587.2v1.8M504.53 587.2v1.8M525 587.2h2M525 569.68h2M525 552.15h2M525 534.54h2M525 517.01h2M525 496.4h2M527 587.2v1.8M550.71 587.2v1.8M568.95 587.2v1.8M586.28 587.2v1.8M603.61 587.2v1.8M616.83 587.2v1.8M636.8 587.2h2M636.8 568.4h2M636.8 549.7h2M636.8 530.9h2M636.8 512.2h2M636.8 496.4h2M638.8 587.2v1.8M663.42 587.2v1.8M681.66 587.2v1.8M698.99 587.2v1.8M716.32 587.2v1.8M728.63 587.2v1.8M78.4 692.7h2M78.4 673.08h2M78.4 653.38h2M78.4 633.76h2M78.4 614.05h2M78.4 602.3h2M80.4 692.7v1.8M92.23 692.7v1.8M114.07 692.7v1.8M130.45 692.7v1.8M145.92 692.7v1.8M169.58 692.7v1.8M190.1 692.7h2M190.1 676.07h2M190.1 659.34h2M190.1 642.71h2M190.1 626.08h2M190.1 602.3h2M192.1 692.7v1.8M215.76 692.7v1.8M233.5 692.7v1.8M250.34 692.7v1.8M266.72 692.7v1.8M281.74 692.7v1.8M302.1 692.7h2M302.1 674.26h2M302.1 655.82h2M302.1 637.38h2M302.1 618.93h2M302.1 602.3h2M304.1 692.7v1.8M327.76 692.7v1.8M345.5 692.7v1.8M362.34 692.7v1.8M378.72 692.7v1.8M393.74 692.7v1.8M413 692.7h2M413 674.89h2M413 657.08h2M413 639.27h2M413 621.56h2M413 602.3h2M415 692.7v1.8M438.66 692.7v1.8M456.86 692.7v1.8M474.15 692.7v1.8M491.44 692.7v1.8M504.63 692.7v1.8M525 692.7h2M525 675.7h2M525 658.71h2M525 641.71h2M525 624.72h2M525 602.3h2M527 692.7v1.8M550.66 692.7v1.8M568.86 692.7v1.8M586.15 692.7v1.8M603.44 692.7v1.8M616.63 692.7v1.8M637.2 692.7h2M637.2 671h2M637.2 649.4h2M637.2 627.7h2M637.2 602.3h2M639.2 692.7v1.8M663.77 692.7v1.8M681.97 692.7v1.8M699.26 692.7v1.8M716.55 692.7v1.8M728.84 692.7v1.8" fill="none" stroke="#4a4a4a" stroke-width="0.6"/>
<path d="M78.3 587.2v1M81.34 587.2v1M84.38 587.2v1M87.42 587.2v1M90.46 587.2v1M93.5 587.2v1M96.54 587.2v1M99.58 587.2v1M102.62 587.2v1M105.66 587.2v1M108.7 587.2v1M111.74 587.2v1M114.78 587.2v1M117.82 587.2v1M120.86 587.2v1M123.9 587.2v1M126.94 587.2v1M129.98 587.2v1M133.02 587.2v1M136.06 587.2v1M139.1 587.2v1M142.14 587.2v1M145.18 587.2v1M148.22 587.2v1M151.26 587.2v1M154.3 587.2v1M157.34 587.2v1M160.38 587.2v1M163.42 587.2v1M166.46 587.2v1M169.5 587.2v1M190.5 587.2v1M193.54 587.2v1M196.58 587.2v1M199.62 587.2v1M202.66 587.2v1M205.7 587.2v1M208.74 587.2v1M211.78 587.2v1M214.82 587.2v1M217.86 587.2v1M220.9 587.2v1M223.94 587.2v1M226.98 587.2v1M230.02 587.2v1M233.06 587.2v1M236.1 587.2v1M239.14 587.2v1M242.18 587.2v1M245.22 587.2v1M248.26 587.2v1M251.3 587.2v1M254.34 587.2v1M257.38 587.2v1M260.42 587.2v1M263.46 587.2v1M266.5 587.2v1M269.54 587.2v1M272.58 587.2v1M275.62 587.2v1M278.66 587.2v1M281.7 587.2v1M302.5 587.2v1M305.54 587.2v1M308.58 587.2v1M311.62 587.2v1M314.66 587.2v1M317.7 587.2v1M320.74 587.2v1M323.78 587.2v1M326.82 587.2v1M329.86 587.2v1M332.9 587.2v1M335.94 587.2v1M338.98 587.2v1M342.02 587.2v1M345.06 587.2v1M348.1 587.2v1M351.14 587.2v1M354.18 587.2v1M357.22 587.2v1M360.26 587.2v1M363.3 587.2v1M366.34 587.2v1M369.38 587.2v1M372.42 587.2v1M375.46 587.2v1M378.5 587.2v1M381.54 587.2v1M384.58 587.2v1M387.62 587.2v1M390.66 587.2v1M393.7 587.2v1M414.7 587.2v1M417.74 587.2v1M420.78 587.2v1M423.82 587.2v1M426.86 587.2v1M429.9 587.2v1M432.94 587.2v1M435.98 587.2v1M439.02 587.2v1M442.06 587.2v1M445.1 587.2v1M448.14 587.2v1M451.18 587.2v1M454.22 587.2v1M457.26 587.2v1M460.3 587.2v1M463.34 587.2v1M466.38 587.2v1M469.42 587.2v1M472.46 587.2v1M475.5 587.2v1M478.54 587.2v1M481.58 587.2v1M484.62 587.2v1M487.66 587.2v1M490.7 587.2v1M493.74 587.2v1M496.78 587.2v1M499.82 587.2v1M502.86 587.2v1M505.9 587.2v1M527 587.2v1M530.04 587.2v1M533.08 587.2v1M536.12 587.2v1M539.16 587.2v1M542.2 587.2v1M545.24 587.2v1M548.28 587.2v1M551.32 587.2v1M554.36 587.2v1M557.4 587.2v1M560.44 587.2v1M563.48 587.2v1M566.52 587.2v1M569.56 587.2v1M572.6 587.2v1M575.64 587.2v1M578.68 587.2v1M581.72 587.2v1M584.76 587.2v1M587.8 587.2v1M590.84 587.2v1M593.88 587.2v1M596.92 587.2v1M599.96 587.2v1M603 587.2v1M606.04 587.2v1M609.08 587.2v1M612.12 587.2v1M615.16 587.2v1M618.2 587.2v1M638.8 587.2v1M641.84 587.2v1M644.88 587.2v1M647.92 587.2v1M650.96 587.2v1M654 587.2v1M657.04 587.2v1M660.08 587.2v1M663.12 587.2v1M666.16 587.2v1M669.2 587.2v1M672.24 587.2v1M675.28 587.2v1M678.32 587.2v1M681.36 587.2v1M684.4 587.2v1M687.44 587.2v1M690.48 587.2v1M693.52 587.2v1M696.56 587.2v1M699.6 587.2v1M702.64 587.2v1M705.68 587.2v1M708.72 587.2v1M711.76 587.2v1M714.8 587.2v1M717.84 587.2v1M720.88 587.2v1M723.92 587.2v1M726.96 587.2v1M730 587.2v1M80.4 692.7v1M83.43 692.7v1M86.47 692.7v1M89.5 692.7v1M92.53 692.7v1M95.57 692.7v1M98.6 692.7v1M101.63 692.7v1M104.67 692.7v1M107.7 692.7v1M110.73 692.7v1M113.77 692.7v1M116.8 692.7v1M119.83 692.7v1M122.87 692.7v1M125.9 692.7v1M128.93 692.7v1M131.97 692.7v1M135 692.7v1M138.03 692.7v1M141.07 692.7v1M144.1 692.7v1M147.13 692.7v1M150.17 692.7v1M153.2 692.7v1M156.23 692.7v1M159.27 692.7v1M162.3 692.7v1M165.33 692.7v1M168.37 692.7v1M171.4 692.7v1M192.1 692.7v1M195.13 692.7v1M198.17 692.7v1M201.2 692.7v1M204.23 692.7v1M207.27 692.7v1M210.3 692.7v1M213.33 692.7v1M216.37 692.7v1M219.4 692.7v1M222.43 692.7v1M225.47 692.7v1M228.5 692.7v1M231.53 692.7v1M234.57 692.7v1M237.6 692.7v1M240.63 692.7v1M243.67 692.7v1M246.7 692.7v1M249.73 692.7v1M252.77 692.7v1M255.8 692.7v1M258.83 692.7v1M261.87 692.7v1M264.9 692.7v1M267.93 692.7v1M270.97 692.7v1M274 692.7v1M277.03 692.7v1M280.07 692.7v1M283.1 692.7v1M304.1 692.7v1M307.13 692.7v1M310.17 692.7v1M313.2 692.7v1M316.23 692.7v1M319.27 692.7v1M322.3 692.7v1M325.33 692.7v1M328.37 692.7v1M331.4 692.7v1M334.43 692.7v1M337.47 692.7v1M340.5 692.7v1M343.53 692.7v1M346.57 692.7v1M349.6 692.7v1M352.63 692.7v1M355.67 692.7v1M358.7 692.7v1M361.73 692.7v1M364.77 692.7v1M367.8 692.7v1M370.83 692.7v1M373.87 692.7v1M376.9 692.7v1M379.93 692.7v1M382.97 692.7v1M386 692.7v1M389.03 692.7v1M392.07 692.7v1M395.1 692.7v1M415 692.7v1M418.03 692.7v1M421.07 692.7v1M424.1 692.7v1M427.13 692.7v1M430.17 692.7v1M433.2 692.7v1M436.23 692.7v1M439.27 692.7v1M442.3 692.7v1M445.33 692.7v1M448.37 692.7v1M451.4 692.7v1M454.43 692.7v1M457.47 692.7v1M460.5 692.7v1M463.53 692.7v1M466.57 692.7v1M469.6 692.7v1M472.63 692.7v1M475.67 692.7v1M478.7 692.7v1M481.73 692.7v1M484.77 692.7v1M487.8 692.7v1M490.83 692.7v1M493.87 692.7v1M496.9 692.7v1M499.93 692.7v1M502.97 692.7v1M506 692.7v1M527 692.7v1M530.03 692.7v1M533.07 692.7v1M536.1 692.7v1M539.13 692.7v1M542.17 692.7v1M545.2 692.7v1M548.23 692.7v1M551.27 692.7v1M554.3 692.7v1M557.33 692.7v1M560.37 692.7v1M563.4 692.7v1M566.43 692.7v1M569.47 692.7v1M572.5 692.7v1M575.53 692.7v1M578.57 692.7v1M581.6 692.7v1M584.63 692.7v1M587.67 692.7v1M590.7 692.7v1M593.73 692.7v1M596.77 692.7v1M599.8 692.7v1M602.83 692.7v1M605.87 692.7v1M608.9 692.7v1M611.93 692.7v1M614.97 692.7v1M618 692.7v1M639.2 692.7v1M642.23 692.7v1M645.27 692.7v1M648.3 692.7v1M651.33 692.7v1M654.37 692.7v1M657.4 692.7v1M660.43 692.7v1M663.47 692.7v1M666.5 692.7v1M669.53 692.7v1M672.57 692.7v1M675.6 692.7v1M678.63 692.7v1M681.67 692.7v1M684.7 692.7v1M687.73 692.7v1M690.77 692.7v1M693.8 692.7v1M696.83 692.7v1M699.87 692.7v1M702.9 692.7v1M705.93 692.7v1M708.97 692.7v1M712 692.7v1M715.03 692.7v1M718.07 692.7v1M721.1 692.7v1M724.13 692.7v1M727.17 692.7v1M730.2 692.7v1" fill="none" stroke="#4a4a4a" stroke-width="0.45"/>
<path d="M178.5 781.3v143.3M173 917.3h127.9M172.8 917.3h5.7M172.8 890.23h5.7M172.8 863.16h5.7M172.8 836.09h5.7M172.8 809.02h5.7M172.8 781.95h5.7M196.6 917.3v6.1M224.8 917.3v6.1M253 917.3v6.1M281.3 917.3v6.1M579 879.3h8.8M583.4 875v8.6M601.1 879.3h8.8M605.5 875v8.6" fill="none" stroke="#111" stroke-width="1.3"/>
<path d="M281.3 792.6v32.2M276.7 792.6h9.2M276.7 824.8h9.2" fill="none" stroke="#1010f0" stroke-width="1.6"/>
<path d="M224.8 903v5M220.5 903h8.5" fill="none" stroke="#1010f0" stroke-width="1.4"/>
<path d="M190.5 917.8h12.5" fill="none" stroke="#000" stroke-width="1.4"/>
<path d="M249 913.5h9M253 913.5v5" fill="none" stroke="#000" stroke-width="1.3"/>
<path d="M194.4 884.3h29.2M194.4 883.7v8.3M223.6 883.7v8.8M250.5 777.4h29.7M250.5 776.8v8.7M280.2 776.8v8.7" fill="none" stroke="#222" stroke-width="1.2"/>
<path d="M201.7 875.6v5.2M199.45 876.9L203.95 879.5M199.45 879.5L203.95 876.9M208.6 875.6v5.2M206.35 876.9L210.85 879.5M206.35 879.5L210.85 876.9M215.5 875.6v5.2M213.25 876.9L217.75 879.5M213.25 879.5L217.75 876.9M257.8 767.6v5.2M255.55 768.9L260.05 771.5M255.55 771.5L260.05 768.9M265.2 767.6v5.2M262.95 768.9L267.45 771.5M262.95 771.5L267.45 768.9M272.6 767.6v5.2M270.35 768.9L274.85 771.5M270.35 771.5L274.85 768.9" fill="none" stroke="#333" stroke-width="1.15"/>
<path d="M484 808.9h22.3M484 835.2h22.3" fill="none" stroke="#111" stroke-width="1.6"/>
<path d="M523.8 878.5h10M546.2 878.5h10.2" fill="none" stroke="#111" stroke-width="1.2"/>
</svg>
</body></html>
